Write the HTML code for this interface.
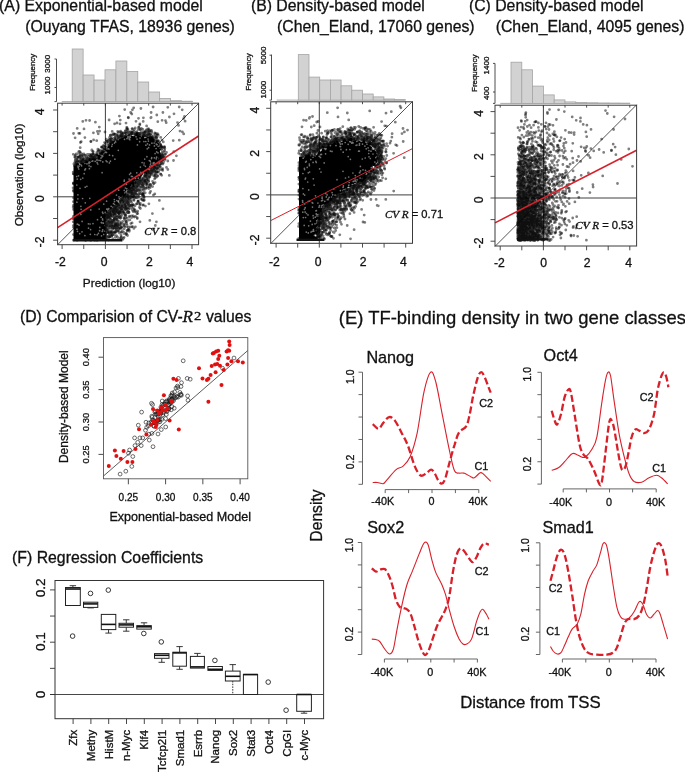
<!DOCTYPE html>
<html><head><meta charset="utf-8"><title>Figure</title>
<style>html,body{margin:0;padding:0;background:#fff;overflow:hidden}svg{display:block;will-change:transform}text{stroke:#111;stroke-width:0.3px}</style>
</head><body><svg width="685" height="774" viewBox="0 0 685 774"><defs><clipPath id="ca"><rect x="57.6" y="103.2" width="141.0" height="141.5"/></clipPath><clipPath id="cb"><rect x="270.7" y="101.8" width="141.8" height="141.5"/></clipPath><clipPath id="cc"><rect x="495.0" y="105.2" width="141.60000000000002" height="140.8"/></clipPath><filter id="bl" x="-5%" y="-5%" width="110%" height="110%"><feGaussianBlur stdDeviation="0.5"/></filter></defs><rect width="685" height="774" fill="#fff"/><text x="-0.90" y="11.20" font-size="15.8" text-anchor="start" font-family='"Liberation Sans", sans-serif' fill="#111">(A) Exponential-based model</text><text x="25.30" y="31.90" font-size="15.8" text-anchor="start" font-family='"Liberation Sans", sans-serif' fill="#111">(Ouyang TFAS, 18936 genes)</text><line x1="61.80" y1="101.60" x2="192.43" y2="101.60" stroke="#a8a8a8" stroke-width="1"/><rect x="72.20" y="49.00" width="10.93" height="52.60" fill="#d2d2d2" stroke="#a4a4a4" stroke-width="0.8"/><rect x="83.13" y="75.00" width="10.93" height="26.60" fill="#d2d2d2" stroke="#a4a4a4" stroke-width="0.8"/><rect x="94.06" y="80.00" width="10.93" height="21.60" fill="#d2d2d2" stroke="#a4a4a4" stroke-width="0.8"/><rect x="104.99" y="69.80" width="10.93" height="31.80" fill="#d2d2d2" stroke="#a4a4a4" stroke-width="0.8"/><rect x="115.92" y="61.00" width="10.93" height="40.60" fill="#d2d2d2" stroke="#a4a4a4" stroke-width="0.8"/><rect x="126.85" y="71.50" width="10.93" height="30.10" fill="#d2d2d2" stroke="#a4a4a4" stroke-width="0.8"/><rect x="137.78" y="82.00" width="10.93" height="19.60" fill="#d2d2d2" stroke="#a4a4a4" stroke-width="0.8"/><rect x="148.71" y="92.00" width="10.93" height="9.60" fill="#d2d2d2" stroke="#a4a4a4" stroke-width="0.8"/><rect x="159.64" y="98.40" width="10.93" height="3.20" fill="#d2d2d2" stroke="#a4a4a4" stroke-width="0.8"/><rect x="170.57" y="100.70" width="10.93" height="0.90" fill="#d2d2d2" stroke="#a4a4a4" stroke-width="0.8"/><rect x="181.50" y="101.20" width="10.93" height="0.40" fill="#d2d2d2" stroke="#a4a4a4" stroke-width="0.8"/><line x1="56.50" y1="59.00" x2="56.50" y2="101.60" stroke="#3a3a3a" stroke-width="0.9"/><line x1="54.50" y1="59.00" x2="56.50" y2="59.00" stroke="#3a3a3a" stroke-width="0.9"/><line x1="54.50" y1="87.50" x2="56.50" y2="87.50" stroke="#3a3a3a" stroke-width="0.9"/><line x1="54.50" y1="101.60" x2="56.50" y2="101.60" stroke="#3a3a3a" stroke-width="0.9"/><text x="50.30" y="63.80" font-size="8" text-anchor="middle" font-family='"Liberation Sans", sans-serif' fill="#111" transform="rotate(-90 50.30 63.80)">3000</text><text x="50.30" y="85.50" font-size="8" text-anchor="middle" font-family='"Liberation Sans", sans-serif' fill="#111" transform="rotate(-90 50.30 85.50)">1000</text><text x="35.50" y="72.40" font-size="7.9" text-anchor="middle" font-family='"Liberation Sans", sans-serif' fill="#111" transform="rotate(-90 35.50 72.40)">Frequency</text><text x="250.90" y="11.20" font-size="15.8" text-anchor="start" font-family='"Liberation Sans", sans-serif' fill="#111">(B) Density-based model</text><text x="277.00" y="31.90" font-size="15.8" text-anchor="start" font-family='"Liberation Sans", sans-serif' fill="#111">(Chen_Eland, 17060 genes)</text><line x1="276.70" y1="100.10" x2="405.30" y2="100.10" stroke="#a8a8a8" stroke-width="1"/><rect x="298.30" y="54.60" width="10.70" height="45.50" fill="#d2d2d2" stroke="#a4a4a4" stroke-width="0.8"/><rect x="309.00" y="77.10" width="10.70" height="23.00" fill="#d2d2d2" stroke="#a4a4a4" stroke-width="0.8"/><rect x="319.70" y="80.00" width="10.70" height="20.10" fill="#d2d2d2" stroke="#a4a4a4" stroke-width="0.8"/><rect x="330.40" y="80.00" width="10.70" height="20.10" fill="#d2d2d2" stroke="#a4a4a4" stroke-width="0.8"/><rect x="341.10" y="85.80" width="10.70" height="14.30" fill="#d2d2d2" stroke="#a4a4a4" stroke-width="0.8"/><rect x="351.80" y="90.20" width="10.70" height="9.90" fill="#d2d2d2" stroke="#a4a4a4" stroke-width="0.8"/><rect x="362.50" y="94.00" width="10.70" height="6.10" fill="#d2d2d2" stroke="#a4a4a4" stroke-width="0.8"/><rect x="373.20" y="96.90" width="10.70" height="3.20" fill="#d2d2d2" stroke="#a4a4a4" stroke-width="0.8"/><rect x="383.90" y="99.00" width="10.70" height="1.10" fill="#d2d2d2" stroke="#a4a4a4" stroke-width="0.8"/><rect x="394.60" y="99.60" width="10.70" height="0.50" fill="#d2d2d2" stroke="#a4a4a4" stroke-width="0.8"/><line x1="271.50" y1="54.60" x2="271.50" y2="100.10" stroke="#3a3a3a" stroke-width="0.9"/><line x1="269.50" y1="55.20" x2="271.50" y2="55.20" stroke="#3a3a3a" stroke-width="0.9"/><line x1="269.50" y1="90.20" x2="271.50" y2="90.20" stroke="#3a3a3a" stroke-width="0.9"/><line x1="269.50" y1="100.10" x2="271.50" y2="100.10" stroke="#3a3a3a" stroke-width="0.9"/><text x="266.30" y="55.40" font-size="8" text-anchor="middle" font-family='"Liberation Sans", sans-serif' fill="#111" transform="rotate(-90 266.30 55.40)">5000</text><text x="266.30" y="89.60" font-size="8" text-anchor="middle" font-family='"Liberation Sans", sans-serif' fill="#111" transform="rotate(-90 266.30 89.60)">1000</text><text x="251.20" y="72.00" font-size="7.9" text-anchor="middle" font-family='"Liberation Sans", sans-serif' fill="#111" transform="rotate(-90 251.20 72.00)">Frequency</text><text x="468.90" y="11.20" font-size="15.8" text-anchor="start" font-family='"Liberation Sans", sans-serif' fill="#111">(C) Density-based model</text><text x="495.70" y="31.90" font-size="15.8" text-anchor="start" font-family='"Liberation Sans", sans-serif' fill="#111">(Chen_Eland, 4095 genes)</text><line x1="500.30" y1="103.40" x2="629.80" y2="103.40" stroke="#a8a8a8" stroke-width="1"/><rect x="511.00" y="62.20" width="10.80" height="41.20" fill="#d2d2d2" stroke="#a4a4a4" stroke-width="0.8"/><rect x="521.80" y="69.80" width="10.80" height="33.60" fill="#d2d2d2" stroke="#a4a4a4" stroke-width="0.8"/><rect x="532.60" y="86.10" width="10.80" height="17.30" fill="#d2d2d2" stroke="#a4a4a4" stroke-width="0.8"/><rect x="543.40" y="94.90" width="10.80" height="8.50" fill="#d2d2d2" stroke="#a4a4a4" stroke-width="0.8"/><rect x="554.20" y="99.90" width="10.80" height="3.50" fill="#d2d2d2" stroke="#a4a4a4" stroke-width="0.8"/><rect x="565.00" y="101.90" width="10.80" height="1.50" fill="#d2d2d2" stroke="#a4a4a4" stroke-width="0.8"/><rect x="575.80" y="102.50" width="10.80" height="0.90" fill="#d2d2d2" stroke="#a4a4a4" stroke-width="0.8"/><rect x="586.60" y="102.80" width="10.80" height="0.60" fill="#d2d2d2" stroke="#a4a4a4" stroke-width="0.8"/><rect x="597.40" y="103.00" width="10.80" height="0.40" fill="#d2d2d2" stroke="#a4a4a4" stroke-width="0.8"/><rect x="608.20" y="103.10" width="10.80" height="0.30" fill="#d2d2d2" stroke="#a4a4a4" stroke-width="0.8"/><rect x="619.00" y="103.20" width="10.80" height="0.20" fill="#d2d2d2" stroke="#a4a4a4" stroke-width="0.8"/><line x1="495.00" y1="63.40" x2="495.00" y2="103.40" stroke="#3a3a3a" stroke-width="0.9"/><line x1="493.00" y1="63.40" x2="495.00" y2="63.40" stroke="#3a3a3a" stroke-width="0.9"/><line x1="493.00" y1="92.00" x2="495.00" y2="92.00" stroke="#3a3a3a" stroke-width="0.9"/><line x1="493.00" y1="103.40" x2="495.00" y2="103.40" stroke="#3a3a3a" stroke-width="0.9"/><text x="489.40" y="65.50" font-size="8" text-anchor="middle" font-family='"Liberation Sans", sans-serif' fill="#111" transform="rotate(-90 489.40 65.50)">1400</text><text x="489.40" y="93.30" font-size="8" text-anchor="middle" font-family='"Liberation Sans", sans-serif' fill="#111" transform="rotate(-90 489.40 93.30)">400</text><text x="477.30" y="73.30" font-size="7.9" text-anchor="middle" font-family='"Liberation Sans", sans-serif' fill="#111" transform="rotate(-90 477.30 73.30)">Frequency</text><line x1="105.40" y1="103.20" x2="105.40" y2="244.70" stroke="#2a2a2a" stroke-width="0.9"/><line x1="57.60" y1="196.80" x2="198.60" y2="196.80" stroke="#2a2a2a" stroke-width="0.9"/><line x1="57.60" y1="244.71" x2="198.60" y2="103.38" stroke="#2a2a2a" stroke-width="0.8"/><g clip-path="url(#ca)"><path d="M73.5 240.3 L73.5 238.7 L73.5 237.1 L73.5 235.5 L73.5 233.8 L73.5 232.2 L73.5 230.6 L73.5 229.0 L73.5 227.4 L73.5 225.8 L73.5 224.1 L73.5 222.5 L73.5 220.9 L73.5 219.3 L73.5 217.7 L73.5 216.1 L73.5 214.5 L73.5 212.8 L73.5 211.2 L73.5 209.6 L73.5 208.0 L73.5 206.4 L73.5 204.8 L73.5 203.2 L73.5 201.5 L73.5 199.9 L73.5 198.3 L73.5 196.7 L73.5 195.1 L73.5 193.5 L73.5 191.8 L73.5 190.2 L73.5 188.6 L73.5 187.0 L73.5 185.4 L73.5 183.8 L73.5 182.2 L73.5 180.5 L73.5 178.9 L73.5 177.3 L73.5 175.7 L73.5 174.1 L73.5 172.5 L73.5 170.8 L73.5 169.2 L73.5 167.6 L73.5 166.0 L75.1 165.8 L76.5 163.8 L77.9 163.1 L80.1 165.3 L81.1 162.4 L83.9 163.0 L85.0 162.0 L86.8 160.3 L88.2 161.6 L88.3 159.6 L89.2 158.0 L90.9 158.6 L93.2 158.6 L96.6 157.4 L98.0 157.0 L96.4 155.2 L100.8 154.7 L100.5 152.8 L102.6 151.2 L105.2 151.0 L107.4 148.6 L107.1 149.3 L107.4 146.7 L109.2 145.5 L110.0 144.0 L109.9 143.2 L114.3 140.3 L115.0 141.4 L114.6 142.7 L117.6 138.0 L118.0 138.5 L119.7 138.7 L121.0 138.3 L122.7 137.8 L126.1 135.7 L126.0 136.0 L127.8 135.1 L129.4 134.0 L130.1 134.9 L133.5 136.2 L134.0 134.5 L134.0 133.8 L138.0 132.7 L138.2 135.3 L141.9 136.5 L142.0 136.0 L143.2 135.9 L144.9 138.4 L146.3 136.5 L148.8 137.1 L150.0 137.5 L151.4 136.8 L153.3 138.3 L155.0 139.5 L157.7 141.6 L157.6 143.0 L159.0 143.5 L159.4 146.6 L160.7 147.9 L161.5 149.0 L159.8 151.2 L159.2 150.1 L160.8 153.2 L161.0 156.0 L160.2 160.5 L158.0 158.9 L158.0 161.5 L157.0 163.6 L155.3 164.3 L155.1 166.6 L153.0 167.5 L150.3 168.7 L150.0 168.7 L148.8 170.2 L147.0 172.5 L147.0 173.9 L144.7 174.2 L143.3 173.7 L140.8 177.7 L141.0 178.5 L136.9 180.5 L135.9 181.4 L135.5 182.4 L135.0 182.5 L134.0 182.0 L134.2 187.0 L131.5 186.3 L130.3 186.8 L130.7 188.7 L128.2 189.8 L126.4 190.6 L126.0 193.5 L126.4 194.7 L124.9 196.2 L121.7 197.2 L120.8 198.9 L119.8 199.9 L117.5 200.7 L118.0 203.0 L118.7 203.5 L114.1 206.0 L115.8 205.2 L112.5 207.4 L111.5 209.5 L107.8 211.5 L108.4 211.8 L105.9 213.4 L105.3 214.0 L105.3 215.6 L105.3 217.3 L105.3 218.9 L105.3 220.6 L105.3 222.2 L105.3 223.9 L105.3 225.5 L105.3 227.2 L105.3 228.8 L105.3 230.4 L105.3 232.1 L105.3 233.7 L105.3 235.4 L105.3 237.0 L105.3 238.7 L105.3 240.3 L103.6 240.3 L102.0 240.3 L100.3 240.3 L98.6 240.3 L96.9 240.3 L95.3 240.3 L93.6 240.3 L91.9 240.3 L90.2 240.3 L88.6 240.3 L86.9 240.3 L85.2 240.3 L83.5 240.3 L81.9 240.3 L80.2 240.3 L78.5 240.3 L76.8 240.3 L75.2 240.3Z" fill="#000" filter="url(#bl)"/></g><g clip-path="url(#ca)"><path d="M154.1 165.9h0M90.3 234.3h0M77.0 229.2h0M144.0 165.0h0M101.5 154.6h0M143.7 175.0h0M101.1 154.8h0M84.9 170.1h0M129.7 137.0h0M156.6 144.6h0M102.5 212.2h0M80.7 179.3h0M124.5 139.3h0M85.2 187.2h0M85.0 169.3h0M90.0 162.3h0M111.8 142.8h0M106.5 152.5h0M136.1 136.7h0M82.0 231.8h0M143.9 141.5h0M130.2 135.9h0M137.0 139.1h0M110.4 161.2h0M107.1 161.8h0M81.6 165.8h0M160.4 148.3h0M89.1 165.8h0M113.5 203.7h0M78.5 175.8h0M154.1 164.0h0M143.1 175.9h0M150.4 164.8h0M154.0 162.7h0M102.5 218.9h0M103.0 213.3h0M155.5 141.3h0M114.5 201.6h0M107.8 210.1h0M104.5 231.1h0M106.7 209.1h0M97.0 160.3h0M101.0 155.2h0M112.7 155.7h0M106.6 201.2h0M103.8 204.1h0M112.3 144.4h0M129.8 139.7h0M85.6 168.8h0M98.4 233.4h0M97.2 234.8h0M126.3 183.9h0M101.2 217.2h0M137.2 181.0h0M134.6 181.8h0M140.0 138.0h0M148.6 169.2h0M97.1 162.7h0M107.6 209.1h0M158.2 146.3h0M114.8 204.6h0M80.3 212.9h0M88.7 162.0h0M154.7 163.4h0M97.5 219.7h0M119.4 198.6h0M145.0 173.9h0M101.7 222.8h0M77.2 179.1h0M87.0 163.8h0M90.9 166.6h0M128.0 136.4h0M79.7 233.7h0M139.6 141.7h0M84.9 235.6h0M114.4 143.1h0M159.1 158.3h0M152.0 165.6h0M156.2 158.8h0M144.1 163.0h0M140.4 167.1h0M125.4 188.0h0M157.1 144.6h0M102.8 156.0h0M129.2 138.9h0M77.5 231.3h0M111.8 146.3h0M86.9 186.3h0M124.2 181.2h0M90.6 229.6h0M111.2 206.3h0M121.0 197.6h0M158.0 152.8h0M126.5 184.3h0M132.4 176.5h0M84.8 163.3h0M124.8 193.0h0M108.6 149.0h0M95.2 161.3h0M152.2 167.8h0M149.5 144.9h0M142.1 162.6h0M89.0 163.6h0M136.8 172.8h0M80.0 188.3h0M77.9 194.8h0M89.8 198.3h0M99.0 160.3h0M139.5 175.3h0M99.6 230.7h0M82.1 221.4h0M151.7 157.5h0M155.5 140.4h0M109.4 162.9h0M151.5 158.6h0M148.1 139.0h0M155.1 153.6h0M80.9 214.4h0M78.8 169.0h0M105.0 225.5h0M138.3 175.5h0M77.6 165.8h0M77.9 198.8h0M156.1 148.5h0M108.0 211.6h0M105.7 152.1h0M147.2 148.8h0M103.8 234.5h0M143.5 173.1h0M102.2 231.4h0M144.7 159.1h0M80.9 206.3h0M112.8 207.4h0M137.4 144.9h0M105.5 213.5h0M78.5 224.5h0M141.4 173.6h0M101.8 222.7h0M129.6 174.4h0M127.0 138.6h0M101.5 235.8h0M145.8 141.5h0M85.3 202.8h0M106.1 160.8h0M131.5 176.4h0M90.1 224.0h0M109.0 210.5h0M92.7 160.9h0M108.1 149.0h0M149.7 166.5h0M118.3 150.3h0M156.2 144.1h0M90.9 159.8h0M82.8 178.1h0M156.6 157.2h0M148.6 147.7h0M97.8 164.0h0M89.4 168.7h0M104.8 152.4h0M108.8 208.7h0M145.4 166.3h0M82.6 198.5h0M93.0 223.6h0M101.8 155.3h0M149.0 169.1h0M101.3 222.5h0M102.7 229.8h0M128.0 137.5h0M118.7 190.2h0M108.4 209.6h0M76.7 176.5h0M124.3 180.2h0M119.0 196.8h0M76.9 202.2h0M78.2 167.6h0M135.3 178.1h0M147.5 143.8h0M130.7 173.2h0M90.8 209.9h0M135.5 178.5h0M114.3 199.5h0M111.3 209.6h0M109.5 155.2h0M151.9 143.2h0M102.1 172.7h0M132.0 185.4h0M100.6 160.6h0M154.4 157.8h0M77.3 224.2h0M146.9 156.7h0M125.6 192.1h0M103.5 153.7h0M156.7 151.9h0M99.2 209.0h0M102.8 161.9h0M102.7 220.0h0M126.8 188.8h0M76.8 185.0h0M146.3 137.0h0M150.3 161.2h0M140.9 172.3h0M97.0 159.3h0M81.1 209.3h0M154.2 143.0h0M153.1 163.1h0M116.5 195.1h0M145.9 145.2h0M150.1 169.6h0M79.1 225.2h0M114.9 159.2h0M119.8 199.1h0M99.8 227.4h0M135.4 181.4h0M116.8 200.5h0M134.5 134.8h0M152.8 165.3h0M101.0 158.1h0M108.9 149.0h0M122.7 196.5h0M105.2 212.3h0M149.3 160.6h0M92.0 161.2h0M130.3 137.5h0M150.7 163.0h0M115.7 142.0h0M84.2 173.7h0M148.4 141.1h0M89.3 161.9h0M118.3 139.4h0M129.1 179.1h0M124.2 190.3h0M138.3 178.2h0M103.4 223.2h0M94.9 158.2h0M103.9 234.5h0M81.2 164.8h0M154.4 145.9h0M118.1 139.4h0M94.8 234.5h0M102.1 156.8h0M88.4 223.8h0M88.5 228.2h0M154.7 163.7h0M79.1 166.1h0" fill="none" stroke="#fff" stroke-opacity="0.45" stroke-width="1.7" stroke-linecap="round" filter="url(#bl)"/></g><g clip-path="url(#ca)"><g fill="none" stroke="#000" stroke-opacity="0.5" stroke-width="2.84" stroke-linecap="round" filter="url(#bl)"><path d="M156.9 168.4h0M126.6 129.1h0M114.2 213.9h0M150.9 134.9h0M120.7 239.3h0M159.7 159.3h0M119.4 203.0h0M146.7 180.6h0M109.7 232.3h0M143.3 194.5h0M128.7 209.2h0M165.3 154.1h0M113.7 208.0h0M136.2 132.9h0M139.3 134.9h0M149.4 176.8h0M125.9 222.0h0M107.4 229.2h0M139.4 133.5h0M130.9 189.5h0M143.6 134.1h0M165.1 159.6h0M154.5 167.4h0M127.0 195.3h0M143.6 135.3h0M134.2 133.6h0M139.1 184.7h0M139.4 207.4h0M124.3 228.8h0M128.7 190.3h0M118.1 226.8h0M132.3 193.7h0M161.2 158.1h0M80.3 155.0h0M140.7 180.8h0M121.1 137.4h0M143.0 135.1h0M125.0 136.3h0M73.4 201.7h0M124.7 224.1h0M109.8 212.2h0M111.6 231.9h0M112.5 231.9h0M138.6 127.3h0M111.4 222.8h0M131.8 189.0h0M125.8 202.4h0M157.8 176.0h0M133.1 211.5h0M157.4 164.1h0M88.3 156.7h0M109.6 218.7h0M145.0 174.9h0M148.5 172.3h0M123.8 232.3h0M113.8 138.3h0M114.8 213.3h0M93.5 157.9h0M149.7 175.9h0M137.6 181.1h0M114.7 207.0h0M117.9 206.5h0M149.4 137.0h0M141.1 192.1h0M73.5 197.8h0M120.5 218.2h0M110.9 231.5h0M115.3 140.0h0M152.7 169.8h0M129.7 199.0h0M119.3 217.1h0M90.7 240.4h0M81.7 158.9h0M81.0 152.8h0M90.9 156.3h0M110.5 228.4h0M109.5 228.4h0M121.6 136.8h0M113.0 213.7h0M103.2 149.8h0M105.8 227.2h0M158.8 160.2h0M85.7 161.5h0M149.8 131.6h0M158.7 160.5h0M163.9 151.7h0M117.2 225.1h0M106.1 236.6h0M121.2 237.4h0M125.7 194.0h0M142.9 200.1h0M113.6 223.5h0M110.1 232.8h0M143.2 135.4h0M117.0 227.2h0M110.0 223.6h0M110.4 236.8h0M162.1 157.8h0M134.5 132.4h0M124.6 204.6h0M109.2 230.6h0M75.6 156.3h0M128.5 201.6h0M85.2 161.1h0M76.9 159.2h0M117.9 137.3h0M120.3 137.3h0M112.1 209.7h0M138.4 184.0h0M124.5 208.3h0M123.5 201.8h0M91.2 155.2h0M109.2 144.8h0M121.9 199.3h0M147.6 135.1h0M130.9 192.7h0M136.5 190.6h0M106.0 214.5h0M126.7 233.6h0M103.9 149.2h0M144.2 197.7h0M132.9 196.8h0M136.6 212.5h0M135.3 210.5h0M107.0 212.8h0M156.3 136.9h0M114.6 224.2h0M106.4 216.7h0M117.6 203.7h0M146.2 183.7h0M149.8 131.4h0M130.5 205.2h0M125.8 217.7h0M110.8 214.8h0M131.4 132.5h0M105.3 236.1h0M138.8 197.1h0M148.6 179.3h0M145.2 192.8h0M158.4 166.0h0M156.8 177.1h0M146.0 187.9h0M116.4 235.7h0M81.8 163.1h0M137.1 217.6h0M143.7 187.2h0M108.1 237.8h0M110.3 221.5h0M147.5 131.9h0M117.1 135.4h0M161.1 156.3h0M107.0 221.9h0M142.2 134.0h0M116.3 225.2h0M112.2 210.5h0M109.1 230.3h0M157.9 165.6h0M121.1 199.9h0M160.1 169.8h0M110.6 135.2h0M76.9 163.9h0M129.1 212.5h0M112.6 225.0h0M100.4 152.5h0M109.8 223.1h0M110.7 227.8h0M100.4 151.7h0M147.5 136.6h0M106.2 226.2h0M107.6 232.2h0M134.7 190.2h0M113.4 209.3h0M118.3 204.8h0M123.5 204.8h0M122.4 205.4h0M123.0 197.6h0M124.4 213.4h0M122.1 207.7h0M143.4 189.7h0M135.0 205.8h0M107.4 215.2h0M125.9 215.5h0M121.6 132.5h0M142.3 198.7h0M151.7 170.2h0M161.7 153.9h0M140.6 134.9h0M158.2 172.2h0M87.3 158.8h0M128.2 210.7h0M114.5 231.8h0M162.8 154.1h0M114.8 214.3h0M150.0 172.9h0M154.8 132.9h0M140.3 182.0h0M108.9 226.8h0M149.4 134.4h0M131.0 134.2h0M112.4 141.6h0M141.1 193.6h0M109.4 139.5h0M151.6 169.7h0M131.3 134.3h0M126.0 198.4h0M126.3 208.7h0M122.0 213.5h0M145.0 180.4h0M108.5 238.2h0M128.6 229.4h0M75.0 157.6h0M162.6 168.6h0M73.4 225.6h0M115.8 231.3h0M152.4 173.1h0M152.3 137.5h0M114.0 228.0h0M117.5 210.1h0M144.8 135.8h0M105.7 237.5h0M122.4 134.2h0M131.8 190.1h0M108.5 216.5h0M96.8 152.7h0M73.9 163.9h0M119.8 135.9h0M135.4 183.0h0M111.6 221.7h0M105.4 239.3h0M81.4 161.2h0M134.0 200.4h0M143.2 135.5h0M112.3 215.9h0M145.8 182.4h0M138.9 203.1h0M140.1 187.1h0M154.8 171.5h0M82.5 160.5h0M120.4 207.7h0M116.1 207.0h0M113.8 133.7h0M108.2 220.8h0M163.7 153.2h0M137.0 134.4h0M135.5 182.6h0M73.4 182.9h0M142.7 205.2h0M134.1 196.0h0M126.8 201.7h0M119.6 203.3h0M133.4 184.8h0M140.2 180.7h0M107.2 230.2h0M88.3 157.2h0M151.6 135.4h0M107.5 217.9h0M152.6 186.6h0M123.7 200.9h0M109.6 215.8h0M147.2 173.4h0M161.2 163.9h0M115.6 209.7h0M85.6 240.5h0M111.1 134.8h0M108.5 240.0h0M160.0 161.9h0M112.7 214.3h0M164.8 148.7h0M124.5 200.0h0M97.1 240.4h0M73.1 187.8h0M149.2 135.4h0M125.5 202.6h0M87.3 161.0h0M144.3 132.7h0M102.1 153.4h0M121.2 199.3h0M115.3 237.4h0M115.4 209.2h0M144.1 177.4h0M142.9 184.9h0M149.0 130.2h0M111.9 234.5h0M125.0 217.4h0M96.1 157.0h0M134.4 186.1h0M120.0 201.7h0M160.7 174.2h0M115.3 207.8h0M146.6 130.9h0M146.2 174.8h0M101.2 150.4h0M140.0 129.6h0M116.6 223.9h0M134.5 192.8h0M118.7 205.0h0M128.2 191.6h0M146.2 173.6h0M106.5 226.9h0M109.7 213.3h0M132.9 189.7h0M140.1 190.6h0M83.8 161.3h0M118.2 207.4h0M141.4 128.5h0M95.4 157.3h0M84.0 161.5h0M160.4 161.8h0M116.1 212.1h0M162.5 146.9h0M119.6 224.6h0M101.7 147.4h0M115.7 206.6h0M122.8 211.9h0M136.5 133.4h0M126.9 198.3h0M148.2 136.2h0M121.6 227.7h0M107.8 213.5h0M118.4 213.5h0M163.5 162.6h0M91.5 156.6h0M113.9 220.0h0M117.2 208.0h0M163.1 147.2h0M111.5 141.5h0M123.1 200.2h0M139.0 185.1h0M109.1 230.7h0M114.9 207.7h0M150.7 184.7h0M137.0 185.8h0M127.6 195.3h0M78.2 156.8h0M161.5 159.5h0M115.2 209.9h0M143.0 179.5h0M82.7 161.1h0M121.1 232.1h0M80.3 154.0h0M74.3 164.8h0M117.1 219.9h0M120.0 212.1h0M114.7 208.0h0M115.7 228.4h0M154.3 170.5h0M146.2 184.4h0M73.2 221.8h0M119.0 231.0h0M160.7 157.2h0M136.5 203.9h0M110.5 142.9h0M124.9 227.0h0M130.8 205.9h0M144.0 196.4h0M118.8 228.8h0M131.0 187.9h0M121.6 208.9h0M162.3 160.6h0M163.9 161.4h0M154.6 178.9h0M124.4 207.8h0M164.5 146.6h0M138.1 181.2h0M125.3 133.6h0M114.5 227.7h0M118.2 212.9h0M166.5 152.4h0M122.3 199.2h0M112.7 216.1h0M125.6 206.1h0M145.5 174.2h0M125.4 207.8h0M124.0 233.5h0M157.7 141.6h0M137.0 213.7h0M124.9 195.2h0M132.4 205.6h0M160.1 161.7h0M126.4 197.9h0M144.2 190.7h0M113.5 212.0h0M73.4 227.2h0M96.8 155.2h0M77.4 162.0h0M133.7 131.3h0M132.3 187.7h0M160.8 146.0h0M116.8 211.1h0M119.7 204.3h0M154.7 175.7h0M131.6 192.9h0M135.7 182.2h0M132.5 128.7h0M158.5 162.1h0M97.0 152.0h0M83.2 158.7h0M91.3 155.2h0M111.6 236.2h0M113.3 224.0h0M130.4 189.3h0M127.9 204.7h0M147.5 134.1h0M114.2 225.7h0M111.7 214.1h0M128.4 196.4h0M180.0 131.1h0M183.7 133.9h0M90.8 141.3h0M159.4 200.4h0M98.2 133.8h0M146.6 125.9h0M138.5 118.3h0M139.8 124.9h0M143.4 117.8h0M156.8 115.0h0M153.1 107.0h0M84.9 137.6h0M97.4 131.4h0M99.6 131.2h0M161.7 175.3h0M173.2 140.6h0M81.2 141.7h0M176.4 155.8h0M136.0 121.3h0M162.9 112.5h0M184.5 116.5h0M145.4 206.1h0M166.2 122.7h0M131.8 114.0h0"/><path d="M149.9 171.2h0M134.1 195.6h0M126.1 196.3h0M122.2 205.4h0M121.7 215.6h0M137.1 186.8h0M111.1 232.9h0M122.4 203.6h0M122.9 197.3h0M115.1 213.0h0M106.0 218.7h0M107.7 217.9h0M145.4 131.3h0M90.8 156.5h0M128.8 206.5h0M159.3 160.7h0M135.6 191.4h0M123.3 199.2h0M136.0 195.8h0M159.7 160.4h0M143.2 135.9h0M143.3 185.2h0M136.9 135.0h0M117.4 221.2h0M135.6 185.0h0M153.5 137.8h0M122.9 198.9h0M124.3 204.4h0M129.0 133.5h0M131.8 187.5h0M85.8 161.7h0M106.6 225.1h0M117.6 223.4h0M84.4 157.6h0M138.5 184.5h0M121.4 200.7h0M119.4 207.9h0M112.3 226.2h0M130.1 131.6h0M146.3 129.8h0M110.2 143.6h0M134.7 186.7h0M120.8 135.9h0M81.3 162.9h0M146.7 184.1h0M105.3 148.6h0M114.2 234.9h0M110.1 226.5h0M103.7 147.6h0M111.0 215.1h0M137.4 197.8h0M128.3 227.5h0M133.1 215.9h0M160.4 158.2h0M149.1 186.8h0M156.8 139.5h0M117.9 225.6h0M143.7 195.9h0M123.5 207.1h0M124.1 237.3h0M122.4 198.4h0M126.4 210.5h0M151.5 172.6h0M129.3 231.3h0M90.5 157.2h0M160.4 144.3h0M128.1 198.1h0M135.2 197.2h0M140.3 182.8h0M127.8 208.2h0M108.0 140.5h0M111.7 210.7h0M98.3 151.0h0M156.4 172.2h0M133.9 192.7h0M148.1 131.3h0M93.5 157.4h0M116.9 210.4h0M83.4 161.2h0M91.4 155.0h0M123.2 132.9h0M121.2 202.9h0M127.1 195.4h0M136.2 195.7h0M105.7 239.8h0M109.7 234.8h0M109.4 236.7h0M112.7 216.7h0M122.2 137.0h0M85.4 157.4h0M140.2 181.5h0M128.4 134.2h0M139.0 127.4h0M113.5 134.5h0M88.3 159.2h0M130.8 196.6h0M164.8 158.7h0M102.9 151.6h0M118.4 218.2h0M111.2 212.2h0M145.2 180.2h0M128.1 212.9h0M110.5 141.0h0M113.4 228.1h0M140.9 133.3h0M106.1 219.9h0M141.8 185.5h0M148.4 172.0h0M105.4 215.4h0M121.3 135.7h0M146.1 135.4h0M95.5 156.4h0M146.4 183.2h0M130.4 194.6h0M136.6 194.1h0M152.8 138.5h0M135.8 185.1h0M114.4 218.3h0M129.0 216.9h0M155.5 169.9h0M107.1 223.5h0M145.1 175.9h0M150.3 184.5h0M94.6 157.1h0M93.2 158.7h0M164.0 158.2h0M88.7 160.4h0M147.5 172.4h0M119.2 212.0h0M117.0 225.2h0M112.9 216.5h0M142.0 194.5h0M119.5 228.4h0M128.5 200.3h0M157.0 137.4h0M118.7 212.8h0M101.8 153.7h0M116.6 216.1h0M107.0 216.1h0M138.3 189.6h0M107.8 213.5h0M76.9 164.1h0M122.6 201.9h0M142.8 178.7h0M135.7 187.4h0M162.1 169.6h0M139.7 183.5h0M91.9 150.0h0M156.3 140.8h0M96.7 155.2h0M162.7 155.9h0M126.1 135.2h0M115.5 206.3h0M128.3 191.3h0M84.1 162.1h0M150.8 174.1h0M130.3 189.1h0M139.9 133.8h0M160.8 158.3h0M137.9 201.3h0M123.6 196.7h0M131.5 133.6h0M143.7 197.1h0M115.6 218.4h0M120.6 210.4h0M116.1 228.5h0M132.0 128.8h0M107.3 216.4h0M110.9 234.9h0M155.7 137.5h0M128.2 193.2h0M125.8 132.1h0M156.1 169.5h0M131.0 134.1h0M123.0 203.3h0M119.4 215.6h0M95.6 156.2h0M156.6 165.5h0M123.3 211.6h0M131.8 186.9h0M112.1 211.6h0M114.5 232.8h0M116.1 213.0h0M157.7 140.4h0M130.9 192.7h0M114.6 208.3h0M150.3 137.2h0M163.6 156.5h0M134.4 186.5h0M156.3 139.1h0M135.7 197.3h0M143.6 184.5h0M144.5 178.9h0M158.3 135.3h0M115.6 217.3h0M128.1 204.0h0M133.6 189.7h0M118.4 228.4h0M132.6 226.7h0M73.4 216.5h0M106.2 139.8h0M143.5 204.9h0M81.7 162.5h0M134.0 210.2h0M150.5 130.6h0M78.5 161.6h0M153.6 183.8h0M135.5 216.4h0M156.5 134.8h0M154.9 165.8h0M128.7 203.4h0M162.9 164.0h0M143.3 179.0h0M128.0 203.9h0M82.1 161.4h0M103.5 145.5h0M76.3 162.4h0M121.6 204.6h0M162.2 152.0h0M111.9 233.0h0M99.2 152.7h0M148.9 133.4h0M116.9 204.1h0M91.8 150.2h0M128.1 229.6h0M140.8 199.1h0M107.7 213.9h0M131.2 190.9h0M137.7 211.2h0M111.5 223.0h0M142.9 133.2h0M131.3 200.6h0M141.7 186.6h0M73.2 172.2h0M80.8 162.4h0M104.9 147.6h0M122.5 210.2h0M121.0 234.9h0M104.2 148.5h0M137.3 190.7h0M127.0 211.7h0M146.8 176.7h0M117.8 209.5h0M147.3 133.4h0M160.8 147.2h0M122.3 137.0h0M152.2 171.8h0M128.4 191.6h0M106.9 225.0h0M121.0 223.2h0M93.5 158.1h0M113.9 212.2h0M109.4 227.5h0M108.4 232.8h0M82.8 159.8h0M124.9 206.0h0M128.5 211.8h0M107.0 229.1h0M143.1 193.0h0M155.0 169.3h0M130.9 133.1h0M146.1 188.4h0M143.4 135.3h0M143.8 200.5h0M117.7 224.4h0M86.6 160.4h0M111.3 138.3h0M164.7 157.4h0M123.6 201.1h0M110.6 227.4h0M117.8 230.8h0M95.2 157.7h0M108.0 221.2h0M157.5 163.1h0M163.3 141.9h0M109.0 217.0h0M161.5 146.8h0M133.3 208.2h0M137.6 184.9h0M115.0 137.1h0M142.4 186.3h0M135.0 183.7h0M125.0 208.6h0M112.2 209.7h0M131.7 205.1h0M114.0 212.0h0M119.7 131.8h0M131.3 194.4h0M109.3 223.2h0M125.4 130.7h0M150.4 136.7h0M113.3 210.4h0M133.9 199.5h0M110.4 141.7h0M132.4 210.0h0M111.3 143.0h0M112.3 220.2h0M86.6 161.4h0M73.4 173.8h0M160.1 165.9h0M120.6 216.5h0M163.6 158.9h0M113.8 212.1h0M160.7 137.4h0M104.9 148.7h0M135.2 191.1h0M138.1 129.5h0M145.6 176.0h0M82.6 156.7h0M159.1 160.2h0M160.1 166.4h0M106.3 139.2h0M122.7 221.3h0M114.3 226.7h0M143.2 182.2h0M105.9 233.4h0M136.9 187.0h0M105.4 229.7h0M104.5 142.6h0M131.8 132.9h0M155.8 167.9h0M146.1 130.9h0M129.7 134.5h0M156.5 172.0h0M110.2 213.7h0M135.2 182.7h0M142.0 186.6h0M145.4 133.1h0M131.1 189.0h0M112.9 215.3h0M132.5 131.3h0M77.1 240.3h0M73.2 207.2h0M116.4 206.5h0M130.6 193.1h0M106.7 214.9h0M117.2 223.9h0M107.9 228.6h0M135.2 128.0h0M126.1 234.7h0M93.1 154.4h0M122.3 240.1h0M160.8 174.2h0M79.6 157.0h0M118.8 204.2h0M155.7 165.2h0M102.4 146.8h0M108.4 236.6h0M107.4 215.1h0M137.3 133.2h0M147.4 179.6h0M145.3 180.1h0M123.3 199.4h0M119.0 205.4h0M113.2 220.4h0M107.6 141.5h0M149.6 171.2h0M147.0 134.8h0M143.8 182.6h0M105.6 217.5h0M146.3 135.8h0M145.5 188.5h0M115.7 224.9h0M146.0 182.3h0M132.4 192.0h0M154.8 134.0h0M146.1 135.9h0M150.6 191.3h0M82.7 162.0h0M112.5 229.6h0M160.2 144.2h0M116.3 209.4h0M127.7 132.3h0M154.8 173.0h0M138.5 183.1h0M120.1 212.6h0M162.6 159.9h0M125.5 220.5h0M116.6 204.6h0M154.5 168.9h0M140.3 182.1h0M150.5 186.0h0M156.9 137.3h0M161.1 156.0h0M127.2 128.0h0M83.4 161.4h0M105.7 228.4h0M151.2 173.6h0M133.7 197.3h0M153.3 183.2h0M164.7 150.6h0M90.4 159.5h0M82.9 161.6h0M107.5 220.2h0M86.7 160.8h0M115.7 214.5h0M94.3 154.8h0M157.8 168.1h0M131.6 202.4h0M99.8 152.9h0M87.8 158.4h0M102.2 153.5h0M85.3 155.6h0M115.5 139.6h0M114.2 233.1h0M160.4 157.6h0M151.1 112.5h0M149.8 220.4h0M167.8 107.3h0M152.6 229.6h0M139.9 123.8h0M174.0 113.8h0M114.6 123.8h0M153.4 195.1h0M133.9 228.4h0M167.8 161.0h0M73.5 133.5h0M133.7 107.8h0M120.0 123.8h0M157.8 121.7h0M185.1 121.2h0M179.3 140.2h0M165.5 120.6h0M183.6 118.6h0M169.4 117.0h0M173.5 160.5h0M140.0 221.8h0M89.6 120.5h0M80.2 147.7h0"/><path d="M131.0 195.6h0M111.5 224.3h0M136.5 183.1h0M148.0 181.4h0M100.3 153.7h0M158.8 164.7h0M111.2 212.9h0M113.5 212.9h0M127.7 194.8h0M164.1 157.5h0M102.1 151.6h0M122.2 135.9h0M139.5 193.9h0M155.8 174.1h0M132.1 188.1h0M117.8 215.7h0M126.6 201.3h0M134.6 183.4h0M137.9 180.7h0M145.8 176.0h0M116.5 205.7h0M118.1 135.7h0M149.0 131.5h0M115.7 231.5h0M148.1 181.7h0M147.8 174.4h0M112.6 222.4h0M127.5 129.9h0M75.9 162.9h0M128.9 190.9h0M134.0 190.8h0M148.2 172.2h0M109.1 215.2h0M82.7 155.0h0M116.1 223.1h0M129.8 192.4h0M125.5 204.9h0M128.5 193.2h0M106.3 235.6h0M86.9 160.7h0M151.9 137.4h0M136.0 188.4h0M126.3 205.0h0M74.4 165.6h0M115.4 232.0h0M146.8 135.4h0M156.9 164.5h0M93.1 153.5h0M92.2 156.5h0M119.3 238.1h0M117.4 236.9h0M84.2 162.1h0M105.5 149.9h0M116.4 225.9h0M148.5 181.8h0M106.3 238.8h0M133.1 194.1h0M154.2 168.0h0M122.4 230.7h0M120.0 211.4h0M162.7 170.4h0M126.5 222.1h0M121.8 200.5h0M123.8 217.9h0M134.2 188.8h0M133.3 184.9h0M148.8 128.8h0M129.6 205.3h0M148.8 176.8h0M98.5 150.3h0M116.6 205.6h0M148.3 136.7h0M109.0 144.7h0M132.0 133.9h0M112.3 235.1h0M143.9 176.2h0M105.6 223.8h0M125.8 206.5h0M159.0 159.9h0M118.7 224.3h0M126.4 133.4h0M134.6 183.6h0M114.7 212.2h0M125.4 135.8h0M153.3 167.6h0M106.8 217.6h0M143.0 193.6h0M126.1 207.8h0M131.8 132.2h0M89.0 158.7h0M114.5 217.9h0M106.7 231.2h0M156.3 164.0h0M155.3 177.7h0M119.2 216.6h0M142.2 181.2h0M147.3 173.6h0M160.9 158.0h0M115.0 206.5h0M155.1 182.6h0M106.9 223.1h0M127.8 192.2h0M142.1 178.4h0M160.8 160.7h0M109.8 221.9h0M131.9 226.9h0M129.9 219.9h0M137.0 203.7h0M125.9 195.4h0M73.3 154.3h0M85.0 155.2h0M151.5 174.3h0M97.0 154.7h0M127.7 194.9h0M112.3 222.4h0M125.9 233.4h0M110.4 141.1h0M159.0 143.3h0M110.2 216.9h0M83.4 159.5h0M119.1 213.9h0M123.9 135.9h0M128.4 196.4h0M91.0 159.0h0M85.8 161.0h0M97.1 154.0h0M133.7 190.9h0M80.1 161.0h0M139.9 205.0h0M114.0 208.0h0M130.8 191.2h0M84.1 159.8h0M113.8 214.5h0M87.2 159.5h0M120.5 218.0h0M105.5 143.5h0M122.0 202.9h0M107.8 213.6h0M79.7 152.4h0M153.3 175.3h0M160.3 167.3h0M114.6 207.7h0M87.4 154.4h0M108.7 223.3h0M114.0 221.2h0M107.4 225.3h0M123.5 211.0h0M120.5 216.5h0M142.0 183.5h0M77.7 161.0h0M149.7 134.7h0M146.5 182.4h0M116.9 218.8h0M133.2 191.1h0M114.8 215.0h0M126.8 218.2h0M76.4 164.8h0M154.9 167.8h0M160.5 157.1h0M156.6 172.6h0M121.0 207.3h0M115.2 219.6h0M76.3 153.8h0M106.3 216.1h0M127.5 235.5h0M112.5 228.1h0M117.8 224.1h0M123.6 224.6h0M86.1 158.6h0M107.0 142.5h0M152.0 169.0h0M93.4 155.4h0M121.0 135.6h0M144.5 134.0h0M121.7 205.7h0M143.3 132.4h0M133.1 204.6h0M161.6 147.3h0M150.4 173.0h0M105.5 226.6h0M109.6 225.8h0M112.7 134.8h0M165.3 154.4h0M142.4 195.0h0M105.6 220.1h0M86.9 160.9h0M128.8 195.8h0M153.8 175.8h0M84.9 161.1h0M110.5 218.7h0M115.6 231.8h0M116.2 215.6h0M137.6 185.8h0M129.2 198.7h0M132.0 192.8h0M129.8 216.1h0M154.0 166.8h0M144.2 181.1h0M160.9 163.6h0M111.8 213.3h0M162.6 155.0h0M137.5 132.9h0M132.6 191.7h0M97.9 149.2h0M124.9 215.1h0M126.7 127.5h0M123.6 212.0h0M98.5 156.0h0M154.7 170.7h0M103.6 152.2h0M117.6 237.5h0M151.4 174.9h0M149.1 184.8h0M107.5 214.3h0M120.7 131.2h0M105.5 233.2h0M132.8 196.8h0M143.8 135.9h0M120.5 228.5h0M120.0 200.8h0M138.4 190.6h0M118.2 132.6h0M141.7 180.1h0M122.8 202.3h0M118.6 204.8h0M158.5 171.6h0M75.2 160.6h0M150.8 172.2h0M127.8 195.2h0M86.6 156.9h0M77.8 153.6h0M122.0 232.0h0M148.6 135.7h0M80.9 158.7h0M90.1 159.3h0M126.5 200.4h0M75.3 165.2h0M82.4 161.1h0M122.3 226.8h0M162.9 155.5h0M106.0 214.4h0M105.7 239.5h0M138.9 185.8h0M86.1 160.2h0M96.3 154.3h0M122.5 223.7h0M126.7 202.3h0M137.9 195.4h0M130.8 223.6h0M114.7 224.6h0M140.2 135.3h0M119.7 216.6h0M73.2 218.9h0M148.6 171.4h0M157.0 134.6h0M127.2 202.7h0M153.8 183.3h0M105.7 227.9h0M137.1 133.2h0M121.1 202.6h0M80.4 155.4h0M164.3 147.1h0M138.0 135.2h0M136.2 191.1h0M121.4 212.4h0M115.0 210.2h0M145.1 175.4h0M121.3 226.6h0M123.8 207.0h0M134.8 184.7h0M140.3 129.4h0M109.8 236.9h0M80.6 161.4h0M126.9 226.6h0M127.2 225.5h0M160.5 144.7h0M93.4 158.3h0M110.8 224.7h0M78.7 151.7h0M135.1 191.8h0M144.7 175.0h0M160.6 157.2h0M129.6 189.8h0M91.0 159.2h0M150.5 137.0h0M80.8 161.3h0M116.4 207.1h0M162.1 157.0h0M77.7 164.1h0M128.5 220.0h0M117.7 204.8h0M161.5 149.6h0M106.3 232.9h0M136.1 197.9h0M114.9 134.4h0M123.4 238.5h0M146.8 135.8h0M126.7 221.4h0M115.9 208.0h0M114.8 219.3h0M98.3 155.9h0M92.0 157.5h0M115.0 211.3h0M151.8 131.1h0M111.4 135.9h0M139.9 179.4h0M88.8 154.5h0M83.4 161.5h0M144.3 132.0h0M115.0 214.1h0M136.2 182.6h0M138.3 200.9h0M111.1 231.6h0M121.6 133.7h0M142.9 129.4h0M150.1 187.7h0M119.5 136.0h0M93.7 156.2h0M112.9 234.6h0M78.3 156.9h0M153.0 170.3h0M97.8 149.3h0M136.0 184.3h0M110.3 135.5h0M111.4 225.8h0M144.6 180.7h0M89.9 154.5h0M135.3 193.4h0M113.7 208.7h0M108.4 211.9h0M110.9 216.2h0M129.2 198.6h0M159.6 142.9h0M132.6 186.1h0M92.8 151.7h0M108.6 216.6h0M152.1 168.2h0M114.6 208.0h0M127.5 195.8h0M109.7 210.9h0M91.3 157.8h0M157.4 141.4h0M77.6 157.2h0M108.3 232.3h0M148.8 188.5h0M124.7 197.9h0M113.8 225.8h0M105.9 233.1h0M107.0 141.2h0M107.1 143.4h0M113.0 211.2h0M124.1 197.4h0M147.0 178.2h0M133.4 186.9h0M141.4 179.2h0M117.7 211.7h0M160.8 147.1h0M73.4 205.3h0M111.4 138.6h0M118.9 137.3h0M141.3 131.4h0M119.9 215.9h0M73.4 173.8h0M114.4 209.9h0M121.0 133.0h0M107.2 223.2h0M109.0 215.6h0M105.3 145.9h0M74.8 156.8h0M110.9 224.8h0M112.5 142.2h0M119.4 232.9h0M121.2 224.2h0M126.9 192.8h0M114.0 140.2h0M151.3 171.4h0M109.3 214.7h0M131.1 198.2h0M111.2 135.6h0M161.7 147.2h0M113.8 232.5h0M124.9 197.9h0M121.6 209.1h0M80.1 163.0h0M108.6 222.1h0M73.4 234.6h0M149.8 193.0h0M129.4 192.5h0M116.9 209.3h0M117.4 231.3h0M115.1 138.9h0M112.7 212.2h0M73.4 190.3h0M148.7 172.5h0M120.7 135.5h0M151.4 130.3h0M150.7 169.5h0M134.3 209.1h0M157.4 169.4h0M158.3 168.7h0M127.3 230.4h0M73.5 184.0h0M136.1 192.2h0M91.2 159.6h0M110.1 139.3h0M108.2 216.9h0M163.0 208.8h0M132.4 109.8h0M86.0 120.3h0M179.2 107.0h0M162.1 120.3h0M93.4 132.8h0M143.2 121.4h0M128.2 117.4h0M75.1 137.8h0M177.5 122.6h0M150.8 117.8h0M156.4 221.8h0M167.8 169.5h0M78.7 133.3h0M93.6 139.9h0M124.7 109.6h0M135.4 226.8h0M155.3 225.5h0M80.4 142.5h0M166.5 167.4h0M84.0 128.9h0M130.7 112.5h0M151.1 117.5h0"/><path d="M130.1 190.9h0M125.1 213.8h0M115.7 136.1h0M122.3 136.4h0M140.2 189.9h0M77.6 164.1h0M136.9 188.7h0M120.1 222.0h0M114.1 210.8h0M134.3 129.6h0M121.0 133.9h0M121.4 135.7h0M157.1 175.7h0M131.9 206.5h0M104.0 148.5h0M146.8 185.7h0M154.1 136.0h0M142.3 189.6h0M115.9 218.0h0M93.2 151.6h0M129.0 207.1h0M115.2 226.0h0M128.7 203.4h0M137.4 187.5h0M105.5 235.4h0M101.5 147.0h0M121.8 199.7h0M162.0 140.1h0M139.3 181.0h0M138.9 180.8h0M132.9 188.1h0M127.7 198.0h0M117.6 204.5h0M73.5 191.3h0M149.4 173.9h0M130.5 201.3h0M112.3 141.8h0M137.8 182.4h0M131.6 215.9h0M133.1 188.9h0M131.7 195.0h0M135.1 187.5h0M108.1 224.9h0M138.7 182.8h0M132.2 197.2h0M110.7 220.0h0M147.3 184.0h0M75.2 155.1h0M101.3 153.8h0M156.7 172.0h0M109.4 235.0h0M125.5 214.4h0M155.8 164.2h0M95.1 155.7h0M118.8 137.9h0M162.3 148.6h0M133.0 188.7h0M110.7 143.3h0M107.4 141.2h0M138.4 183.4h0M122.5 135.0h0M103.6 146.1h0M156.2 138.4h0M101.7 151.4h0M94.7 157.4h0M92.6 157.3h0M126.2 206.9h0M147.7 174.7h0M162.2 158.0h0M105.8 237.5h0M109.6 213.2h0M93.0 153.8h0M111.4 209.8h0M117.7 131.5h0M117.9 138.4h0M142.2 200.0h0M148.5 171.5h0M154.5 138.0h0M107.8 141.9h0M121.5 208.7h0M116.7 229.5h0M157.9 133.9h0M159.9 158.7h0M123.9 196.7h0M161.1 158.3h0M156.4 133.3h0M138.5 188.4h0M128.0 195.8h0M124.9 203.9h0M76.6 160.7h0M80.7 160.8h0M100.4 154.1h0M90.4 159.9h0M133.9 197.2h0M152.6 181.3h0M89.8 155.6h0M143.5 188.0h0M161.7 147.7h0M150.6 137.5h0M106.5 230.1h0M73.4 240.2h0M134.4 197.3h0M134.2 217.1h0M110.2 217.1h0M114.1 209.8h0M122.5 135.0h0M157.2 141.1h0M106.9 229.9h0M149.1 175.5h0M158.2 166.5h0M159.5 160.4h0M90.8 156.1h0M130.8 207.0h0M126.2 202.3h0M125.6 209.6h0M161.6 162.2h0M117.4 212.6h0M152.1 137.8h0M124.2 213.5h0M148.8 134.3h0M134.8 211.8h0M93.1 157.5h0M76.8 158.9h0M143.1 194.5h0M149.5 177.3h0M85.3 160.3h0M113.5 208.6h0M143.4 188.9h0M144.3 200.2h0M82.8 159.6h0M159.7 164.8h0M125.4 215.4h0M133.7 195.1h0M110.5 225.6h0M105.6 225.1h0M129.8 197.0h0M132.1 192.3h0M78.3 157.5h0M111.1 232.5h0M137.1 133.2h0M111.8 235.8h0M126.7 223.6h0M128.0 206.9h0M125.6 202.1h0M120.5 210.6h0M140.4 208.5h0M147.8 128.9h0M111.8 141.3h0M112.4 210.1h0M121.0 227.4h0M115.2 217.3h0M146.4 176.9h0M100.8 154.3h0M144.6 136.2h0M105.7 220.6h0M132.5 196.9h0M107.6 141.6h0M81.3 156.6h0M111.1 142.8h0M106.4 224.2h0M121.9 199.3h0M120.5 206.4h0M120.4 227.7h0M143.2 182.9h0M143.9 183.4h0M110.5 219.4h0M135.5 182.7h0M126.1 199.3h0M115.6 232.4h0M129.1 133.8h0M123.2 135.9h0M122.4 198.3h0M159.0 166.0h0M127.0 230.8h0M147.7 187.0h0M143.3 186.4h0M136.2 194.0h0M132.1 222.9h0M147.9 187.0h0M109.9 211.5h0M131.3 205.3h0M108.5 231.4h0M111.4 209.8h0M123.6 136.7h0M121.4 206.8h0M113.7 228.3h0M139.1 182.0h0M115.3 209.3h0M109.5 137.4h0M132.2 133.5h0M137.7 213.6h0M119.1 213.5h0M153.7 167.4h0M142.3 187.3h0M94.0 158.0h0M130.4 189.0h0M137.6 134.6h0M108.1 216.1h0M156.4 167.9h0M109.2 211.7h0M130.1 189.3h0M134.9 187.6h0M81.5 163.0h0M144.8 180.9h0M113.1 209.2h0M162.4 159.2h0M110.5 214.7h0M125.4 200.0h0M99.1 150.0h0M145.5 176.4h0M116.5 207.1h0M139.5 182.3h0M145.1 132.0h0M139.1 135.4h0M151.7 132.7h0M73.5 209.5h0M125.4 131.3h0M82.1 155.9h0M118.7 222.1h0M79.2 161.0h0M75.4 165.3h0M75.9 164.6h0M94.2 158.3h0M82.9 154.2h0M113.1 211.0h0M130.7 197.7h0M161.9 154.6h0M105.7 231.1h0M114.1 213.9h0M156.5 166.6h0M110.1 218.4h0M162.7 159.5h0M123.3 200.3h0M92.6 154.1h0M120.0 207.3h0M153.5 136.2h0M119.2 212.9h0M152.3 168.2h0M140.2 180.7h0M79.8 157.0h0M133.4 195.8h0M75.5 159.7h0M109.5 221.3h0M115.6 210.6h0M118.8 210.1h0M156.4 137.7h0M133.3 204.9h0M117.9 227.0h0M114.8 218.0h0M105.8 148.5h0M79.7 158.3h0M120.2 201.3h0M122.9 133.3h0M79.5 158.4h0M101.0 154.1h0M128.6 212.2h0M150.9 133.8h0M139.3 192.6h0M107.3 218.1h0M106.0 147.3h0M108.9 232.6h0M128.0 129.3h0M115.4 224.1h0M109.8 215.0h0M73.5 183.3h0M124.9 203.8h0M109.9 221.3h0M128.2 202.1h0M158.8 140.9h0M117.2 217.2h0M140.4 203.5h0M112.0 139.5h0M130.6 188.2h0M127.7 199.7h0M118.5 138.1h0M105.6 219.7h0M133.6 187.2h0M115.3 217.8h0M111.0 139.8h0M125.2 209.4h0M124.3 219.0h0M125.8 202.5h0M121.3 236.8h0M79.6 151.5h0M99.0 155.5h0M127.2 212.6h0M93.0 157.3h0M139.5 133.2h0M151.6 169.6h0M121.5 238.4h0M160.9 156.9h0M146.7 179.1h0M116.5 134.5h0M139.0 189.3h0M144.3 135.3h0M112.2 220.4h0M114.0 219.2h0M163.4 157.5h0M106.1 223.8h0M119.1 206.2h0M113.4 209.0h0M138.9 194.6h0M126.5 131.6h0M106.3 219.5h0M151.4 170.3h0M126.2 202.3h0M155.5 167.0h0M120.6 137.5h0M154.6 136.1h0M127.8 201.8h0M120.0 201.5h0M94.4 157.6h0M138.1 201.3h0M131.1 208.1h0M128.6 132.5h0M104.0 149.8h0M141.4 180.3h0M112.3 221.3h0M115.2 134.2h0M132.0 189.9h0M83.9 153.9h0M80.9 161.8h0M161.0 145.7h0M115.2 228.3h0M93.2 157.7h0M148.8 181.1h0M105.6 220.5h0M111.4 140.2h0M134.5 133.2h0M112.0 140.7h0M153.7 168.5h0M136.3 132.2h0M157.4 167.5h0M136.6 131.7h0M124.7 132.7h0M116.2 138.2h0M164.3 147.6h0M158.3 161.6h0M119.1 210.0h0M114.9 222.2h0M105.8 234.1h0M134.0 133.9h0M94.8 240.3h0M126.6 202.3h0M153.1 171.2h0M115.7 211.0h0M140.9 183.7h0M115.1 207.7h0M106.8 226.1h0M124.4 201.9h0M110.9 220.2h0M162.8 156.3h0M110.9 220.3h0M116.1 225.3h0M108.3 236.4h0M147.0 174.5h0M112.8 238.7h0M141.2 188.3h0M136.2 182.7h0M141.7 185.9h0M128.8 132.1h0M155.3 175.4h0M129.5 191.7h0M124.3 226.0h0M74.8 162.4h0M130.4 133.6h0M113.2 211.6h0M131.2 190.6h0M108.8 214.9h0M131.6 217.6h0M126.4 201.7h0M137.3 218.6h0M97.2 155.2h0M118.4 206.5h0M110.7 142.5h0M126.3 197.6h0M141.6 187.1h0M114.0 214.0h0M117.2 136.3h0M140.1 204.1h0M107.9 146.0h0M127.7 208.0h0M131.1 190.4h0M92.6 157.6h0M107.2 215.4h0M149.8 177.0h0M109.0 217.2h0M106.3 229.6h0M119.7 208.3h0M129.8 208.4h0M143.0 135.9h0M111.8 226.0h0M119.9 226.1h0M112.5 210.1h0M118.9 227.0h0M107.2 226.1h0M146.7 179.0h0M109.3 211.5h0M130.1 227.0h0M118.7 221.4h0M103.9 147.1h0M131.8 195.7h0M129.3 229.9h0M115.5 219.4h0M91.6 159.3h0M173.8 151.6h0M112.2 131.4h0M82.8 121.4h0M128.4 117.8h0M109.1 120.0h0M117.0 123.0h0M95.4 122.2h0M154.8 193.9h0M99.3 127.1h0M152.4 213.6h0M105.0 132.0h0M96.7 140.7h0M148.9 203.8h0M140.9 108.5h0M178.5 125.4h0M182.4 131.9h0M120.3 120.1h0M79.9 133.4h0M126.0 123.1h0M91.0 141.7h0M119.4 116.1h0M169.3 175.4h0M182.2 109.8h0M77.2 128.4h0"/></g></g><line x1="73.20" y1="240.30" x2="122.00" y2="240.30" stroke="#111" stroke-width="2.4"/><line x1="57.60" y1="227.70" x2="198.60" y2="136.00" stroke="#d8202a" stroke-width="1.6"/><rect x="57.60" y="103.20" width="141.00" height="141.50" fill="none" stroke="#3a3a3a" stroke-width="1"/><line x1="53.10" y1="240.20" x2="57.60" y2="240.20" stroke="#3a3a3a" stroke-width="0.9"/><line x1="62.10" y1="244.70" x2="62.10" y2="249.00" stroke="#3a3a3a" stroke-width="0.9"/><line x1="62.10" y1="103.20" x2="62.10" y2="105.60" stroke="#3a3a3a" stroke-width="0.9"/><line x1="53.10" y1="218.50" x2="57.60" y2="218.50" stroke="#3a3a3a" stroke-width="0.9"/><line x1="83.75" y1="244.70" x2="83.75" y2="249.00" stroke="#3a3a3a" stroke-width="0.9"/><line x1="83.75" y1="103.20" x2="83.75" y2="105.60" stroke="#3a3a3a" stroke-width="0.9"/><line x1="53.10" y1="196.80" x2="57.60" y2="196.80" stroke="#3a3a3a" stroke-width="0.9"/><line x1="105.40" y1="244.70" x2="105.40" y2="249.00" stroke="#3a3a3a" stroke-width="0.9"/><line x1="105.40" y1="103.20" x2="105.40" y2="105.60" stroke="#3a3a3a" stroke-width="0.9"/><line x1="53.10" y1="175.10" x2="57.60" y2="175.10" stroke="#3a3a3a" stroke-width="0.9"/><line x1="127.05" y1="244.70" x2="127.05" y2="249.00" stroke="#3a3a3a" stroke-width="0.9"/><line x1="127.05" y1="103.20" x2="127.05" y2="105.60" stroke="#3a3a3a" stroke-width="0.9"/><line x1="53.10" y1="153.40" x2="57.60" y2="153.40" stroke="#3a3a3a" stroke-width="0.9"/><line x1="148.70" y1="244.70" x2="148.70" y2="249.00" stroke="#3a3a3a" stroke-width="0.9"/><line x1="148.70" y1="103.20" x2="148.70" y2="105.60" stroke="#3a3a3a" stroke-width="0.9"/><line x1="53.10" y1="131.70" x2="57.60" y2="131.70" stroke="#3a3a3a" stroke-width="0.9"/><line x1="170.35" y1="244.70" x2="170.35" y2="249.00" stroke="#3a3a3a" stroke-width="0.9"/><line x1="170.35" y1="103.20" x2="170.35" y2="105.60" stroke="#3a3a3a" stroke-width="0.9"/><line x1="53.10" y1="110.00" x2="57.60" y2="110.00" stroke="#3a3a3a" stroke-width="0.9"/><line x1="192.00" y1="244.70" x2="192.00" y2="249.00" stroke="#3a3a3a" stroke-width="0.9"/><line x1="192.00" y1="103.20" x2="192.00" y2="105.60" stroke="#3a3a3a" stroke-width="0.9"/><text x="44.00" y="242.00" font-size="12.2" text-anchor="middle" font-family='"Liberation Sans", sans-serif' fill="#111" transform="rotate(-90 44.00 242.00)">-2</text><text x="60.30" y="265.90" font-size="12.2" text-anchor="middle" font-family='"Liberation Sans", sans-serif' fill="#111">-2</text><text x="44.00" y="198.60" font-size="12.2" text-anchor="middle" font-family='"Liberation Sans", sans-serif' fill="#111" transform="rotate(-90 44.00 198.60)">0</text><text x="104.20" y="265.90" font-size="12.2" text-anchor="middle" font-family='"Liberation Sans", sans-serif' fill="#111">0</text><text x="44.00" y="155.20" font-size="12.2" text-anchor="middle" font-family='"Liberation Sans", sans-serif' fill="#111" transform="rotate(-90 44.00 155.20)">2</text><text x="149.30" y="265.90" font-size="12.2" text-anchor="middle" font-family='"Liberation Sans", sans-serif' fill="#111">2</text><text x="44.00" y="111.80" font-size="12.2" text-anchor="middle" font-family='"Liberation Sans", sans-serif' fill="#111" transform="rotate(-90 44.00 111.80)">4</text><text x="189.80" y="265.90" font-size="12.2" text-anchor="middle" font-family='"Liberation Sans", sans-serif' fill="#111">4</text><text x="144.20" y="234.90" font-size="11.2" fill="#111"><tspan font-family='"Liberation Serif", serif' font-style="italic">CV R</tspan><tspan font-family='"Liberation Sans", sans-serif'> = 0.8</tspan></text><text x="129.10" y="286.50" font-size="11.8" text-anchor="middle" font-family='"Liberation Sans", sans-serif' fill="#111">Prediction (log10)</text><text x="23.30" y="175.00" font-size="11.7" text-anchor="middle" font-family='"Liberation Sans", sans-serif' fill="#111" transform="rotate(-90 23.30 175.00)">Observation (log10)</text><line x1="319.30" y1="101.80" x2="319.30" y2="243.30" stroke="#2a2a2a" stroke-width="0.9"/><line x1="270.70" y1="194.90" x2="412.50" y2="194.90" stroke="#2a2a2a" stroke-width="0.9"/><line x1="270.70" y1="243.61" x2="412.50" y2="101.48" stroke="#2a2a2a" stroke-width="0.8"/><g clip-path="url(#cb)"><path d="M299.0 239.5 L299.0 237.9 L299.0 236.3 L299.0 234.7 L299.0 233.0 L299.0 231.4 L299.0 229.8 L299.0 228.2 L299.0 226.6 L299.0 225.0 L299.0 223.3 L299.0 221.7 L299.0 220.1 L299.0 218.5 L299.0 216.9 L299.0 215.3 L299.0 213.6 L299.0 212.0 L299.0 210.4 L299.0 208.8 L299.0 207.2 L299.0 205.6 L299.0 204.0 L299.0 202.3 L299.0 200.7 L299.0 199.1 L299.0 197.5 L299.0 195.9 L299.0 194.3 L299.0 192.6 L299.0 191.0 L299.0 189.4 L299.0 187.8 L299.0 186.2 L299.0 184.6 L299.0 183.0 L299.0 181.3 L299.0 179.7 L299.0 178.1 L299.0 176.5 L299.0 174.9 L299.0 173.3 L299.0 171.6 L299.0 170.0 L299.0 168.4 L299.0 166.8 L299.0 165.2 L299.0 163.6 L299.0 161.9 L299.0 160.3 L299.0 158.7 L299.0 157.1 L299.8 156.6 L304.3 156.2 L303.8 158.0 L306.1 155.5 L307.2 155.2 L309.3 154.1 L310.4 156.4 L312.3 156.1 L314.4 156.2 L314.8 155.6 L316.9 155.0 L318.7 151.3 L319.3 150.1 L320.8 151.7 L322.6 148.0 L321.5 145.4 L324.9 146.6 L327.9 145.9 L326.7 145.0 L329.1 143.4 L330.0 144.8 L333.6 143.1 L334.5 140.7 L336.4 143.4 L335.9 140.6 L342.4 142.1 L342.3 140.5 L344.9 138.4 L345.7 139.4 L346.9 140.6 L347.2 140.0 L351.6 137.6 L352.8 139.7 L352.5 140.5 L356.3 140.0 L357.0 140.5 L358.3 140.3 L361.8 142.0 L363.3 140.5 L364.1 138.8 L365.5 142.4 L366.9 142.9 L370.0 142.6 L371.2 144.1 L372.0 144.9 L371.0 146.0 L373.6 149.6 L375.6 149.5 L374.7 150.5 L377.2 151.9 L378.2 151.2 L377.0 153.7 L377.7 156.9 L378.7 160.6 L378.1 160.6 L377.3 161.7 L377.4 162.0 L375.6 163.7 L375.7 166.6 L372.4 165.7 L373.7 169.3 L373.8 170.8 L371.4 172.4 L369.7 172.6 L369.7 174.9 L369.7 174.1 L366.7 176.3 L365.3 176.5 L367.1 177.1 L362.4 181.9 L360.5 181.8 L359.8 181.5 L358.8 182.4 L358.3 182.7 L354.5 183.6 L354.3 185.7 L352.1 185.5 L351.0 186.7 L347.4 187.5 L346.7 188.8 L349.0 191.3 L346.4 190.4 L344.1 191.1 L342.3 192.0 L341.7 192.8 L337.3 193.9 L339.8 193.8 L334.5 195.5 L335.7 197.0 L333.6 197.2 L333.4 197.1 L332.0 200.1 L328.7 202.2 L329.4 202.5 L325.7 204.0 L324.9 204.2 L323.0 207.2 L322.6 207.1 L321.2 212.5 L318.7 209.9 L319.7 211.2 L319.7 212.7 L320.4 212.0 L318.1 216.6 L321.6 220.0 L319.0 219.7 L318.5 223.9 L317.9 223.4 L318.4 224.5 L315.8 228.4 L317.1 228.3 L318.5 230.9 L316.7 232.1 L318.2 231.1 L316.6 234.8 L314.7 235.6 L318.0 238.3 L316.2 239.5 L314.5 239.5 L312.8 239.5 L311.0 239.5 L309.3 239.5 L307.6 239.5 L305.9 239.5 L304.2 239.5 L302.4 239.5 L300.7 239.5Z" fill="#000" filter="url(#bl)"/></g><g clip-path="url(#cb)"><path d="M303.2 158.2h0M304.4 209.3h0M343.2 152.2h0M316.3 162.5h0M363.0 169.8h0M304.4 168.4h0M303.4 193.9h0M322.1 197.0h0M348.7 177.0h0M308.7 189.9h0M356.6 182.1h0M312.2 202.7h0M346.8 140.2h0M305.2 207.6h0M340.5 144.1h0M362.5 144.1h0M372.2 167.8h0M305.6 162.1h0M348.7 185.6h0M304.2 225.4h0M319.2 156.3h0M313.4 229.7h0M354.1 184.7h0M360.5 170.9h0M302.6 200.8h0M309.6 201.2h0M345.2 142.5h0M319.5 205.7h0M315.3 155.8h0M316.4 210.7h0M377.2 152.9h0M313.1 162.4h0M373.6 147.4h0M343.0 190.3h0M308.0 214.9h0M302.8 212.2h0M328.4 199.2h0M356.8 141.3h0M322.6 200.3h0M330.4 145.6h0M357.1 179.8h0M355.1 183.7h0M348.2 144.3h0M312.8 203.1h0M325.5 149.4h0M316.7 220.8h0M305.2 212.1h0M325.6 153.8h0M336.0 145.6h0M365.2 158.0h0M324.8 201.3h0M310.8 159.6h0M350.6 141.9h0M318.6 215.0h0M369.0 156.8h0M313.7 231.2h0M332.0 151.4h0M327.4 199.7h0M348.9 185.0h0M320.9 150.0h0M366.2 148.8h0M375.4 165.9h0M354.2 181.0h0M362.3 178.7h0M332.9 197.5h0M359.5 143.7h0M311.0 232.1h0M346.4 149.7h0M369.2 172.7h0M340.6 146.6h0M316.6 230.4h0M316.8 223.0h0M317.0 214.5h0M357.0 145.0h0M304.7 203.9h0M309.6 172.0h0M312.2 224.4h0M360.1 178.0h0M325.7 193.5h0M339.0 141.7h0M349.8 141.6h0M329.4 144.9h0M321.9 205.7h0M305.2 179.1h0M315.0 223.8h0M376.8 156.6h0M313.1 215.7h0M373.7 149.2h0M345.5 178.0h0M353.1 142.8h0M328.8 200.3h0M331.6 197.0h0M305.2 207.8h0M355.4 180.9h0M347.9 140.3h0M337.0 179.7h0M310.4 221.1h0M350.4 159.3h0M349.2 182.5h0M312.9 157.2h0M372.4 148.8h0M345.3 189.6h0M327.1 194.9h0M377.6 160.0h0M335.1 195.1h0M315.3 217.2h0M377.1 153.5h0M375.8 157.6h0M302.9 173.5h0M343.0 171.3h0M351.8 143.2h0M344.1 189.6h0M318.3 214.6h0M320.6 154.6h0M309.4 165.7h0M302.9 188.6h0M322.1 198.4h0M364.9 146.1h0M348.0 187.5h0M317.5 223.4h0M306.3 161.4h0M366.3 174.4h0M306.5 213.5h0M371.4 167.7h0M346.1 189.2h0M305.6 217.5h0M324.5 148.3h0M340.4 190.6h0M358.6 151.2h0M313.4 218.1h0M342.2 143.9h0M359.5 172.7h0M317.9 203.0h0M356.1 145.3h0M353.2 181.4h0M369.3 172.2h0M312.2 231.3h0M308.3 201.4h0M321.0 172.1h0M321.5 154.4h0M304.6 169.6h0M352.3 184.7h0M319.6 168.8h0M366.7 173.7h0M332.1 192.7h0M370.5 145.5h0M306.3 232.1h0M329.1 197.4h0M316.2 213.9h0M307.7 182.0h0M357.6 141.0h0M368.7 153.5h0M307.2 167.4h0M302.7 202.2h0M308.3 172.8h0M349.9 149.5h0M302.5 200.7h0M313.3 178.8h0M324.2 162.9h0M355.1 179.0h0M319.0 207.2h0M360.4 166.4h0M315.5 195.8h0M316.3 234.5h0M365.5 170.4h0M308.7 225.8h0M374.9 162.1h0M343.4 185.9h0M368.9 150.6h0M314.5 235.3h0M304.7 195.1h0M330.4 151.1h0M353.5 185.1h0M308.3 232.9h0M303.3 217.6h0M362.3 159.0h0M309.3 164.1h0M317.0 216.0h0M339.8 142.7h0M317.2 223.3h0M340.9 149.4h0M326.0 148.7h0M367.0 144.1h0M373.0 154.0h0M333.8 189.0h0M321.5 207.4h0M372.5 170.5h0M368.1 147.8h0M315.7 235.8h0M343.1 187.3h0M320.9 150.2h0M359.4 145.2h0M314.1 185.1h0M371.0 151.2h0M355.3 175.6h0M342.8 191.1h0M359.4 151.1h0M318.1 219.6h0M318.2 221.2h0M305.6 178.0h0M340.1 146.4h0M352.4 142.3h0M359.8 172.7h0M352.9 173.0h0M321.5 200.8h0M326.3 196.9h0M305.1 212.1h0M370.3 158.5h0M315.6 234.7h0M323.2 204.9h0M348.2 156.6h0M312.5 207.1h0M315.9 161.4h0M332.7 194.8h0M320.5 157.4h0M315.9 210.8h0" fill="none" stroke="#fff" stroke-opacity="0.45" stroke-width="1.7" stroke-linecap="round" filter="url(#bl)"/></g><g clip-path="url(#cb)"><g fill="none" stroke="#000" stroke-opacity="0.5" stroke-width="2.84" stroke-linecap="round" filter="url(#bl)"><path d="M362.1 179.9h0M344.3 194.6h0M316.2 150.3h0M344.8 139.4h0M327.9 204.2h0M334.0 214.6h0M363.3 184.5h0M368.1 142.1h0M349.4 135.7h0M298.9 223.7h0M318.6 232.7h0M320.2 211.0h0M326.9 142.5h0M374.0 179.3h0M299.0 199.1h0M370.1 129.7h0M375.2 177.9h0M325.9 211.4h0M365.9 180.2h0M339.0 196.0h0M313.6 150.9h0M307.4 146.9h0M322.9 220.1h0M333.0 223.1h0M381.9 156.1h0M306.2 153.9h0M324.8 219.9h0M363.4 139.9h0M320.7 223.6h0M331.8 224.1h0M346.6 208.8h0M375.7 165.8h0M337.6 202.9h0M327.0 227.9h0M333.1 203.3h0M337.8 202.2h0M333.1 141.4h0M315.8 150.1h0M379.7 156.2h0M318.0 229.9h0M377.8 157.2h0M331.7 202.1h0M342.8 212.7h0M348.2 138.0h0M332.0 209.6h0M320.2 217.3h0M340.1 140.6h0M331.0 207.1h0M318.0 224.2h0M343.0 140.4h0M354.0 185.9h0M344.8 209.4h0M364.8 180.8h0M373.5 181.8h0M353.9 186.4h0M373.7 146.1h0M358.6 186.3h0M321.8 214.5h0M299.0 190.5h0M356.8 188.6h0M352.0 133.2h0M344.2 209.5h0M365.8 127.8h0M322.2 214.1h0M336.5 197.2h0M327.9 207.0h0M347.1 140.0h0M334.3 207.0h0M356.7 136.6h0M378.8 153.0h0M327.5 133.4h0M308.4 154.5h0M326.2 226.6h0M327.3 203.4h0M316.6 137.5h0M335.6 214.5h0M368.6 141.4h0M344.0 133.2h0M331.2 210.0h0M365.5 182.5h0M366.3 177.1h0M323.6 218.0h0M313.9 143.8h0M376.3 176.2h0M364.6 139.0h0M337.5 202.4h0M337.9 133.5h0M321.7 220.2h0M334.0 220.4h0M333.1 221.5h0M309.6 150.2h0M366.3 130.9h0M332.8 224.9h0M317.2 236.5h0M339.3 140.1h0M366.3 140.8h0M340.6 212.6h0M348.5 139.6h0M314.9 149.7h0M329.5 216.9h0M323.8 210.4h0M326.8 218.2h0M329.9 130.8h0M317.3 237.3h0M349.2 193.6h0M341.8 196.9h0M328.5 207.0h0M318.6 224.4h0M382.3 156.7h0M333.7 209.6h0M338.5 206.8h0M315.0 152.9h0M310.6 145.2h0M345.7 205.8h0M373.8 177.3h0M298.9 212.9h0M335.1 222.1h0M320.7 213.3h0M317.3 150.9h0M365.9 186.4h0M318.7 148.1h0M331.3 199.1h0M361.1 181.7h0M320.1 144.3h0M319.1 215.6h0M328.2 202.7h0M349.9 138.8h0M314.7 151.6h0M379.3 147.1h0M334.2 227.9h0M317.5 231.7h0M347.3 200.3h0M371.4 139.6h0M378.4 164.2h0M341.1 138.6h0M337.4 133.9h0M329.3 210.7h0M322.2 232.2h0M312.5 151.7h0M367.6 180.7h0M354.2 139.7h0M369.2 178.2h0M326.0 226.0h0M380.2 162.4h0M378.7 176.9h0M316.0 145.2h0M360.4 133.3h0M357.9 140.0h0M323.3 226.9h0M320.6 147.2h0M329.6 232.8h0M348.6 203.6h0M332.6 199.2h0M360.6 127.5h0M309.6 156.4h0M321.7 145.8h0M349.8 188.7h0M334.6 199.5h0M381.9 152.5h0M339.1 194.2h0M365.9 180.7h0M323.8 225.7h0M364.5 183.5h0M318.7 145.5h0M335.3 139.0h0M351.8 193.4h0M384.8 160.7h0M319.8 211.3h0M336.5 138.4h0M344.2 192.5h0M346.0 191.5h0M379.2 151.3h0M318.1 234.4h0M310.4 139.7h0M371.3 134.8h0M367.6 136.8h0M340.3 140.3h0M335.2 200.1h0M337.8 201.2h0M300.5 154.5h0M311.4 148.3h0M338.5 206.8h0M377.5 179.2h0M322.6 210.6h0M313.0 147.9h0M357.3 140.0h0M356.7 187.6h0M310.2 152.0h0M378.7 143.2h0M334.2 221.8h0M383.3 163.6h0M364.4 179.4h0M356.8 191.6h0M365.6 136.3h0M319.0 218.1h0M371.4 136.3h0M349.0 130.5h0M319.4 146.7h0M317.6 230.1h0M353.7 193.9h0M342.5 194.4h0M347.2 193.0h0M375.9 144.6h0M344.7 203.0h0M311.3 155.4h0M378.8 157.7h0M334.5 140.1h0M306.0 155.1h0M319.7 216.9h0M350.9 134.3h0M317.4 228.9h0M322.7 209.2h0M344.0 217.1h0M380.2 159.9h0M363.1 137.2h0M345.0 195.2h0M369.1 178.1h0M340.5 222.2h0M314.1 145.1h0M343.9 200.1h0M364.3 179.5h0M331.1 143.4h0M325.8 214.8h0M325.8 204.7h0M319.0 219.2h0M346.3 134.4h0M360.6 198.8h0M341.3 217.6h0M318.5 230.5h0M316.0 140.7h0M318.2 223.9h0M354.7 208.1h0M329.9 214.1h0M343.2 194.9h0M379.5 161.3h0M379.4 164.9h0M321.8 217.0h0M371.9 137.9h0M340.2 128.6h0M372.3 144.7h0M351.1 133.3h0M328.7 222.9h0M334.9 228.0h0M349.2 194.6h0M366.5 186.9h0M344.0 202.4h0M344.8 194.1h0M375.2 144.2h0M372.9 145.3h0M312.9 152.0h0M328.7 210.3h0M379.7 173.3h0M310.9 150.7h0M368.6 140.9h0M354.1 127.4h0M328.3 203.2h0M342.3 209.8h0M318.2 226.0h0M369.9 142.2h0M364.0 140.1h0M331.3 133.1h0M363.5 139.2h0M323.4 145.4h0M315.0 153.9h0M327.3 209.7h0M353.2 186.2h0M331.8 209.7h0M370.8 174.2h0M367.3 187.7h0M377.9 155.2h0M361.7 188.3h0M348.5 194.0h0M304.1 154.5h0M320.1 213.4h0M312.3 146.3h0M324.4 239.0h0M344.4 197.3h0M345.4 205.8h0M382.4 156.9h0M350.8 136.0h0M356.2 137.2h0M348.8 196.9h0M351.0 133.9h0M325.3 144.4h0M379.5 148.8h0M368.8 179.7h0M349.6 191.7h0M324.2 144.6h0M339.0 138.1h0M350.8 187.0h0M328.5 227.1h0M325.9 213.3h0M309.1 153.5h0M355.6 206.5h0M352.0 130.7h0M327.5 227.5h0M348.6 202.7h0M326.6 226.9h0M337.1 204.2h0M320.2 145.9h0M343.3 192.2h0M369.2 137.8h0M324.2 218.8h0M338.5 196.4h0M383.7 141.1h0M308.7 139.0h0M381.5 150.7h0M354.2 134.9h0M363.7 181.5h0M338.6 196.6h0M350.4 205.6h0M337.2 138.5h0M344.9 139.5h0M304.5 154.1h0M340.2 131.9h0M377.9 151.7h0M334.2 207.1h0M324.1 213.0h0M321.6 221.1h0M377.6 145.6h0M376.6 173.1h0M361.2 137.2h0M343.7 193.5h0M320.8 222.0h0M366.1 140.7h0M318.9 224.6h0M311.6 145.5h0M345.9 196.9h0M336.9 135.0h0M326.5 137.5h0M356.4 188.8h0M370.7 186.8h0M343.1 201.1h0M347.6 189.1h0M349.0 131.9h0M317.3 149.0h0M304.8 155.2h0M344.1 202.3h0M348.9 193.2h0M355.9 186.5h0M342.5 198.9h0M350.3 190.7h0M304.5 137.2h0M361.9 140.3h0M345.3 140.0h0M320.1 211.6h0M337.8 133.6h0M336.3 140.9h0M327.1 211.1h0M347.4 131.4h0M379.9 154.0h0M328.9 144.9h0M379.7 150.1h0M379.9 166.2h0M378.7 155.0h0M357.2 188.6h0M343.4 193.7h0M356.0 203.2h0M317.9 231.0h0M338.0 217.1h0M345.2 194.2h0M338.7 196.7h0M356.4 199.2h0M349.8 138.4h0M353.7 202.3h0M383.1 145.6h0M325.4 223.9h0M377.7 150.0h0M308.5 153.8h0M344.1 202.1h0M323.5 219.5h0M358.2 185.6h0M321.6 211.4h0M344.9 138.8h0M340.1 198.9h0M315.7 141.9h0M320.7 223.5h0M381.2 147.3h0M362.7 191.7h0M313.1 150.9h0M375.1 146.6h0M379.7 160.2h0M298.9 184.1h0M311.4 141.0h0M357.2 187.0h0M379.7 167.2h0M359.9 186.6h0M358.8 140.0h0M335.5 140.6h0M321.6 210.4h0M367.0 138.6h0M359.4 182.0h0M355.4 188.8h0M313.6 138.2h0M325.8 216.4h0M364.8 137.4h0M379.2 161.3h0M333.8 201.9h0M364.8 137.8h0M364.4 182.6h0M318.9 237.1h0M328.8 139.8h0M319.7 137.0h0M374.0 140.5h0M340.2 204.4h0M384.7 169.2h0M362.6 182.0h0M335.7 197.3h0M383.8 156.5h0M341.8 138.6h0M370.5 176.8h0M331.5 200.7h0M301.2 150.6h0M336.2 214.1h0M371.0 180.2h0M356.7 137.8h0M357.3 132.1h0M325.5 145.4h0M344.8 131.7h0M364.1 139.8h0M308.6 155.0h0M366.2 188.4h0M329.2 132.2h0M324.2 208.7h0M353.8 193.0h0M316.6 144.2h0M375.2 146.0h0M345.7 192.3h0M365.1 193.6h0M362.1 140.0h0M341.8 137.6h0M365.0 178.7h0M332.9 199.3h0M349.9 189.5h0M370.5 138.9h0M327.5 205.0h0M356.4 201.6h0M355.6 136.9h0M353.6 188.6h0M378.6 154.6h0M381.2 162.1h0M341.0 209.4h0M324.3 231.5h0M349.4 130.3h0M320.1 216.4h0M360.0 196.9h0M374.8 172.9h0M298.9 177.5h0M305.1 142.5h0M353.0 128.7h0M373.9 174.8h0M360.1 192.5h0M353.2 210.1h0M382.0 146.2h0M352.3 187.4h0M371.6 177.1h0M335.0 198.7h0M298.9 162.7h0M347.3 136.2h0M318.4 135.6h0M324.1 239.5h0M356.3 189.1h0M372.2 189.6h0M382.4 156.3h0M331.7 201.6h0M350.0 191.5h0M326.4 229.8h0M315.6 139.1h0M360.1 182.9h0M329.9 235.4h0M317.4 145.8h0M325.1 207.0h0M323.5 208.5h0M316.1 145.8h0M309.7 155.5h0M378.4 148.4h0M330.3 205.3h0M364.1 195.0h0M343.1 201.1h0M342.4 140.2h0M321.6 147.0h0M361.1 186.2h0M318.0 233.6h0M361.4 132.7h0M319.6 229.4h0M378.3 205.8h0M393.6 153.3h0M318.0 130.5h0M347.2 225.5h0M303.6 120.2h0M311.3 127.0h0M354.1 212.4h0M364.8 222.4h0M390.0 143.2h0M381.6 121.6h0M377.2 205.4h0M393.7 191.1h0M350.5 238.8h0M403.2 141.5h0M337.6 107.8h0"/><path d="M319.0 227.6h0M380.0 157.0h0M377.7 161.6h0M346.5 193.3h0M344.9 211.2h0M352.8 136.9h0M346.0 191.4h0M322.4 139.5h0M383.5 145.0h0M367.5 178.4h0M376.8 172.8h0M303.7 155.3h0M311.3 153.9h0M329.7 217.1h0M319.7 215.2h0M348.9 138.8h0M301.1 141.0h0M330.3 213.0h0M374.2 188.2h0M309.4 152.5h0M302.0 154.3h0M351.9 210.5h0M376.4 150.0h0M380.3 152.3h0M322.0 223.1h0M357.1 193.7h0M328.5 215.8h0M345.6 137.5h0M331.5 141.9h0M347.8 189.9h0M322.1 219.1h0M327.6 216.2h0M327.9 206.6h0M360.8 189.7h0M298.9 191.0h0M339.9 206.0h0M317.2 148.4h0M349.1 191.0h0M336.0 137.6h0M325.1 206.4h0M333.8 213.4h0M310.6 151.4h0M362.3 186.6h0M381.3 145.5h0M365.0 187.8h0M379.1 149.2h0M329.9 205.6h0M330.3 207.1h0M318.0 230.8h0M315.9 140.6h0M336.0 139.9h0M371.3 178.9h0M325.3 131.2h0M373.7 141.3h0M372.0 182.5h0M373.0 179.5h0M364.4 192.0h0M299.8 139.9h0M322.9 140.4h0M367.3 178.4h0M331.6 140.2h0M323.4 141.4h0M332.1 236.5h0M340.7 209.7h0M380.3 150.0h0M308.1 154.5h0M322.7 147.0h0M364.3 179.7h0M326.0 138.3h0M381.7 156.8h0M316.2 137.4h0M361.8 135.8h0M369.9 132.4h0M362.3 183.0h0M338.8 200.7h0M361.2 140.0h0M376.9 167.2h0M323.7 228.2h0M321.4 237.7h0M360.1 185.2h0M320.0 219.5h0M378.9 162.6h0M320.5 223.6h0M322.7 139.7h0M327.3 206.2h0M332.1 201.4h0M345.0 207.9h0M376.2 180.8h0M325.2 214.4h0M324.1 145.1h0M320.2 234.2h0M323.9 144.3h0M361.5 139.6h0M317.9 228.2h0M367.2 137.8h0M315.2 155.0h0M353.2 138.5h0M327.8 205.8h0M328.1 201.8h0M348.9 189.7h0M334.4 139.4h0M302.4 140.2h0M377.5 165.7h0M357.6 131.8h0M345.8 193.5h0M364.2 181.9h0M329.6 232.5h0M328.0 144.2h0M321.3 210.4h0M370.5 176.9h0M332.3 210.6h0M378.1 159.1h0M369.5 174.7h0M339.6 196.1h0M341.4 132.3h0M368.6 137.4h0M381.2 152.4h0M379.7 139.5h0M371.0 139.4h0M304.4 151.8h0M340.0 135.8h0M379.9 180.4h0M343.4 194.1h0M356.6 191.3h0M337.5 202.8h0M299.0 179.6h0M328.9 225.4h0M344.7 197.9h0M319.2 232.9h0M330.3 208.8h0M317.9 148.7h0M378.7 152.9h0M320.6 235.8h0M323.6 223.4h0M324.6 217.8h0M310.7 150.1h0M304.5 147.8h0M347.6 204.1h0M319.3 235.1h0M381.0 153.5h0M327.5 203.9h0M312.8 139.6h0M307.2 151.3h0M316.7 152.9h0M337.7 207.5h0M363.7 178.9h0M315.3 147.6h0M361.1 182.0h0M326.2 223.9h0M345.2 133.2h0M334.2 197.0h0M318.3 149.8h0M373.4 140.6h0M373.9 173.9h0M299.0 167.4h0M330.6 230.5h0M369.0 178.4h0M305.2 147.2h0M344.4 191.0h0M327.2 143.8h0M364.0 182.8h0M376.7 144.1h0M376.2 149.3h0M350.2 137.4h0M344.4 194.0h0M371.0 183.5h0M369.0 177.3h0M317.6 150.8h0M347.7 129.0h0M361.1 139.7h0M324.0 238.4h0M378.7 163.2h0M322.8 219.7h0M343.9 208.6h0M369.6 141.3h0M376.7 167.0h0M302.2 143.2h0M370.1 173.8h0M363.5 139.7h0M371.5 183.2h0M381.6 141.2h0M374.8 146.8h0M323.3 225.4h0M317.5 233.3h0M365.0 188.3h0M320.2 215.4h0M372.9 171.4h0M338.5 195.2h0M319.3 219.2h0M368.3 187.6h0M326.3 208.9h0M312.3 150.8h0M319.5 225.9h0M316.5 140.5h0M308.5 156.4h0M320.1 215.6h0M353.2 193.9h0M364.7 180.7h0M355.2 196.8h0M326.4 209.8h0M329.3 200.9h0M382.4 164.4h0M378.4 164.1h0M330.0 143.0h0M326.2 220.4h0M353.1 196.7h0M305.8 150.9h0M325.9 138.4h0M310.5 155.9h0M314.2 143.4h0M320.1 147.8h0M332.0 137.4h0M365.6 139.7h0M314.3 145.3h0M328.5 144.6h0M376.4 137.5h0M343.5 201.1h0M358.5 187.0h0M353.5 189.0h0M378.0 139.1h0M377.8 172.6h0M336.3 140.2h0M373.6 182.6h0M376.2 149.7h0M367.5 133.4h0M314.9 153.3h0M303.3 140.7h0M345.1 207.1h0M341.8 196.7h0M360.8 183.9h0M352.6 137.5h0M312.8 151.4h0M373.8 177.0h0M298.7 153.3h0M386.6 143.7h0M337.9 215.7h0M336.4 141.3h0M321.0 213.2h0M376.6 180.7h0M334.8 200.9h0M321.6 144.7h0M342.1 195.4h0M299.0 189.8h0M362.7 200.3h0M321.6 213.4h0M379.5 150.8h0M331.3 137.0h0M316.1 151.3h0M306.7 142.0h0M375.9 183.3h0M320.9 217.0h0M370.7 143.5h0M332.1 215.3h0M319.8 219.2h0M299.0 177.5h0M376.8 179.9h0M312.6 146.0h0M339.7 206.3h0M361.5 140.1h0M377.6 172.3h0M375.4 146.6h0M374.9 137.1h0M365.7 183.1h0M353.4 193.1h0M336.6 201.1h0M337.0 141.5h0M380.3 146.8h0M355.1 187.5h0M364.1 184.3h0M323.4 137.0h0M319.9 224.8h0M350.3 192.1h0M374.7 145.8h0M319.6 232.0h0M385.6 151.6h0M331.9 214.0h0M354.4 134.4h0M335.5 210.1h0M329.5 203.7h0M338.3 134.7h0M353.8 138.9h0M373.0 176.0h0M340.8 201.3h0M367.4 131.6h0M310.6 155.3h0M350.1 138.0h0M368.2 138.4h0M326.9 210.4h0M344.8 195.3h0M358.1 137.3h0M320.4 139.4h0M332.8 141.7h0M362.1 182.0h0M328.3 219.5h0M332.1 130.3h0M334.0 139.1h0M379.6 166.8h0M342.1 209.1h0M378.1 158.4h0M382.9 173.1h0M379.5 168.3h0M340.2 195.6h0M326.0 141.0h0M379.3 147.2h0M331.2 214.5h0M298.9 210.1h0M369.6 133.4h0M317.9 236.6h0M350.3 195.2h0M379.3 133.4h0M333.7 198.2h0M355.7 185.2h0M344.4 205.7h0M380.3 156.0h0M299.5 137.7h0M323.8 145.9h0M372.7 171.7h0M322.0 228.7h0M298.9 169.2h0M311.4 155.5h0M376.7 150.6h0M375.1 146.9h0M354.7 185.2h0M315.6 153.5h0M354.2 186.4h0M317.3 150.9h0M334.8 224.0h0M345.6 191.4h0M338.3 199.2h0M318.2 224.8h0M350.6 188.3h0M357.3 183.9h0M359.1 196.9h0M332.4 216.9h0M349.8 197.1h0M365.4 186.6h0M378.1 163.0h0M333.8 212.7h0M311.4 139.5h0M371.2 182.6h0M375.6 147.7h0M381.0 170.7h0M346.0 199.4h0M316.7 150.5h0M328.7 204.4h0M379.0 138.6h0M375.6 165.8h0M362.2 185.5h0M337.4 200.7h0M319.4 222.6h0M375.7 167.2h0M361.7 132.0h0M356.7 189.8h0M340.7 203.3h0M339.5 198.9h0M366.7 193.4h0M349.9 130.5h0M330.8 227.4h0M375.5 177.5h0M380.9 159.3h0M335.0 140.1h0M322.6 215.4h0M377.7 162.1h0M364.9 139.5h0M317.1 233.7h0M337.3 136.5h0M350.1 203.3h0M310.6 146.9h0M356.5 203.3h0M373.1 144.8h0M374.6 173.5h0M344.9 193.8h0M344.6 139.8h0M318.5 147.2h0M322.7 220.9h0M323.9 144.1h0M334.4 200.6h0M343.4 136.9h0M308.6 141.5h0M323.2 232.3h0M340.8 201.9h0M349.7 137.8h0M386.6 163.1h0M373.2 170.3h0M318.0 151.6h0M320.1 218.0h0M303.3 153.0h0M341.6 137.9h0M313.9 136.9h0M381.0 135.1h0M364.8 189.6h0M345.2 191.8h0M347.0 196.3h0M318.2 149.6h0M332.1 200.9h0M314.6 142.4h0M321.6 133.2h0M348.0 190.8h0M320.8 214.1h0M339.3 197.2h0M331.1 199.5h0M341.2 201.4h0M370.1 183.1h0M352.1 197.0h0M317.7 225.3h0M364.0 183.3h0M355.9 188.2h0M350.8 208.7h0M326.1 208.8h0M301.4 150.8h0M332.7 202.2h0M318.4 146.6h0M376.6 170.4h0M370.4 137.2h0M373.4 142.8h0M381.6 171.0h0M327.4 205.2h0M331.7 227.0h0M299.0 165.4h0M367.8 196.0h0M343.1 195.0h0M371.8 136.6h0M314.2 143.6h0M337.6 217.1h0M314.2 151.5h0M373.7 187.2h0M364.7 127.9h0M337.9 203.1h0M335.7 200.2h0M317.1 233.9h0M321.0 212.4h0M364.5 178.7h0M352.7 191.7h0M377.5 152.2h0M336.7 138.1h0M305.9 155.8h0M340.3 196.6h0M349.8 132.9h0M359.3 131.5h0M374.8 146.6h0M323.2 235.8h0M332.0 202.7h0M377.6 150.2h0M318.4 230.2h0M324.3 230.3h0M335.3 197.0h0M330.3 201.6h0M298.8 238.5h0M336.6 141.7h0M343.5 139.0h0M351.3 200.5h0M378.2 144.3h0M337.8 196.7h0M343.8 215.2h0M350.5 134.7h0M313.8 145.5h0M369.8 186.6h0M314.6 239.6h0M373.9 179.3h0M341.3 131.4h0M363.8 181.8h0M330.7 141.5h0M311.9 156.2h0M319.7 143.6h0M353.2 188.5h0M363.3 184.1h0M368.7 141.6h0M329.4 222.3h0M334.4 203.9h0M317.8 228.7h0M299.4 145.3h0M345.0 131.7h0M326.4 218.4h0M347.3 196.2h0M350.3 193.5h0M325.7 205.5h0M331.7 140.2h0M324.0 217.7h0M367.9 176.6h0M330.4 203.3h0M321.5 226.3h0M332.1 217.3h0M352.2 137.6h0M378.1 147.1h0M354.1 185.6h0M302.0 126.8h0M400.1 106.2h0M402.0 133.6h0M306.2 120.4h0M327.3 112.7h0M370.7 194.2h0M376.1 199.4h0M312.5 116.5h0M318.2 121.5h0M404.4 131.9h0M364.2 215.1h0M369.7 110.9h0M338.0 116.9h0M320.0 126.9h0"/><path d="M342.2 192.2h0M375.6 145.5h0M302.3 147.0h0M363.6 184.8h0M367.3 134.2h0M381.6 158.8h0M375.6 170.6h0M323.6 224.2h0M340.5 194.2h0M347.4 193.0h0M373.3 145.7h0M339.2 199.4h0M331.8 134.9h0M373.0 146.0h0M326.0 218.2h0M372.1 173.6h0M304.5 144.1h0M340.2 201.5h0M335.5 203.6h0M383.1 159.1h0M371.3 176.6h0M320.4 216.7h0M336.8 199.9h0M351.8 138.3h0M385.1 146.1h0M304.9 156.6h0M302.7 142.2h0M362.7 179.7h0M304.7 149.8h0M377.0 150.1h0M369.0 177.0h0M347.6 135.6h0M337.4 200.7h0M327.6 132.6h0M325.9 233.2h0M319.7 212.3h0M382.1 150.6h0M335.7 204.0h0M381.4 166.0h0M318.2 223.9h0M365.5 179.4h0M368.4 177.6h0M310.0 135.4h0M347.2 192.9h0M344.4 208.7h0M364.7 133.5h0M357.1 194.3h0M321.5 147.7h0M315.2 138.1h0M381.1 144.9h0M371.2 143.4h0M335.3 141.6h0M354.1 187.6h0M320.5 224.6h0M335.1 206.8h0M337.0 205.8h0M319.4 149.2h0M367.1 179.2h0M358.7 126.5h0M329.6 202.7h0M363.8 190.7h0M372.3 178.3h0M377.3 167.7h0M309.3 154.4h0M316.9 150.6h0M373.2 142.9h0M350.7 133.5h0M323.6 222.7h0M364.9 129.5h0M375.1 132.5h0M322.3 216.0h0M353.9 198.6h0M301.9 156.1h0M352.6 188.6h0M304.4 152.0h0M319.3 223.3h0M332.5 214.1h0M379.2 158.3h0M319.2 219.1h0M360.0 182.8h0M384.2 165.7h0M357.8 183.0h0M344.1 192.2h0M308.5 150.5h0M357.2 191.3h0M368.5 129.1h0M374.2 169.9h0M378.6 152.0h0M328.3 234.1h0M345.0 194.7h0M334.2 136.2h0M346.5 189.6h0M362.8 187.0h0M313.7 145.9h0M321.2 213.4h0M355.5 185.2h0M332.9 142.5h0M328.5 228.2h0M335.4 200.1h0M324.5 210.3h0M334.8 198.2h0M321.8 234.2h0M326.1 205.9h0M312.7 138.6h0M332.5 221.2h0M386.8 155.5h0M317.2 146.5h0M320.0 237.6h0M361.9 180.0h0M370.0 142.5h0M314.4 150.6h0M312.2 156.0h0M315.1 143.8h0M329.7 204.1h0M335.0 209.3h0M358.3 186.8h0M326.9 145.3h0M325.4 209.8h0M357.8 187.6h0M320.1 225.9h0M352.0 199.6h0M331.3 199.8h0M317.8 236.9h0M313.1 137.9h0M316.8 238.2h0M362.6 138.6h0M380.0 155.4h0M310.7 144.0h0M315.6 148.9h0M369.5 178.3h0M319.2 145.6h0M364.6 135.7h0M319.9 217.7h0M369.4 174.2h0M378.8 153.1h0M373.6 139.9h0M375.0 143.5h0M361.1 139.0h0M364.2 192.2h0M349.2 192.2h0M363.9 182.1h0M298.9 195.2h0M379.4 170.8h0M321.8 225.7h0M366.7 139.9h0M299.7 144.1h0M382.1 163.2h0M325.8 144.4h0M332.3 209.7h0M315.5 147.7h0M336.8 142.1h0M341.1 206.4h0M326.9 205.4h0M371.8 187.2h0M316.7 151.7h0M319.8 143.4h0M322.2 141.0h0M380.8 157.5h0M382.0 149.5h0M359.7 130.6h0M353.4 191.0h0M366.4 137.0h0M336.9 221.8h0M307.2 136.9h0M352.5 191.1h0M313.4 150.1h0M358.9 136.3h0M318.5 230.6h0M343.9 197.0h0M342.3 209.7h0M332.9 130.4h0M337.2 200.5h0M365.6 188.1h0M366.6 196.3h0M336.7 207.8h0M339.4 201.6h0M329.0 204.0h0M352.6 191.1h0M329.4 214.3h0M319.2 225.8h0M301.2 149.0h0M370.1 178.2h0M360.5 134.8h0M344.7 194.2h0M330.1 228.5h0M355.0 197.5h0M321.2 215.8h0M346.0 136.4h0M333.6 198.6h0M383.8 143.7h0M377.7 141.5h0M343.6 209.3h0M352.7 186.4h0M330.0 200.5h0M380.8 140.9h0M328.6 212.3h0M307.3 138.4h0M353.2 191.6h0M312.9 149.4h0M333.2 201.1h0M339.0 202.6h0M345.8 135.3h0M333.3 197.5h0M336.6 139.3h0M328.0 143.8h0M305.9 155.6h0M355.9 190.5h0M334.2 232.5h0M357.1 192.3h0M376.5 170.3h0M377.7 165.1h0M360.2 194.7h0M333.2 232.0h0M329.1 202.8h0M379.7 161.1h0M364.9 137.4h0M354.0 193.5h0M320.5 230.3h0M334.8 216.6h0M356.4 195.6h0M337.1 202.1h0M298.9 213.4h0M336.9 227.7h0M379.2 150.6h0M339.8 193.5h0M360.1 189.2h0M367.0 176.2h0M372.9 132.9h0M335.5 218.4h0M359.7 186.8h0M330.7 141.8h0M356.2 191.2h0M324.3 209.1h0M360.8 191.9h0M364.2 184.9h0M363.0 179.1h0M329.3 203.3h0M361.3 186.6h0M374.3 172.3h0M353.8 186.3h0M337.1 141.9h0M381.4 152.4h0M380.0 157.9h0M324.2 227.3h0M371.0 131.2h0M363.1 140.4h0M313.9 147.6h0M310.2 149.6h0M328.0 202.2h0M348.9 139.7h0M326.1 230.5h0M321.0 143.1h0M355.1 194.2h0M346.7 209.5h0M343.6 194.1h0M323.4 144.0h0M363.5 133.8h0M378.3 143.6h0M365.6 134.8h0M343.1 209.2h0M318.3 221.8h0M351.6 136.8h0M334.7 215.0h0M381.6 170.4h0M346.4 132.6h0M379.7 148.7h0M319.5 218.6h0M326.2 226.1h0M352.8 187.3h0M317.5 233.8h0M350.2 191.1h0M357.4 139.0h0M375.7 146.3h0M385.8 158.6h0M374.8 148.5h0M325.7 145.2h0M352.4 208.2h0M358.6 138.5h0M363.3 183.5h0M345.0 219.1h0M354.1 134.8h0M326.6 203.7h0M330.1 143.6h0M329.6 209.0h0M351.0 190.4h0M317.7 236.5h0M345.1 196.6h0M320.3 149.2h0M322.1 212.3h0M331.5 208.9h0M376.9 148.6h0M364.6 179.1h0M372.4 176.5h0M318.7 142.1h0M329.1 207.6h0M324.5 145.0h0M379.1 140.4h0M323.9 146.3h0M352.1 138.7h0M335.3 141.6h0M380.8 156.1h0M382.2 151.2h0M322.1 232.5h0M348.9 202.6h0M319.1 139.8h0M320.6 222.3h0M379.0 152.3h0M373.3 144.0h0M319.9 211.0h0M328.5 142.6h0M298.9 208.4h0M299.0 168.4h0M320.3 147.3h0M336.5 196.5h0M320.2 223.1h0M366.4 181.0h0M372.9 140.4h0M367.0 138.3h0M375.2 141.9h0M335.5 209.6h0M337.1 219.1h0M375.4 139.7h0M386.1 149.3h0M346.8 138.7h0M361.5 137.1h0M345.9 132.6h0M370.7 144.0h0M349.8 139.1h0M354.7 129.3h0M334.5 207.9h0M326.7 145.5h0M326.1 214.7h0M352.5 190.2h0M349.3 205.5h0M334.4 201.6h0M354.9 139.7h0M350.2 206.2h0M359.0 195.3h0M327.1 145.6h0M351.1 130.4h0M333.5 142.0h0M365.0 178.1h0M369.9 173.8h0M316.6 148.1h0M339.2 139.8h0M337.5 129.7h0M331.4 236.6h0M322.3 208.9h0M369.4 174.5h0M355.6 139.5h0M329.1 206.3h0M313.7 147.5h0M330.8 142.8h0M364.0 179.8h0M342.9 199.7h0M349.4 139.4h0M354.9 202.3h0M357.3 188.0h0M365.7 134.7h0M378.6 149.0h0M333.4 197.9h0M321.0 216.4h0M374.6 142.1h0M348.6 134.2h0M298.8 144.9h0M335.5 139.6h0M382.6 177.8h0M366.0 140.9h0M306.6 140.9h0M318.9 230.0h0M349.0 137.9h0M324.0 146.7h0M358.6 194.3h0M363.8 180.8h0M351.5 201.3h0M301.1 134.8h0M326.9 143.6h0M357.6 183.5h0M316.9 133.2h0M358.8 187.6h0M377.8 155.3h0M329.3 208.4h0M332.0 142.5h0M322.1 228.1h0M309.8 153.4h0M339.5 219.8h0M308.4 141.9h0M366.9 185.7h0M370.9 180.7h0M364.6 178.3h0M361.8 181.6h0M329.3 142.3h0M371.5 192.4h0M373.3 178.0h0M337.0 195.6h0M327.8 206.3h0M381.9 135.4h0M348.0 132.7h0M328.3 139.1h0M338.9 129.9h0M344.1 203.4h0M317.2 137.2h0M360.6 181.4h0M328.7 142.7h0M345.3 201.3h0M315.7 142.6h0M358.4 136.4h0M334.4 129.5h0M381.4 180.7h0M378.3 135.9h0M377.1 164.8h0M342.8 193.9h0M320.3 138.3h0M352.4 190.4h0M381.7 164.3h0M322.9 215.6h0M319.6 216.2h0M382.5 141.3h0M377.8 134.9h0M350.6 128.1h0M382.1 148.1h0M333.0 142.6h0M364.6 137.7h0M345.0 202.2h0M343.6 191.6h0M319.6 219.0h0M348.5 139.3h0M369.3 174.8h0M347.0 134.8h0M354.1 194.4h0M354.7 138.7h0M380.9 154.9h0M320.5 216.6h0M327.8 220.8h0M340.2 132.0h0M339.7 197.0h0M324.0 221.8h0M344.5 194.2h0M363.7 192.6h0M320.5 236.2h0M360.3 182.8h0M348.1 137.6h0M369.6 193.1h0M379.7 161.7h0M378.6 159.5h0M352.1 194.2h0M321.5 218.4h0M362.4 195.5h0M322.9 146.4h0M321.9 225.6h0M379.6 142.9h0M324.3 141.7h0M341.7 193.0h0M319.9 222.7h0M339.4 130.8h0M323.6 212.0h0M319.2 232.0h0M366.7 187.5h0M352.0 191.1h0M325.5 225.6h0M374.6 141.8h0M342.0 133.9h0M321.9 139.7h0M334.2 142.7h0M342.8 138.8h0M325.6 221.8h0M337.8 214.0h0M314.3 145.0h0M328.2 203.4h0M318.2 149.5h0M352.7 200.3h0M341.0 138.1h0M354.2 200.5h0M338.5 138.2h0M324.2 146.8h0M359.2 182.3h0M333.5 238.3h0M337.3 139.3h0M319.0 232.3h0M342.8 192.0h0M358.6 185.4h0M309.1 145.9h0M358.5 190.6h0M375.5 137.6h0M364.2 178.6h0M392.1 133.7h0M386.0 113.2h0M391.9 137.2h0M309.3 118.3h0M309.7 117.5h0M339.8 234.8h0M314.2 125.7h0M395.7 144.8h0M385.8 199.4h0M386.5 126.1h0M363.0 222.0h0M370.9 199.5h0M404.2 157.7h0M395.3 122.2h0"/><path d="M376.6 138.9h0M369.7 176.8h0M323.2 137.1h0M324.1 221.7h0M355.8 184.7h0M350.1 139.3h0M321.8 218.4h0M353.6 186.6h0M373.9 141.1h0M306.3 156.6h0M327.5 130.7h0M367.1 135.7h0M379.4 150.9h0M347.4 189.1h0M378.5 144.4h0M334.6 214.1h0M336.8 141.9h0M319.3 231.6h0M342.0 135.6h0M382.8 141.0h0M357.6 138.4h0M370.3 186.9h0M349.6 133.8h0M330.1 143.5h0M377.6 154.9h0M370.8 172.4h0M370.3 137.7h0M386.4 162.7h0M337.1 206.8h0M324.9 205.0h0M349.9 213.7h0M369.3 136.0h0M379.1 163.2h0M357.5 183.6h0M336.5 225.1h0M365.1 181.9h0M327.0 206.5h0M375.9 166.6h0M339.7 209.9h0M326.5 234.4h0M334.0 198.5h0M318.0 150.2h0M335.8 204.2h0M359.0 133.5h0M319.9 145.1h0M304.7 154.2h0M323.1 211.4h0M354.3 195.5h0M377.1 164.6h0M345.7 198.5h0M324.3 206.1h0M367.5 186.7h0M331.1 203.9h0M368.4 186.3h0M367.7 136.8h0M323.1 216.9h0M329.1 233.8h0M380.9 161.2h0M373.0 139.1h0M336.2 197.2h0M344.8 193.9h0M342.9 137.2h0M355.1 202.3h0M330.9 137.1h0M371.4 189.2h0M364.1 140.4h0M369.6 175.5h0M353.1 192.1h0M364.7 183.9h0M342.8 211.6h0M357.0 187.7h0M328.2 208.9h0M342.8 126.7h0M347.1 137.1h0M306.7 146.9h0M367.6 138.9h0M304.8 136.2h0M329.5 212.6h0M360.7 185.9h0M354.8 193.3h0M349.1 206.2h0M343.5 191.9h0M340.1 140.4h0M331.0 236.4h0M321.5 140.7h0M320.5 221.1h0M356.5 138.9h0M313.0 154.6h0M326.3 204.2h0M330.2 227.6h0M319.9 143.2h0M334.8 205.4h0M381.9 160.0h0M314.9 151.9h0M353.2 193.8h0M348.8 129.8h0M370.7 139.2h0M381.5 155.2h0M379.9 161.5h0M317.3 144.5h0M349.3 195.1h0M338.1 129.5h0M322.2 140.0h0M314.0 239.6h0M332.6 201.3h0M358.4 194.7h0M317.5 234.4h0M325.8 143.9h0M375.0 139.3h0M335.9 198.3h0M322.1 147.2h0M352.5 186.3h0M330.4 201.4h0M351.8 191.6h0M356.5 136.3h0M365.9 177.2h0M344.5 194.9h0M363.9 138.0h0M303.5 136.8h0M338.7 140.7h0M332.8 139.3h0M365.9 134.2h0M325.3 140.2h0M352.4 194.9h0M358.8 183.3h0M378.3 181.3h0M327.0 216.9h0M350.7 195.2h0M321.6 146.8h0M332.5 201.3h0M357.8 137.5h0M333.5 142.8h0M352.5 190.8h0M332.8 207.9h0M331.3 215.5h0M317.7 237.2h0M360.0 199.9h0M375.0 146.9h0M318.8 222.1h0M370.0 140.9h0M355.1 185.1h0M333.7 201.9h0M329.3 204.5h0M340.4 200.7h0M376.8 167.0h0M340.7 193.3h0M298.6 226.4h0M349.6 195.9h0M345.9 133.0h0M339.4 202.3h0M310.4 134.6h0M303.5 152.6h0M327.0 207.7h0M321.3 222.9h0M339.4 140.8h0M318.0 224.1h0M378.6 146.0h0M361.5 134.9h0M379.9 143.7h0M314.3 151.4h0M301.9 134.6h0M376.2 165.6h0M364.6 178.6h0M341.7 139.5h0M347.7 139.0h0M357.0 199.5h0M350.9 205.0h0M374.5 134.6h0M303.6 152.8h0M325.3 140.8h0M363.9 139.3h0M318.5 224.1h0M350.9 136.2h0M334.2 142.1h0M378.1 153.5h0M366.8 185.8h0M336.8 204.2h0M361.6 193.2h0M343.9 139.1h0M335.7 230.5h0M353.0 139.3h0M339.7 202.9h0M375.0 176.3h0M375.8 143.9h0M337.1 195.8h0M314.3 155.7h0M345.3 196.1h0M318.7 220.1h0M371.9 135.1h0M299.2 151.0h0M337.4 202.3h0M382.9 159.1h0M379.2 164.5h0M347.2 189.0h0M330.3 224.3h0M323.4 221.6h0M326.5 137.8h0M336.2 205.1h0M319.3 229.9h0M370.8 139.5h0M310.5 142.8h0M324.3 207.3h0M324.1 208.0h0M356.7 190.1h0M332.0 222.4h0M352.6 129.7h0M374.5 168.9h0M323.3 207.3h0M342.8 193.2h0M318.8 224.3h0M381.5 173.2h0M318.3 232.3h0M366.3 178.1h0M321.2 214.8h0M358.5 185.9h0M342.1 213.3h0M377.7 174.2h0M369.8 139.4h0M345.9 198.4h0M325.4 217.5h0M343.6 213.5h0M327.2 219.6h0M376.5 166.0h0M333.6 197.4h0M322.0 212.9h0M367.4 139.5h0M354.6 138.9h0M377.5 150.8h0M331.2 236.4h0M353.3 138.0h0M347.5 189.3h0M377.6 171.7h0M305.7 147.3h0M332.4 130.1h0M325.7 144.9h0M311.2 138.2h0M323.2 219.6h0M342.6 201.0h0M365.9 176.9h0M322.3 219.0h0M365.0 178.2h0M337.1 139.7h0M325.4 212.4h0M347.3 189.3h0M329.7 142.9h0M326.9 134.7h0M356.7 197.6h0M336.2 133.6h0M305.1 147.2h0M338.3 217.6h0M375.2 184.7h0M355.5 201.9h0M338.9 216.5h0M355.5 127.5h0M322.2 221.2h0M370.0 143.6h0M380.9 137.9h0M321.1 140.0h0M306.6 151.8h0M367.3 129.2h0M373.1 144.7h0M339.0 201.8h0M314.9 239.5h0M363.5 181.7h0M362.3 183.6h0M341.3 196.1h0M343.6 192.5h0M380.6 169.4h0M328.9 202.2h0M357.5 132.1h0M300.8 141.8h0M381.9 174.9h0M374.7 188.6h0M325.5 206.1h0M379.3 165.2h0M383.2 147.8h0M337.4 203.6h0M370.4 180.6h0M359.1 135.1h0M369.0 177.3h0M358.8 188.1h0M353.8 207.1h0M360.9 193.6h0M350.4 190.6h0M315.2 142.6h0M333.8 197.4h0M372.3 177.8h0M314.2 154.6h0M335.8 138.6h0M369.0 186.7h0M369.2 140.6h0M336.2 221.6h0M337.2 208.3h0M322.5 218.6h0M379.0 156.4h0M377.1 139.4h0M353.6 187.2h0M341.5 224.3h0M376.0 167.1h0M338.4 131.2h0M327.5 226.3h0M376.4 141.1h0M310.3 145.5h0M306.5 143.2h0M298.8 170.8h0M310.1 147.8h0M375.8 177.6h0M329.5 218.2h0M317.9 150.2h0M374.9 142.1h0M323.4 141.2h0M321.7 140.6h0M358.1 195.2h0M367.6 142.4h0M354.1 198.3h0M365.6 180.6h0M357.8 201.6h0M366.1 127.6h0M372.1 143.1h0M377.1 138.8h0M347.3 139.8h0M340.7 197.5h0M356.6 187.7h0M350.9 192.1h0M307.7 138.1h0M387.6 146.1h0M346.6 206.0h0M376.2 143.0h0M349.3 134.7h0M363.6 180.7h0M302.5 154.2h0M323.1 223.4h0M340.2 208.0h0M327.4 234.9h0M334.1 213.0h0M363.2 134.1h0M335.8 140.7h0M382.7 147.7h0M306.4 147.7h0M331.2 140.7h0M377.9 157.1h0M318.8 224.8h0M330.5 201.6h0M368.3 191.8h0M358.8 138.2h0M321.2 223.1h0M373.7 178.3h0M334.1 137.8h0M320.2 222.3h0M326.5 204.0h0M320.3 139.6h0M333.2 198.4h0M335.2 201.5h0M340.4 219.1h0M377.0 135.3h0M364.6 128.5h0M312.4 143.7h0M346.4 207.0h0M340.3 197.2h0M371.8 179.4h0M369.2 184.8h0M375.3 171.4h0M303.9 140.5h0M331.7 205.1h0M328.6 144.2h0M362.8 128.3h0M373.1 146.1h0M334.7 213.8h0M349.7 189.1h0M364.1 183.3h0M368.1 182.2h0M319.9 236.0h0M367.4 178.2h0M379.9 134.9h0M311.8 140.1h0M335.0 132.7h0M298.9 192.1h0M325.3 228.8h0M347.6 195.3h0M327.7 133.6h0M334.5 136.6h0M355.3 185.2h0M322.2 211.6h0M298.8 210.4h0M312.8 134.6h0M372.9 171.5h0M341.6 194.6h0M318.8 225.7h0M331.7 143.3h0M306.5 155.0h0M327.4 144.2h0M347.2 196.1h0M368.5 143.0h0M377.9 145.0h0M324.3 143.9h0M306.1 145.7h0M333.3 141.5h0M352.2 198.3h0M334.4 214.8h0M308.1 154.6h0M317.5 230.1h0M352.9 188.4h0M381.9 158.2h0M384.4 168.2h0M376.5 144.5h0M359.9 134.1h0M355.0 202.3h0M338.1 202.4h0M363.4 181.0h0M327.2 234.1h0M317.8 231.2h0M320.9 217.8h0M344.0 193.8h0M322.5 139.5h0M311.7 143.9h0M379.1 158.8h0M324.8 211.2h0M326.3 204.7h0M353.5 133.4h0M340.4 194.8h0M355.5 133.7h0M347.8 200.0h0M322.6 211.7h0M321.6 211.4h0M327.2 141.0h0M331.3 131.0h0M364.0 190.9h0M322.4 141.6h0M319.7 217.2h0M386.1 152.0h0M330.4 216.4h0M359.5 133.3h0M335.6 131.9h0M368.6 175.0h0M358.6 183.7h0M324.3 207.5h0M356.5 186.2h0M330.7 203.9h0M335.5 197.2h0M309.8 152.6h0M351.2 209.8h0M320.5 147.9h0M323.6 229.1h0M371.5 178.7h0M318.0 144.0h0M374.0 190.5h0M321.0 221.1h0M374.6 138.5h0M371.8 141.6h0M321.6 144.5h0M319.9 211.3h0M343.4 196.3h0M373.6 140.4h0M336.9 201.4h0M374.8 142.5h0M325.6 144.6h0M368.4 176.4h0M351.5 186.7h0M333.0 221.2h0M375.8 167.4h0M332.2 200.1h0M374.7 172.4h0M355.2 186.1h0M334.9 205.3h0M313.2 153.2h0M373.0 185.4h0M312.9 151.3h0M349.0 193.1h0M317.4 228.1h0M321.5 234.6h0M380.6 169.4h0M378.3 151.2h0M327.0 204.1h0M320.9 146.4h0M351.0 127.6h0M338.3 141.0h0M378.8 147.6h0M326.1 203.4h0M362.7 183.6h0M324.0 140.1h0M356.7 184.7h0M379.6 159.8h0M341.8 138.5h0M323.4 208.5h0M321.0 219.7h0M354.1 229.7h0M361.6 209.4h0M348.7 119.9h0M400.9 107.8h0M390.8 141.1h0M373.6 127.3h0M316.7 122.0h0M347.3 113.0h0M407.5 130.1h0M385.8 178.8h0M403.0 128.5h0M391.3 111.7h0M384.8 125.8h0M397.0 145.6h0"/></g></g><line x1="296.50" y1="239.80" x2="324.00" y2="239.80" stroke="#111" stroke-width="2.4"/><line x1="270.70" y1="220.60" x2="412.50" y2="148.60" stroke="#d8202a" stroke-width="1.0"/><rect x="270.70" y="101.80" width="141.80" height="141.50" fill="none" stroke="#3a3a3a" stroke-width="1"/><line x1="266.20" y1="238.20" x2="270.70" y2="238.20" stroke="#3a3a3a" stroke-width="0.9"/><line x1="276.10" y1="243.30" x2="276.10" y2="247.60" stroke="#3a3a3a" stroke-width="0.9"/><line x1="276.10" y1="101.80" x2="276.10" y2="104.20" stroke="#3a3a3a" stroke-width="0.9"/><line x1="266.20" y1="216.55" x2="270.70" y2="216.55" stroke="#3a3a3a" stroke-width="0.9"/><line x1="297.70" y1="243.30" x2="297.70" y2="247.60" stroke="#3a3a3a" stroke-width="0.9"/><line x1="297.70" y1="101.80" x2="297.70" y2="104.20" stroke="#3a3a3a" stroke-width="0.9"/><line x1="266.20" y1="194.90" x2="270.70" y2="194.90" stroke="#3a3a3a" stroke-width="0.9"/><line x1="319.30" y1="243.30" x2="319.30" y2="247.60" stroke="#3a3a3a" stroke-width="0.9"/><line x1="319.30" y1="101.80" x2="319.30" y2="104.20" stroke="#3a3a3a" stroke-width="0.9"/><line x1="266.20" y1="173.25" x2="270.70" y2="173.25" stroke="#3a3a3a" stroke-width="0.9"/><line x1="340.90" y1="243.30" x2="340.90" y2="247.60" stroke="#3a3a3a" stroke-width="0.9"/><line x1="340.90" y1="101.80" x2="340.90" y2="104.20" stroke="#3a3a3a" stroke-width="0.9"/><line x1="266.20" y1="151.60" x2="270.70" y2="151.60" stroke="#3a3a3a" stroke-width="0.9"/><line x1="362.50" y1="243.30" x2="362.50" y2="247.60" stroke="#3a3a3a" stroke-width="0.9"/><line x1="362.50" y1="101.80" x2="362.50" y2="104.20" stroke="#3a3a3a" stroke-width="0.9"/><line x1="266.20" y1="129.95" x2="270.70" y2="129.95" stroke="#3a3a3a" stroke-width="0.9"/><line x1="384.10" y1="243.30" x2="384.10" y2="247.60" stroke="#3a3a3a" stroke-width="0.9"/><line x1="384.10" y1="101.80" x2="384.10" y2="104.20" stroke="#3a3a3a" stroke-width="0.9"/><line x1="266.20" y1="108.30" x2="270.70" y2="108.30" stroke="#3a3a3a" stroke-width="0.9"/><line x1="405.70" y1="243.30" x2="405.70" y2="247.60" stroke="#3a3a3a" stroke-width="0.9"/><line x1="405.70" y1="101.80" x2="405.70" y2="104.20" stroke="#3a3a3a" stroke-width="0.9"/><text x="259.00" y="240.00" font-size="12.2" text-anchor="middle" font-family='"Liberation Sans", sans-serif' fill="#111" transform="rotate(-90 259.00 240.00)">-2</text><text x="274.30" y="266.30" font-size="12.2" text-anchor="middle" font-family='"Liberation Sans", sans-serif' fill="#111">-2</text><text x="259.00" y="196.70" font-size="12.2" text-anchor="middle" font-family='"Liberation Sans", sans-serif' fill="#111" transform="rotate(-90 259.00 196.70)">0</text><text x="318.10" y="266.30" font-size="12.2" text-anchor="middle" font-family='"Liberation Sans", sans-serif' fill="#111">0</text><text x="259.00" y="153.40" font-size="12.2" text-anchor="middle" font-family='"Liberation Sans", sans-serif' fill="#111" transform="rotate(-90 259.00 153.40)">2</text><text x="363.10" y="266.30" font-size="12.2" text-anchor="middle" font-family='"Liberation Sans", sans-serif' fill="#111">2</text><text x="259.00" y="110.10" font-size="12.2" text-anchor="middle" font-family='"Liberation Sans", sans-serif' fill="#111" transform="rotate(-90 259.00 110.10)">4</text><text x="403.50" y="266.30" font-size="12.2" text-anchor="middle" font-family='"Liberation Sans", sans-serif' fill="#111">4</text><text x="384.90" y="217.90" font-size="11.2" fill="#111"><tspan font-family='"Liberation Serif", serif' font-style="italic">CV R</tspan><tspan font-family='"Liberation Sans", sans-serif'> = 0.71</tspan></text><line x1="543.40" y1="105.20" x2="543.40" y2="246.00" stroke="#2a2a2a" stroke-width="0.9"/><line x1="495.00" y1="198.00" x2="636.60" y2="198.00" stroke="#2a2a2a" stroke-width="0.9"/><line x1="495.00" y1="246.40" x2="636.60" y2="104.80" stroke="#2a2a2a" stroke-width="0.8"/><g clip-path="url(#cc)"><g fill="none" stroke="#000" stroke-opacity="0.5" stroke-width="2.8" stroke-linecap="round" filter="url(#bl)"><path d="M549.0 187.9h0M542.3 166.9h0M542.9 196.2h0M529.7 187.4h0M520.8 197.4h0M520.2 218.2h0M530.4 167.3h0M525.4 236.7h0M518.8 234.2h0M521.8 214.2h0M538.4 122.9h0M531.9 196.4h0M543.5 195.3h0M526.2 158.8h0M538.3 162.6h0M532.2 236.6h0M530.0 195.3h0M536.4 225.1h0M521.3 229.9h0M523.3 175.0h0M533.6 238.9h0M524.9 162.5h0M537.9 145.1h0M523.0 235.1h0M527.4 218.5h0M534.4 228.8h0M523.6 168.2h0M532.6 202.4h0M529.0 189.0h0M524.7 201.5h0M520.8 182.1h0M569.2 203.7h0M522.4 152.2h0M528.7 234.0h0M519.9 142.2h0M546.8 179.1h0M539.8 185.6h0M547.6 183.2h0M531.1 223.2h0M524.4 222.3h0M518.3 207.9h0M529.7 191.6h0M557.6 150.7h0M526.0 236.5h0M523.3 181.9h0M539.0 168.1h0M534.2 219.2h0M523.0 154.8h0M529.5 125.2h0M543.7 238.4h0M541.5 188.7h0M533.8 196.5h0M537.0 238.0h0M519.2 204.3h0M550.0 166.7h0M520.1 216.2h0M522.1 209.1h0M533.7 213.0h0M527.2 219.3h0M563.5 146.1h0M539.0 230.3h0M536.9 226.2h0M526.9 183.3h0M540.1 223.5h0M580.5 118.0h0M520.6 196.9h0M540.3 164.8h0M526.7 221.6h0M521.6 237.6h0M528.3 202.1h0M546.7 169.7h0M541.8 225.0h0M525.1 201.9h0M535.2 199.0h0M526.8 132.5h0M541.8 235.6h0M522.6 228.0h0M542.1 224.3h0M521.4 221.9h0M523.7 205.6h0M530.6 186.8h0M537.0 236.5h0M546.8 205.9h0M523.1 233.2h0M519.3 234.9h0M530.1 173.0h0M519.5 192.7h0M571.1 236.0h0M530.2 231.6h0M522.2 214.5h0M544.3 223.0h0M531.7 189.6h0M524.2 230.1h0M543.8 203.1h0M581.2 175.3h0M523.3 207.4h0M517.9 175.4h0M532.4 222.7h0M521.0 217.9h0M525.0 172.0h0M528.9 176.6h0M518.1 230.5h0M525.9 234.6h0M528.4 222.7h0M540.9 176.6h0M540.0 225.2h0M546.7 169.8h0M523.1 190.3h0M537.4 166.6h0M527.8 239.9h0M518.3 208.6h0M520.5 170.9h0M527.6 160.2h0M519.1 215.7h0M518.4 233.6h0M529.2 167.1h0M519.6 215.3h0M520.1 214.5h0M519.5 196.2h0M542.1 180.6h0M531.3 157.4h0M520.0 240.2h0M524.9 234.5h0M538.7 175.7h0M525.4 151.5h0M556.5 176.6h0M521.6 179.9h0M518.1 167.2h0M534.8 213.5h0M547.1 149.7h0M538.8 163.8h0M536.5 232.4h0M527.0 212.4h0M526.3 209.9h0M522.5 224.7h0M529.9 215.2h0M544.2 182.7h0M535.9 179.8h0M537.3 210.1h0M552.9 168.6h0M532.2 173.6h0M530.6 190.9h0M526.8 207.2h0M525.5 195.0h0M536.8 219.8h0M538.7 203.3h0M527.6 156.7h0M521.8 177.7h0M520.2 162.7h0M528.3 185.5h0M545.4 162.5h0M523.8 218.5h0M520.3 214.7h0M541.3 195.9h0M524.7 228.4h0M537.9 219.2h0M521.1 216.8h0M517.7 213.5h0M532.4 203.3h0M540.6 218.7h0M520.5 173.7h0M565.4 206.3h0M518.9 205.6h0M530.7 232.2h0M547.2 214.9h0M529.3 226.6h0M529.3 209.1h0M525.5 226.7h0M547.2 210.9h0M569.0 184.1h0M530.6 221.7h0M526.3 204.6h0M524.5 227.5h0M549.6 164.6h0M528.8 215.3h0M526.4 201.9h0M518.3 148.0h0M525.4 239.2h0M522.0 166.1h0M542.0 199.0h0M541.8 180.8h0M533.1 212.4h0M522.0 202.1h0M528.0 222.7h0M523.4 227.6h0M537.1 239.4h0M523.9 213.5h0M520.3 220.9h0M529.6 177.9h0M533.0 174.4h0M537.5 231.8h0M521.0 146.6h0M528.0 131.3h0M522.2 228.7h0M522.7 205.9h0M541.9 185.4h0M548.3 216.3h0M538.9 181.4h0M555.9 218.1h0M523.5 193.1h0M530.1 203.8h0M522.5 159.9h0M522.2 235.2h0M527.6 176.7h0M535.6 182.6h0M524.9 214.6h0M522.1 213.8h0M544.9 233.7h0M537.0 155.4h0M540.9 159.7h0M522.8 232.3h0M574.9 177.3h0M531.2 172.1h0M552.8 204.5h0M520.8 235.5h0M539.9 203.9h0M531.9 193.8h0M522.1 155.9h0M523.5 180.6h0M522.2 235.4h0M545.6 179.0h0M538.2 164.2h0M521.1 225.5h0M524.7 206.1h0M531.9 207.0h0M536.7 200.2h0M524.2 238.9h0M564.7 139.1h0M524.2 226.5h0M522.0 224.3h0M520.5 239.9h0M528.8 139.1h0M525.0 207.2h0M548.7 223.4h0M519.3 222.6h0M525.4 226.0h0M521.9 177.1h0M535.5 219.2h0M521.9 234.3h0M518.8 164.1h0M538.3 172.4h0M532.1 225.2h0M538.1 223.4h0M533.4 233.3h0M535.0 191.6h0M553.0 125.3h0M529.1 235.1h0M528.6 233.1h0M531.9 220.5h0M547.2 194.8h0M536.4 225.0h0M534.7 171.1h0M529.8 221.1h0M562.4 177.4h0M538.8 222.8h0M526.3 223.8h0M533.1 194.5h0M527.5 199.0h0M555.4 189.6h0M535.2 224.1h0M520.5 197.4h0M521.3 191.1h0M534.7 220.4h0M581.1 146.8h0M528.0 200.3h0M518.5 213.6h0M548.9 216.8h0M525.1 166.7h0M520.3 216.4h0M540.2 158.4h0M529.8 210.2h0M518.8 146.9h0M519.1 232.5h0M523.2 185.5h0M528.7 235.2h0M550.4 194.4h0M523.9 151.0h0M525.4 190.3h0M544.6 181.7h0M545.5 189.8h0M520.4 233.0h0M540.5 220.2h0M554.2 222.7h0M522.4 228.8h0M536.4 159.1h0M518.4 181.5h0M544.7 194.5h0M536.0 206.5h0M532.7 170.6h0M534.4 163.2h0M531.1 217.8h0M524.1 179.4h0M518.6 167.1h0M566.4 188.4h0M546.0 167.4h0M519.4 173.8h0M528.8 177.1h0M538.5 175.9h0M564.3 148.1h0M548.9 205.3h0M520.3 172.5h0M539.9 236.3h0M529.2 197.3h0M521.1 227.6h0M524.3 186.6h0M521.3 216.8h0M520.2 231.4h0M520.9 232.4h0M537.6 219.3h0M529.1 178.4h0M531.9 178.8h0M528.6 192.2h0M523.8 158.5h0M519.8 228.8h0M518.1 211.1h0M529.3 209.2h0M540.5 193.5h0M544.3 222.8h0M523.2 217.7h0M535.2 225.3h0M530.1 208.9h0M531.2 149.3h0M527.0 198.1h0M541.0 156.1h0M525.6 200.3h0M524.6 235.3h0M544.7 176.7h0M572.7 158.2h0M538.6 182.6h0M538.1 185.4h0M584.2 147.8h0M534.9 183.0h0M526.9 198.2h0M528.4 236.7h0M533.1 180.3h0M523.9 224.2h0M519.6 212.6h0M525.2 206.0h0M520.0 240.2h0M558.3 146.7h0M522.8 204.2h0M518.2 225.6h0M520.7 146.1h0M524.7 237.2h0M521.4 234.3h0M544.8 145.4h0M524.7 168.9h0M527.7 229.2h0M533.3 147.0h0M529.1 239.9h0M528.9 182.2h0M528.6 224.4h0M543.7 154.9h0M522.3 209.5h0M534.5 227.8h0M521.2 235.1h0M530.1 232.5h0M539.4 157.4h0M534.1 235.5h0M559.6 174.2h0M518.5 179.7h0M519.5 162.8h0M531.7 211.8h0M523.9 179.8h0M551.5 233.7h0M529.8 220.2h0M519.1 239.4h0M526.4 215.2h0M519.7 220.2h0M542.5 170.1h0M530.2 240.5h0M543.9 218.0h0M521.1 233.4h0M544.4 215.9h0M517.7 222.8h0M520.4 216.6h0M522.9 228.2h0M519.7 199.8h0M518.6 211.2h0M548.2 219.2h0M519.8 179.4h0M547.4 112.3h0M524.7 216.9h0M521.5 170.9h0M522.4 231.4h0M532.8 233.9h0M525.4 230.2h0M538.6 157.2h0M518.8 219.2h0M518.7 224.9h0M525.2 238.7h0M546.0 144.8h0M523.5 184.7h0M527.7 199.0h0M533.0 202.8h0M541.1 196.9h0M525.9 222.4h0M521.3 165.2h0M534.5 220.9h0M532.7 226.7h0M520.4 231.8h0M526.3 205.1h0M533.5 190.9h0M550.9 221.0h0M518.6 197.9h0M538.0 236.8h0M526.1 156.1h0M518.5 208.7h0M530.1 176.7h0M522.6 226.4h0M564.3 111.6h0M518.2 239.5h0M531.0 168.1h0M544.5 221.8h0M547.7 193.3h0M532.0 217.9h0M533.5 221.8h0M522.0 218.5h0M523.5 225.2h0M521.5 198.8h0M540.7 158.4h0M535.3 209.4h0M533.4 183.4h0M518.2 183.4h0M536.0 164.0h0M526.5 232.3h0M525.4 189.1h0M523.7 148.3h0M532.3 237.8h0M546.9 154.7h0M559.2 227.6h0M537.2 221.1h0M534.9 207.4h0M532.1 206.5h0M544.6 215.0h0M524.7 217.2h0M518.0 203.6h0M543.6 240.0h0M535.0 233.7h0M518.3 217.8h0M605.5 110.6h0M546.4 188.6h0M531.2 163.3h0M541.4 197.6h0M565.3 150.9h0M534.8 188.3h0M557.6 146.8h0M533.2 217.9h0M534.7 233.5h0M520.2 191.0h0M536.6 205.5h0M535.9 174.8h0M548.6 196.3h0M541.5 131.8h0M558.0 212.9h0M533.9 173.7h0M523.9 208.6h0M538.3 221.9h0M539.2 180.4h0M518.8 191.5h0M525.8 173.7h0M529.1 187.6h0M525.9 223.1h0M519.0 155.3h0M539.3 174.9h0M553.2 192.5h0M517.7 206.6h0M530.8 195.3h0M519.7 167.4h0M525.1 239.0h0M518.4 183.3h0M525.8 236.7h0M532.0 139.1h0M531.4 195.5h0M529.4 220.6h0M518.2 197.8h0M520.8 185.2h0M523.3 235.4h0M524.8 183.1h0M536.9 203.6h0M558.3 207.6h0M550.8 169.7h0M554.5 156.2h0M526.4 201.9h0M521.8 203.5h0M536.3 188.7h0M532.6 233.9h0M527.3 165.2h0M538.8 198.8h0M520.6 213.5h0M538.9 205.9h0M538.5 214.8h0M520.0 210.3h0M543.3 232.2h0M517.7 216.3h0M557.0 182.7h0M548.9 196.4h0M544.4 236.0h0M526.1 183.1h0M526.1 229.6h0M523.9 201.9h0M545.6 158.3h0M524.1 240.1h0M523.6 173.0h0M528.6 236.9h0M517.7 233.9h0M580.4 121.4h0M518.4 238.4h0M543.4 194.3h0M519.8 225.6h0M522.5 176.5h0M548.5 236.5h0M529.1 214.9h0M532.9 232.0h0M545.9 238.6h0M524.6 209.2h0M535.3 237.3h0M535.1 136.9h0M521.5 218.2h0M520.8 182.9h0M521.6 158.4h0M529.4 222.2h0M525.7 225.5h0M529.0 178.4h0M531.0 170.8h0M531.3 147.1h0M535.3 228.5h0M522.3 219.6h0M563.2 181.8h0M538.5 190.1h0M526.5 213.7h0M520.6 240.4h0M530.2 237.4h0M523.7 239.6h0M533.1 229.5h0M520.9 178.6h0M537.3 170.8h0M525.5 214.6h0M533.1 218.0h0M532.8 138.5h0M546.7 211.7h0M547.2 235.4h0M539.9 177.0h0M518.6 235.0h0M534.4 178.1h0M531.2 194.4h0M536.2 153.8h0M522.2 223.2h0M518.1 167.3h0M517.7 169.5h0M520.8 216.3h0M519.3 205.1h0M541.0 207.4h0M521.5 200.8h0M525.6 219.2h0M531.8 215.3h0M518.6 195.8h0M532.0 217.0h0M528.9 133.0h0M522.6 195.3h0M544.5 211.0h0M536.8 221.2h0M589.9 192.6h0M541.7 195.3h0M527.5 193.3h0M523.3 218.2h0M524.1 185.7h0M519.6 231.0h0M553.7 183.9h0M540.4 188.2h0M528.5 210.6h0M528.7 211.3h0M526.4 210.4h0M544.5 195.4h0M523.8 211.7h0M518.6 171.4h0M552.1 215.7h0M551.3 143.4h0M523.0 196.3h0M524.8 231.5h0M518.7 222.2h0M528.7 215.8h0M538.4 127.4h0M529.6 149.5h0M525.6 213.6h0M523.8 240.3h0M522.8 223.8h0M522.2 199.5h0M529.0 195.8h0M529.1 228.1h0M524.7 214.7h0M521.0 177.8h0M543.0 199.5h0M529.3 151.8h0M531.1 239.6h0M536.8 201.1h0M555.3 134.7h0M533.6 239.2h0M540.7 220.9h0M527.4 200.8h0M535.9 235.6h0M525.4 227.3h0M527.4 188.1h0M541.8 181.9h0M543.4 203.3h0M567.1 201.4h0M525.9 202.9h0M524.9 217.7h0M537.0 223.1h0M521.8 156.8h0M520.6 236.1h0M537.1 142.4h0M538.7 217.4h0M538.3 188.7h0M534.8 220.2h0M522.5 211.0h0M565.6 190.9h0M536.3 233.0h0M525.3 229.3h0M572.7 218.0h0M529.2 221.4h0M519.9 175.9h0M554.0 134.8h0M522.5 237.9h0M525.0 236.6h0M552.4 217.4h0M535.0 161.0h0M534.9 221.1h0M518.2 209.0h0M533.7 172.7h0M530.1 215.9h0M528.5 191.9h0M532.0 237.5h0M521.1 217.7h0M527.7 229.2h0M539.2 189.1h0M529.5 223.5h0M522.3 213.5h0M528.0 217.2h0M520.3 212.3h0M528.3 207.7h0M518.2 194.2h0M531.5 203.2h0M524.8 199.5h0M534.5 216.3h0M529.1 216.4h0M532.8 238.6h0M519.0 200.4h0M549.6 215.3h0M533.3 221.4h0M535.4 195.3h0M585.5 148.2h0M528.7 225.1h0M541.5 209.0h0M534.8 214.6h0M530.3 219.8h0M517.9 239.0h0M524.5 216.8h0M524.0 146.9h0M521.8 152.6h0M525.5 217.3h0M534.4 175.0h0M544.7 151.8h0M522.2 145.5h0M536.2 201.4h0M536.4 184.7h0M518.0 235.4h0M525.9 197.4h0M528.8 154.5h0M523.8 212.2h0M523.3 211.9h0M533.6 149.4h0M537.7 214.1h0M524.5 238.2h0M547.4 208.6h0M541.4 225.8h0M552.6 185.9h0M536.1 228.4h0M566.2 193.5h0M522.1 231.0h0M523.7 222.3h0M532.1 205.1h0M529.1 217.4h0M529.3 238.9h0M520.0 189.4h0M542.1 177.3h0M521.4 208.3h0M525.7 235.6h0M532.8 236.0h0M535.4 193.9h0M534.1 236.5h0M526.2 216.9h0M530.1 227.6h0M527.2 177.5h0M534.3 234.4h0M522.6 217.9h0M526.0 227.8h0M554.6 205.8h0M583.2 124.4h0M519.1 221.4h0M534.3 188.9h0M525.0 195.9h0M530.1 210.3h0M526.5 206.2h0M545.4 173.1h0M536.9 186.1h0M527.0 199.4h0M522.9 151.1h0M525.5 238.9h0M520.6 239.8h0M522.3 210.3h0M524.3 210.9h0M538.8 130.6h0M530.5 239.7h0M523.8 183.4h0M561.7 212.0h0M582.2 188.7h0M530.4 158.1h0M517.9 209.6h0M526.7 237.1h0M519.2 235.2h0M536.2 223.6h0M518.5 217.9h0M529.0 191.5h0M519.8 232.1h0M542.9 229.8h0M552.3 202.9h0M520.4 228.2h0M542.7 202.0h0M532.2 198.4h0M526.2 182.9h0M536.9 161.5h0M532.8 231.2h0M548.7 227.7h0M534.5 205.4h0M545.2 215.3h0M526.5 155.7h0M528.6 217.0h0M564.3 178.2h0M534.7 122.1h0M538.3 137.7h0M527.6 219.9h0M527.2 141.8h0M566.0 142.5h0M518.5 235.0h0M518.5 215.5h0M534.3 193.1h0M535.7 214.6h0M536.3 220.0h0M539.0 194.6h0M539.2 180.6h0M521.1 156.0h0M536.2 203.8h0M525.3 183.6h0M532.1 187.2h0M539.5 215.8h0M544.3 191.1h0M524.0 232.7h0M554.0 213.1h0M523.0 211.9h0M517.9 230.9h0M533.7 161.1h0M527.1 188.1h0M533.8 228.4h0M527.4 201.4h0M532.9 237.7h0M532.8 229.4h0M519.3 210.4h0M527.2 202.6h0M523.5 218.1h0M520.1 230.1h0M528.4 221.7h0M522.8 233.9h0M525.3 205.0h0M524.9 179.4h0M565.2 218.5h0M518.1 169.5h0M518.4 224.7h0M529.5 238.6h0M525.9 204.5h0M529.8 165.3h0M522.7 190.1h0M560.1 232.2h0M523.7 187.0h0M537.9 234.6h0M547.9 229.5h0M541.6 204.2h0M544.4 204.4h0M533.1 221.6h0M570.1 164.2h0M525.3 196.0h0M526.3 212.7h0M525.4 223.9h0M518.1 187.8h0M521.9 175.8h0M539.2 235.8h0M613.2 144.2h0M588.4 173.0h0M561.2 233.5h0M522.8 235.8h0M556.4 193.0h0M523.6 239.9h0M518.4 205.7h0M519.9 201.1h0M538.9 217.6h0M531.2 182.0h0M522.6 223.4h0M518.5 221.6h0M526.4 233.8h0M542.9 228.0h0M542.9 225.8h0M541.0 181.0h0M524.7 206.2h0M532.5 234.5h0M522.0 198.8h0M573.0 162.7h0M518.1 186.5h0M521.9 232.7h0M520.8 213.9h0M518.8 234.2h0M529.2 196.4h0M526.6 226.6h0M532.4 173.9h0M521.2 120.6h0M524.1 190.6h0M529.7 170.7h0M521.3 216.1h0M539.1 188.4h0M529.1 164.5h0M552.3 214.5h0M520.4 234.8h0M559.4 217.3h0M531.3 164.7h0M530.6 157.1h0M536.5 195.1h0M526.5 220.9h0M590.1 157.7h0M535.2 172.2h0M537.0 220.5h0M549.0 230.0h0M545.9 166.1h0M534.0 233.7h0M520.9 237.5h0M536.0 192.5h0M529.2 165.3h0M542.7 177.7h0M521.8 235.3h0M553.6 219.0h0M521.8 234.0h0M572.7 180.1h0M540.0 202.3h0M535.5 203.9h0M519.3 226.7h0M536.5 171.2h0M523.2 212.2h0M530.6 172.8h0M537.7 240.3h0M535.7 229.6h0M522.8 184.3h0M527.2 179.5h0M540.4 231.0h0M520.7 214.1h0M530.7 159.7h0M533.4 231.3h0M528.8 221.2h0M533.4 164.4h0M525.2 208.3h0M529.0 220.8h0M551.1 229.9h0M528.6 228.1h0"/><path d="M524.1 169.1h0M527.7 177.5h0M539.9 183.3h0M535.7 214.5h0M519.8 220.6h0M522.3 222.6h0M529.4 193.3h0M540.5 145.5h0M534.3 236.7h0M536.0 188.1h0M535.7 195.8h0M542.5 188.6h0M543.0 192.8h0M523.7 186.0h0M554.2 219.3h0M536.6 223.8h0M542.4 233.6h0M532.9 203.2h0M523.4 224.2h0M524.3 212.1h0M526.2 209.2h0M536.9 224.6h0M539.3 227.6h0M549.5 109.6h0M534.6 133.4h0M518.0 162.5h0M555.0 171.3h0M525.8 220.9h0M537.0 156.1h0M564.1 221.8h0M557.6 169.9h0M525.5 227.8h0M531.8 174.3h0M549.0 210.0h0M522.0 165.0h0M539.8 168.8h0M526.9 188.6h0M534.1 198.9h0M532.6 153.6h0M537.8 206.0h0M558.0 145.2h0M527.7 135.5h0M520.9 211.6h0M523.0 195.3h0M545.1 218.5h0M533.4 219.5h0M518.2 172.8h0M526.1 135.7h0M524.0 205.8h0M539.8 182.3h0M530.9 231.0h0M522.3 180.4h0M541.9 225.1h0M564.6 177.6h0M533.9 212.4h0M525.3 159.1h0M547.5 142.1h0M541.6 222.0h0M525.7 239.4h0M556.8 219.6h0M519.2 219.7h0M536.1 174.4h0M540.5 228.1h0M586.8 146.5h0M545.1 228.4h0M536.3 239.0h0M527.5 191.4h0M551.0 210.2h0M519.7 217.9h0M527.0 223.5h0M593.7 150.9h0M537.6 239.7h0M525.8 240.1h0M544.4 195.6h0M533.9 191.8h0M531.1 184.3h0M518.1 239.8h0M520.1 183.1h0M528.9 239.6h0M531.0 171.4h0M530.8 209.3h0M521.7 192.6h0M524.4 228.0h0M536.1 206.9h0M520.2 239.2h0M528.6 206.9h0M549.8 220.6h0M542.8 174.7h0M544.3 201.1h0M586.7 136.7h0M523.9 128.8h0M546.8 221.6h0M520.5 214.0h0M544.1 203.1h0M533.3 146.6h0M528.8 208.6h0M531.9 186.1h0M521.1 164.3h0M523.8 165.2h0M523.6 219.8h0M540.8 178.1h0M565.6 212.1h0M543.4 233.9h0M518.4 194.9h0M541.0 196.9h0M528.0 215.0h0M545.7 169.6h0M529.3 190.9h0M551.1 168.3h0M541.1 185.6h0M518.2 201.4h0M529.1 209.7h0M549.1 227.9h0M526.1 230.6h0M519.2 204.0h0M543.9 185.7h0M529.6 191.1h0M541.3 174.0h0M549.7 179.6h0M519.5 231.3h0M580.7 161.4h0M526.4 223.2h0M553.4 138.9h0M534.7 201.1h0M525.6 211.1h0M527.7 160.1h0M544.5 215.6h0M536.5 192.9h0M533.7 188.2h0M523.0 151.0h0M523.0 194.3h0M527.8 166.8h0M531.2 176.0h0M524.1 164.6h0M519.4 212.7h0M524.6 152.5h0M520.8 185.2h0M560.0 234.8h0M536.4 225.4h0M538.5 145.5h0M534.1 194.4h0M533.7 222.6h0M524.0 222.9h0M534.1 185.2h0M518.7 234.6h0M546.6 233.3h0M528.6 222.1h0M525.8 191.6h0M615.9 154.7h0M523.0 173.1h0M521.4 190.5h0M530.2 177.8h0M532.1 199.1h0M532.7 219.3h0M520.7 232.8h0M531.4 208.1h0M536.9 161.7h0M522.3 239.8h0M536.3 221.9h0M566.5 171.9h0M520.3 194.5h0M519.3 219.3h0M526.8 196.1h0M542.0 141.1h0M552.8 133.8h0M538.6 194.8h0M527.0 231.2h0M603.7 152.4h0M536.8 196.2h0M519.8 229.7h0M529.3 212.0h0M550.8 151.9h0M529.3 224.2h0M560.0 182.6h0M531.5 193.5h0M537.8 166.8h0M518.6 224.9h0M524.7 228.6h0M535.5 236.0h0M540.3 233.5h0M535.2 179.9h0M543.5 211.6h0M525.9 236.7h0M518.2 164.3h0M530.6 183.4h0M540.7 218.6h0M525.4 193.3h0M532.6 175.4h0M542.0 211.5h0M534.1 190.0h0M521.1 222.1h0M529.5 163.4h0M530.2 225.5h0M520.9 148.2h0M526.1 238.7h0M523.8 222.4h0M537.2 166.4h0M525.8 231.1h0M546.1 201.5h0M551.5 155.5h0M518.1 169.7h0M524.2 205.7h0M522.3 166.1h0M519.7 183.0h0M524.0 150.1h0M531.3 194.5h0M539.1 173.8h0M523.5 234.6h0M562.3 192.8h0M525.4 230.9h0M524.5 188.5h0M540.6 237.4h0M519.8 214.2h0M523.2 221.7h0M520.6 226.7h0M543.7 224.4h0M522.7 225.1h0M573.8 235.5h0M526.0 211.6h0M518.7 229.6h0M524.2 202.7h0M526.5 236.5h0M549.2 223.1h0M542.0 217.0h0M521.9 171.6h0M526.1 163.0h0M553.7 218.1h0M529.7 160.0h0M543.3 208.5h0M553.1 145.6h0M552.4 163.0h0M522.0 231.9h0M519.9 180.2h0M544.4 223.0h0M526.0 210.3h0M542.4 240.0h0M548.6 195.8h0M541.2 148.4h0M527.7 175.7h0M521.9 210.0h0M520.4 215.8h0M524.8 169.8h0M521.7 226.6h0M521.5 218.4h0M524.9 201.6h0M569.2 188.3h0M527.5 211.8h0M526.3 213.8h0M521.9 231.0h0M519.0 194.2h0M520.5 139.2h0M541.8 182.2h0M632.5 166.3h0M537.2 222.1h0M537.7 212.5h0M527.6 215.4h0M520.6 209.9h0M533.2 237.9h0M524.7 198.2h0M538.3 235.8h0M520.4 211.3h0M537.9 237.5h0M519.4 213.2h0M531.8 192.5h0M524.2 164.9h0M519.0 219.9h0M529.2 166.7h0M539.7 194.1h0M529.0 196.1h0M526.0 200.1h0M519.5 169.4h0M531.9 224.0h0M523.0 173.6h0M534.7 209.1h0M532.5 216.1h0M535.4 176.8h0M522.9 233.4h0M526.6 208.8h0M536.5 160.3h0M526.0 216.2h0M521.3 143.5h0M525.8 188.3h0M538.3 186.6h0M556.9 136.8h0M526.4 156.2h0M533.0 219.9h0M537.4 196.7h0M529.9 173.0h0M530.2 182.1h0M521.1 235.0h0M532.2 194.2h0M538.8 192.8h0M544.5 148.1h0M524.6 239.7h0M540.5 198.6h0M535.3 238.9h0M530.1 169.1h0M535.0 239.2h0M539.1 230.2h0M533.4 235.0h0M531.6 178.5h0M522.8 169.7h0M519.9 224.7h0M541.1 216.4h0M542.3 206.3h0M527.3 169.8h0M517.9 182.0h0M521.0 199.6h0M518.9 205.8h0M521.7 227.5h0M521.2 203.3h0M532.5 205.7h0M543.2 240.0h0M599.1 149.5h0M517.6 223.9h0M521.0 216.7h0M527.9 141.5h0M525.7 198.9h0M526.1 226.4h0M517.7 236.4h0M541.9 197.5h0M524.9 187.6h0M523.4 224.1h0M526.3 236.2h0M554.6 190.1h0M557.6 191.3h0M519.4 233.9h0M532.7 167.3h0M520.7 182.4h0M611.5 150.2h0M527.1 238.2h0M524.4 212.2h0M518.1 212.2h0M532.0 208.5h0M519.6 215.3h0M519.5 240.5h0M542.3 227.4h0M549.9 143.9h0M525.4 225.8h0M534.7 166.9h0M523.3 161.2h0M520.0 148.6h0M523.4 178.1h0M534.1 182.7h0M543.5 158.1h0M527.5 190.8h0M528.3 186.8h0M528.5 164.0h0M531.8 220.5h0M522.1 238.1h0M544.9 144.1h0M538.3 231.4h0M532.5 141.3h0M527.4 186.3h0M529.7 219.0h0M528.8 229.4h0M524.6 160.3h0M564.6 219.2h0M584.8 224.6h0M529.5 204.9h0M525.0 202.2h0M517.8 225.3h0M524.7 198.4h0M548.4 231.1h0M525.1 236.8h0M528.8 229.1h0M529.3 215.8h0M521.3 206.2h0M519.8 193.2h0M536.9 222.3h0M529.9 154.7h0M525.0 162.9h0M532.3 214.6h0M536.8 236.2h0M532.2 239.7h0M543.8 158.8h0M531.5 177.8h0M531.3 210.7h0M526.1 215.5h0M521.6 204.0h0M519.5 156.2h0M561.3 213.3h0M533.8 226.0h0M532.5 198.9h0M551.5 171.7h0M523.0 210.6h0M528.3 179.8h0M530.9 153.3h0M528.3 192.5h0M525.7 150.1h0M548.1 239.8h0M521.3 168.7h0M554.4 131.7h0M524.9 217.2h0M538.2 231.4h0M539.7 176.1h0M536.5 221.7h0M540.7 209.4h0M540.3 230.3h0M519.7 172.6h0M529.9 221.9h0M524.9 199.1h0M539.1 181.4h0M562.9 156.1h0M539.5 201.2h0M518.6 209.6h0M533.3 212.9h0M522.9 201.6h0M538.8 214.0h0M519.2 167.7h0M521.2 222.6h0M542.2 147.2h0M524.2 216.8h0M530.0 162.9h0M533.7 233.2h0M532.4 185.3h0M531.0 203.5h0M540.0 209.3h0M527.1 171.4h0M528.0 177.2h0M536.6 217.2h0M523.4 227.7h0M518.0 218.6h0M534.7 228.6h0M520.2 196.4h0M522.9 215.9h0M518.3 211.4h0M525.0 198.4h0M524.0 194.4h0M540.9 187.1h0M529.1 161.1h0M527.7 199.1h0M546.2 196.6h0M520.0 177.8h0M517.7 232.5h0M520.9 210.6h0M522.4 222.3h0M520.5 216.6h0M531.2 217.4h0M533.6 207.0h0M521.0 229.5h0M530.4 221.9h0M521.3 187.1h0M530.4 238.8h0M523.7 191.4h0M524.6 158.6h0M541.3 170.4h0M519.4 223.9h0M533.1 231.0h0M533.4 193.4h0M548.0 126.7h0M529.1 212.4h0M531.0 236.7h0M527.3 219.2h0M526.6 228.0h0M537.6 187.2h0M525.7 195.2h0M534.0 236.5h0M530.8 169.7h0M548.8 198.6h0M530.8 216.8h0M526.6 206.1h0M522.3 214.6h0M522.0 211.6h0M531.8 160.9h0M532.6 173.7h0M518.4 188.5h0M520.4 229.3h0M529.7 188.7h0M521.1 148.8h0M523.2 205.3h0M532.5 193.2h0M525.3 217.0h0M534.0 216.1h0M542.9 152.0h0M524.9 203.4h0M531.4 228.4h0M625.0 119.0h0M519.9 222.8h0M526.5 195.6h0M553.7 149.8h0M528.3 213.5h0M537.8 174.1h0M529.5 192.9h0M521.4 207.3h0M531.0 221.3h0M523.2 205.1h0M531.2 202.7h0M535.0 219.5h0M541.2 219.4h0M535.6 221.8h0M520.0 240.1h0M521.1 210.5h0M558.6 109.8h0M525.3 223.1h0M532.7 147.0h0M539.3 221.4h0M546.2 223.5h0M524.0 226.7h0M602.7 175.9h0M523.3 206.5h0M547.1 210.5h0M524.9 204.3h0M534.8 192.7h0M532.6 235.5h0M533.5 208.2h0M525.4 239.1h0M539.4 155.7h0M520.2 191.4h0M524.0 202.9h0M532.5 212.4h0M524.7 221.1h0M526.6 159.5h0M526.6 189.7h0M538.8 206.2h0M531.6 218.5h0M526.6 199.5h0M522.2 220.9h0M519.2 223.2h0M526.8 144.0h0M520.5 161.3h0M543.2 164.4h0M525.1 216.9h0M525.5 149.2h0M529.5 236.1h0M544.8 180.0h0M519.5 186.2h0M558.9 191.8h0M535.1 189.4h0M538.2 199.1h0M528.6 224.3h0M538.8 215.1h0M525.8 222.2h0M539.3 207.0h0M522.4 230.7h0M517.7 212.3h0M518.5 190.3h0M531.0 236.3h0M591.0 129.4h0M553.1 178.4h0M532.1 233.8h0M521.4 185.1h0M534.7 183.5h0M537.5 194.6h0M539.4 233.4h0M528.6 239.4h0M521.8 236.4h0M551.2 239.4h0M537.6 231.5h0M520.7 224.7h0M517.6 200.8h0M543.6 211.5h0M525.3 210.3h0M529.4 222.3h0M523.7 170.8h0M525.5 205.5h0M534.2 198.6h0M521.3 207.9h0M533.1 235.4h0M529.5 213.6h0M563.0 196.2h0M522.3 172.0h0M529.4 237.7h0M531.9 181.1h0M555.2 168.3h0M537.1 238.7h0M521.5 223.9h0M519.8 236.5h0M523.2 229.7h0M530.0 224.6h0M520.6 216.1h0M573.1 170.9h0M532.2 183.0h0M520.2 175.8h0M521.7 189.0h0M530.3 228.2h0M527.9 170.4h0M559.5 223.8h0M524.6 228.9h0M559.3 226.9h0M524.0 208.5h0M517.8 183.3h0M518.6 214.4h0M526.1 228.1h0M524.5 236.8h0M527.3 233.1h0M533.2 200.5h0M553.6 218.6h0M526.4 206.9h0M532.5 216.7h0M524.1 227.2h0M523.7 233.2h0M563.8 143.5h0M518.2 234.7h0M525.1 224.0h0M534.3 228.1h0M534.1 214.6h0M538.2 171.3h0M520.6 165.1h0M546.2 199.9h0M525.8 187.7h0M576.0 228.1h0M532.9 229.3h0M534.4 205.6h0M526.8 203.7h0M527.2 222.6h0M523.6 234.1h0M523.8 155.7h0M537.2 230.5h0M521.8 195.0h0M565.4 130.3h0M526.2 212.4h0M528.8 135.0h0M527.5 212.6h0M523.6 213.6h0M521.7 199.0h0M524.7 214.3h0M525.4 192.2h0M527.9 212.6h0M534.2 192.9h0M545.5 189.7h0M540.3 226.0h0M529.8 171.9h0M528.3 195.9h0M537.6 197.0h0M518.2 222.6h0M527.8 201.0h0M541.4 223.6h0M533.6 192.7h0M531.7 164.8h0M560.1 140.6h0M555.4 220.2h0M531.6 183.4h0M524.9 209.2h0M525.7 197.5h0M533.0 223.1h0M539.1 226.0h0M540.7 226.1h0M555.5 232.7h0M553.8 134.5h0M538.3 207.0h0M545.0 194.5h0M560.7 199.6h0M539.2 231.6h0M530.5 207.4h0M525.1 214.7h0M534.2 171.2h0M523.5 142.6h0M536.5 216.3h0M545.3 211.7h0M527.0 239.4h0M539.4 195.5h0M521.2 224.7h0M519.6 213.0h0M534.7 202.7h0M525.2 221.0h0M517.6 186.1h0M525.5 224.9h0M532.9 159.7h0M545.6 178.5h0M527.1 187.0h0M546.4 222.6h0M519.7 202.5h0M543.8 153.6h0M547.7 216.6h0M524.2 165.7h0M540.2 169.9h0M533.2 173.8h0M518.5 188.8h0M518.8 238.1h0M521.9 200.1h0M528.0 196.4h0M533.9 195.3h0M535.6 226.0h0M562.1 150.5h0M526.6 175.4h0M520.2 233.8h0M525.2 216.0h0M525.2 216.1h0M517.8 216.0h0M532.5 207.3h0M540.5 138.1h0M539.4 172.8h0M565.8 170.7h0M534.7 219.0h0M552.3 180.7h0M543.8 178.7h0M522.0 211.7h0M524.7 186.5h0M523.1 178.6h0M530.0 232.0h0M532.8 178.1h0M524.1 216.7h0M519.5 190.9h0M524.0 173.0h0M530.6 228.2h0M527.3 198.7h0M533.5 214.9h0M531.9 232.7h0M534.7 207.9h0M531.7 233.4h0M523.4 208.0h0M538.9 174.2h0M556.3 229.5h0M528.5 192.0h0M532.4 228.7h0M527.3 195.0h0M521.6 205.2h0M536.6 156.6h0M528.8 232.5h0M531.8 235.8h0M519.4 222.3h0M520.2 213.8h0M517.8 171.7h0M518.5 182.4h0M534.6 234.9h0M535.6 161.2h0M541.8 171.9h0M529.2 223.7h0M522.3 227.5h0M525.8 205.5h0M525.0 199.1h0M539.3 159.1h0M554.3 165.4h0M542.7 207.9h0M534.5 180.7h0M526.0 207.8h0M552.3 196.7h0M539.6 228.7h0M538.4 200.2h0M518.0 238.5h0M520.8 221.4h0M521.9 239.5h0M519.0 177.3h0M525.8 209.0h0M538.3 154.0h0M518.8 236.9h0M528.9 169.1h0M528.2 195.6h0M528.8 186.6h0M530.1 193.7h0M522.7 226.4h0M519.7 219.4h0M518.0 228.4h0M517.7 195.8h0M518.8 168.2h0M531.3 179.7h0M529.2 150.3h0M523.1 206.0h0M525.6 182.0h0M550.0 233.1h0M530.7 148.8h0M547.6 170.2h0M521.1 220.7h0M538.2 219.0h0M546.6 179.4h0M525.9 237.2h0M517.7 232.8h0M547.6 208.1h0M530.5 201.7h0M518.8 221.4h0M520.6 240.2h0M521.0 175.7h0M518.7 172.2h0M527.5 166.7h0M523.4 229.1h0M534.7 181.7h0M519.5 216.0h0M519.1 196.7h0M536.7 235.2h0M520.5 217.3h0M541.9 184.3h0M531.0 237.5h0M535.7 216.5h0M573.4 226.4h0M535.1 186.2h0M533.5 223.6h0M534.7 187.0h0M534.7 237.6h0M547.2 177.5h0M519.7 225.3h0M545.1 204.1h0M517.6 204.7h0M533.0 234.3h0M541.3 232.0h0M527.9 155.4h0M534.1 210.4h0M535.0 193.1h0M524.0 225.9h0M548.5 172.3h0M545.3 187.1h0M524.0 234.8h0M540.0 214.9h0M545.0 208.4h0M534.7 217.9h0M532.1 224.1h0M523.4 195.9h0M554.2 217.0h0M557.1 201.3h0M523.0 238.0h0M520.9 235.3h0M544.7 227.8h0M535.4 190.3h0M518.4 210.3h0M536.8 220.5h0M538.4 176.6h0M531.8 222.3h0M535.7 234.5h0M543.9 209.4h0M546.7 187.0h0M521.0 234.8h0M548.7 240.4h0M540.9 139.7h0M521.1 211.9h0M531.7 230.2h0M536.7 171.8h0M523.8 200.9h0M532.4 194.6h0M523.5 195.0h0M518.6 150.0h0M522.2 207.2h0M538.1 224.1h0M539.0 194.8h0M535.8 178.7h0M541.5 228.2h0M563.8 152.7h0M533.1 197.6h0M529.5 232.4h0M545.8 214.0h0M546.0 194.6h0M529.6 188.3h0M536.7 207.3h0M527.9 240.0h0M533.7 212.3h0M535.4 210.8h0M531.3 225.3h0M523.8 236.0h0M568.6 166.9h0M517.8 172.4h0M613.6 129.5h0M526.0 238.8h0M519.8 236.6h0M520.3 191.4h0M519.1 158.4h0M523.3 198.9h0M523.8 196.2h0M525.9 208.2h0M525.9 112.6h0M539.6 187.7h0M521.8 224.7h0M539.7 208.9h0M518.2 230.1h0M525.6 208.9h0M546.0 232.3h0M569.0 132.5h0M525.8 221.1h0M523.8 228.8h0M541.6 147.5h0M531.0 191.9h0M524.8 193.7h0M539.2 224.9h0M532.8 177.2h0M534.5 157.2h0M537.6 202.6h0M523.6 199.0h0M557.1 179.3h0M530.3 134.6h0M558.7 181.5h0M521.0 203.6h0"/><path d="M519.5 211.8h0M546.9 176.2h0M535.1 212.7h0M521.7 212.4h0M520.9 212.3h0M526.6 202.3h0M520.0 236.3h0M518.0 127.7h0M534.7 192.0h0M531.3 240.1h0M520.7 161.7h0M538.2 227.6h0M541.9 175.9h0M520.0 196.5h0M523.3 227.2h0M527.2 147.1h0M545.0 227.4h0M517.8 169.7h0M522.4 239.9h0M539.4 235.2h0M545.1 182.8h0M528.8 221.7h0M529.7 228.1h0M529.4 211.2h0M517.8 221.4h0M521.9 199.0h0M521.7 188.5h0M527.1 238.5h0M548.6 231.5h0M536.5 173.0h0M527.0 235.4h0M540.5 206.7h0M546.9 201.0h0M535.1 159.1h0M544.8 206.6h0M525.4 194.9h0M532.1 200.9h0M533.8 237.1h0M521.0 154.1h0M528.1 192.4h0M529.2 183.2h0M542.0 221.9h0M527.9 181.5h0M535.1 206.3h0M521.3 240.4h0M521.3 151.7h0M528.4 187.0h0M525.1 208.8h0M528.5 237.8h0M544.7 203.7h0M543.8 220.1h0M537.3 225.6h0M521.2 176.7h0M520.0 233.5h0M526.6 219.0h0M563.6 203.9h0M617.5 183.5h0M521.1 226.9h0M539.0 208.9h0M521.9 204.2h0M524.9 205.8h0M554.5 179.4h0M522.2 236.4h0M522.8 205.1h0M544.9 126.3h0M541.4 239.4h0M542.6 208.7h0M518.1 213.9h0M517.7 176.3h0M530.7 199.3h0M528.1 215.1h0M538.1 198.4h0M521.9 229.2h0M550.7 191.8h0M518.7 198.8h0M531.0 206.9h0M532.8 234.1h0M524.9 215.3h0M528.1 147.6h0M521.4 217.8h0M528.0 201.6h0M553.9 147.5h0M526.9 181.6h0M537.6 219.3h0M569.5 190.5h0M544.8 169.9h0M552.6 211.9h0M529.6 224.8h0M552.4 231.7h0M528.8 174.3h0M521.2 163.1h0M556.2 227.7h0M546.8 226.5h0M555.1 158.3h0M520.0 226.9h0M519.4 184.2h0M527.8 210.0h0M519.4 170.7h0M526.0 206.7h0M527.3 188.5h0M536.5 235.9h0M530.6 205.9h0M559.6 156.0h0M526.3 207.2h0M534.6 178.9h0M530.3 220.2h0M533.3 227.5h0M545.3 229.4h0M521.1 127.1h0M532.5 219.8h0M533.8 172.9h0M522.6 183.4h0M523.2 183.2h0M517.9 208.6h0M566.8 159.4h0M533.2 212.7h0M530.3 236.4h0M517.8 182.8h0M520.0 207.9h0M520.9 223.5h0M534.1 218.3h0M518.4 223.2h0M535.4 216.3h0M529.9 231.6h0M525.8 212.0h0M541.5 190.5h0M553.6 210.8h0M524.9 226.9h0M535.7 192.7h0M523.4 156.7h0M533.3 203.2h0M544.1 213.2h0M520.3 235.4h0M553.5 207.5h0M528.4 201.2h0M542.0 130.7h0M525.1 224.2h0M524.5 222.7h0M524.9 212.4h0M529.8 201.0h0M540.4 135.7h0M526.4 232.5h0M541.4 188.4h0M525.2 239.8h0M540.1 218.3h0M518.6 182.0h0M544.4 227.8h0M526.3 226.2h0M520.3 188.3h0M549.6 188.9h0M520.6 233.6h0M538.9 216.3h0M549.0 188.2h0M518.6 232.8h0M529.3 225.3h0M525.6 220.0h0M522.3 211.3h0M529.1 159.4h0M536.4 148.6h0M526.8 207.0h0M518.3 227.9h0M526.1 234.9h0M522.8 238.5h0M536.5 215.4h0M524.0 191.9h0M519.7 155.2h0M539.3 144.8h0M532.6 224.2h0M520.5 202.7h0M532.7 221.6h0M525.1 210.8h0M536.8 209.7h0M526.8 189.8h0M535.7 210.4h0M531.2 174.4h0M543.8 189.6h0M558.0 152.4h0M572.2 116.9h0M537.7 230.6h0M530.8 190.6h0M527.5 239.7h0M527.1 177.5h0M539.3 189.2h0M520.8 226.9h0M518.9 212.3h0M524.8 216.1h0M527.0 221.9h0M523.9 160.9h0M531.4 219.4h0M528.1 213.5h0M521.2 224.6h0M549.0 210.3h0M521.8 239.3h0M536.0 220.3h0M525.2 219.9h0M530.3 197.8h0M538.3 238.3h0M533.6 225.9h0M557.8 176.8h0M547.7 140.6h0M527.9 210.0h0M549.9 206.4h0M525.1 205.7h0M518.3 217.2h0M543.2 232.6h0M520.9 227.3h0M536.2 172.5h0M517.6 191.9h0M577.2 192.5h0M522.7 188.5h0M519.9 150.4h0M549.2 140.0h0M564.5 193.4h0M518.0 229.2h0M518.3 204.9h0M527.2 120.1h0M585.3 150.7h0M543.0 201.8h0M538.3 160.6h0M528.5 227.1h0M534.9 176.1h0M527.2 211.8h0M539.3 238.4h0M518.6 236.8h0M525.8 177.5h0M527.5 212.9h0M523.7 206.8h0M522.6 232.3h0M517.8 199.6h0M518.4 221.8h0M523.9 180.3h0M524.5 201.8h0M538.6 156.0h0M538.7 171.5h0M531.0 231.8h0M525.5 229.9h0M529.2 224.4h0M535.5 195.5h0M562.0 181.9h0M524.2 166.6h0M527.1 168.2h0M532.4 233.7h0M537.4 231.9h0M520.7 225.0h0M544.0 176.9h0M542.6 155.8h0M520.6 205.2h0M553.6 160.4h0M537.5 236.6h0M525.7 200.5h0M519.8 162.0h0M531.6 225.6h0M522.5 221.6h0M535.3 218.3h0M545.5 217.6h0M544.2 226.4h0M527.1 224.5h0M529.7 219.6h0M538.8 220.4h0M555.4 222.2h0M530.4 194.7h0M533.1 233.8h0M549.7 214.9h0M560.9 238.0h0M541.0 191.2h0M519.8 200.3h0M539.9 231.5h0M628.8 149.0h0M530.7 231.8h0M521.5 182.9h0M574.1 134.6h0M526.9 168.4h0M538.5 179.9h0M531.0 235.0h0M530.8 212.5h0M538.7 231.5h0M576.7 216.7h0M530.3 173.9h0M521.5 175.3h0M527.2 193.2h0M544.1 204.5h0M547.9 229.6h0M537.3 171.8h0M541.5 206.5h0M533.1 240.5h0M526.5 233.0h0M537.6 236.8h0M551.7 179.1h0M553.5 210.5h0M520.6 146.0h0M547.2 140.5h0M535.4 216.1h0M541.7 239.0h0M529.5 184.2h0M521.4 167.2h0M532.4 160.6h0M537.0 224.4h0M531.8 197.2h0M525.6 227.6h0M537.7 162.1h0M530.6 195.9h0M525.2 220.4h0M539.0 196.2h0M525.9 206.9h0M529.6 225.5h0M519.0 179.0h0M527.2 196.0h0M523.9 181.6h0M542.1 159.1h0M546.9 168.3h0M559.5 140.8h0M544.1 161.0h0M524.3 206.1h0M518.7 231.5h0M519.5 200.0h0M552.2 172.2h0M532.9 173.5h0M546.0 122.8h0M538.0 174.8h0M531.6 165.9h0M527.7 212.0h0M522.4 211.4h0M538.0 210.2h0M549.2 155.7h0M526.8 229.7h0M555.4 201.3h0M527.8 200.8h0M520.6 186.9h0M524.9 159.0h0M526.8 220.7h0M530.5 235.9h0M534.0 209.0h0M533.7 234.1h0M525.2 197.4h0M536.5 233.0h0M527.5 217.6h0M533.2 207.0h0M520.3 223.1h0M528.7 195.3h0M537.0 188.1h0M519.9 197.1h0M531.5 181.1h0M529.0 234.1h0M529.8 182.8h0M532.4 212.9h0M527.8 224.1h0M523.5 207.4h0M528.0 207.5h0M519.7 232.0h0M528.9 238.7h0M523.1 234.8h0M523.2 236.3h0M533.6 125.2h0M546.7 238.7h0M519.4 224.9h0M517.8 194.3h0M524.5 212.4h0M518.9 214.3h0M529.4 184.1h0M532.6 201.2h0M524.6 233.4h0M525.3 218.0h0M532.1 217.2h0M554.4 194.9h0M525.5 208.3h0M525.2 222.2h0M530.6 234.5h0M537.2 238.7h0M530.6 211.9h0M524.4 195.7h0M523.1 226.1h0M539.2 227.4h0M536.6 229.8h0M536.6 172.3h0M558.2 178.4h0M526.5 201.2h0M546.7 237.9h0M530.9 236.5h0M542.0 147.9h0M531.2 195.9h0M519.6 130.3h0M557.3 145.4h0M527.9 211.7h0M523.5 143.1h0M538.1 154.3h0M529.0 147.1h0M522.2 224.5h0M531.4 225.0h0M520.1 202.0h0M521.9 135.1h0M530.5 198.3h0M518.1 227.4h0M522.9 213.6h0M521.6 235.4h0M520.1 186.4h0M520.4 215.0h0M525.3 148.8h0M540.3 163.2h0M520.6 226.8h0M521.2 213.2h0M529.3 139.4h0M542.2 209.6h0M523.8 218.0h0M567.5 175.6h0M522.2 192.6h0M526.8 230.6h0M521.9 227.6h0M536.0 132.0h0M549.3 231.5h0M521.3 214.5h0M524.2 208.7h0M559.5 186.0h0M526.1 219.4h0M544.2 185.7h0M551.4 160.9h0M528.7 199.5h0M541.6 228.2h0M535.2 189.3h0M523.2 172.0h0M524.4 173.1h0M540.6 226.0h0M522.2 149.2h0M535.9 206.4h0M538.0 210.5h0M547.6 233.6h0M521.0 228.3h0M519.0 194.9h0M522.8 211.0h0M520.2 238.2h0M534.6 155.9h0M526.9 230.5h0M536.2 121.7h0M541.9 216.3h0M534.3 184.0h0M531.0 221.8h0M520.8 156.5h0M536.0 204.5h0M542.3 212.1h0M519.6 207.0h0M543.1 188.1h0M530.9 232.2h0M519.9 163.5h0M523.9 224.9h0M531.8 239.3h0M528.5 196.5h0M522.1 230.1h0M527.3 143.7h0M558.6 184.8h0M563.7 158.2h0M543.3 198.8h0M592.9 184.6h0M519.4 191.7h0M542.0 172.4h0M532.0 204.1h0M533.2 207.5h0M527.0 210.1h0M541.6 218.2h0M527.3 126.5h0M522.7 229.5h0M523.0 186.0h0M534.6 240.4h0M527.0 219.2h0M562.9 164.5h0M550.4 196.2h0M585.9 131.9h0M521.5 121.4h0M524.6 211.0h0M531.3 197.5h0M531.1 206.0h0M537.6 204.4h0M531.6 138.0h0M529.9 215.6h0M561.8 218.1h0M543.1 220.8h0M565.3 173.1h0M528.8 189.9h0M519.3 223.9h0M523.4 127.4h0M536.2 165.2h0M529.9 222.3h0M526.8 223.5h0M533.0 209.8h0M531.6 157.7h0M523.9 226.4h0M525.7 164.5h0M518.3 207.5h0M523.1 146.5h0M529.1 214.4h0M518.2 212.7h0M524.0 204.9h0M559.1 148.5h0M532.9 198.3h0M531.3 214.7h0M531.3 196.0h0M531.5 212.6h0M563.3 204.7h0M544.6 227.0h0M534.7 175.8h0M533.2 232.5h0M547.3 236.0h0M519.4 216.5h0M539.4 211.8h0M532.5 203.0h0M526.6 234.7h0M522.3 208.7h0M521.5 227.7h0M537.3 227.9h0M522.3 188.5h0M520.7 176.7h0M522.6 236.8h0M538.1 186.4h0M525.0 233.2h0M525.4 201.5h0M551.7 196.1h0M523.9 198.9h0M530.3 177.8h0M524.6 181.8h0M524.3 197.1h0M538.2 217.3h0M532.8 216.6h0M519.7 215.0h0M572.8 143.3h0M528.2 208.2h0M521.6 216.7h0M558.5 150.1h0M542.3 221.7h0M601.6 139.1h0M528.1 202.8h0M555.3 185.0h0M522.8 212.8h0M546.7 222.8h0M528.2 215.2h0M523.7 231.3h0M517.8 203.5h0M539.7 180.7h0M520.4 236.2h0M551.5 167.2h0M527.4 237.8h0M523.9 185.4h0M522.2 218.1h0M571.7 151.2h0M523.5 175.1h0M530.2 224.1h0M534.4 167.9h0M524.5 230.5h0M531.1 189.7h0M558.5 185.8h0M527.0 236.9h0M545.5 193.2h0M519.5 176.1h0M519.4 184.6h0M519.9 202.5h0M564.9 223.9h0M532.4 217.5h0M546.3 194.1h0M562.3 174.3h0M520.6 214.7h0M530.3 178.4h0M521.3 217.8h0M527.5 227.5h0M521.8 226.9h0M528.2 200.8h0M543.4 185.7h0M529.0 212.6h0M519.9 225.0h0M529.5 207.4h0M578.8 197.4h0M534.6 151.7h0M536.6 229.2h0M522.5 209.2h0M533.4 240.3h0M527.8 205.8h0M532.5 153.1h0M535.1 233.4h0M532.5 202.4h0M529.0 191.6h0M543.6 191.3h0M519.4 202.9h0M524.5 181.8h0M527.2 237.1h0M523.3 197.6h0M532.4 170.8h0M529.7 220.4h0M540.9 219.0h0M524.1 238.4h0M526.8 197.6h0M520.6 185.5h0M577.6 236.3h0M518.1 214.2h0M547.6 139.8h0M530.3 218.3h0M544.0 213.8h0M523.2 206.4h0M522.2 181.3h0M518.7 229.0h0M530.8 220.9h0M525.9 194.6h0M531.0 196.4h0M525.4 232.9h0M522.1 228.5h0M574.2 132.7h0M522.2 173.8h0M535.1 184.0h0M520.7 193.4h0M517.7 185.2h0M525.8 163.4h0M524.5 221.2h0M524.3 210.8h0M527.5 202.0h0M546.9 153.2h0M519.1 218.9h0M528.1 238.0h0M522.7 214.7h0M548.8 180.8h0M519.1 200.9h0M558.5 160.3h0M525.7 233.1h0M521.5 217.3h0M532.4 135.6h0M524.0 203.1h0M519.5 212.2h0M525.1 238.2h0M530.9 234.9h0M524.7 148.6h0M525.7 117.3h0M549.4 199.6h0M521.9 222.8h0M557.2 170.4h0M531.9 211.2h0M525.5 115.5h0M529.6 181.0h0M540.2 225.1h0M538.0 224.4h0M574.1 179.9h0M539.1 199.5h0M526.8 239.9h0M529.1 223.4h0M540.4 224.2h0M532.0 196.3h0M536.8 219.1h0M525.2 216.8h0M523.8 235.2h0M523.8 193.8h0M527.4 181.4h0M521.9 185.4h0M523.4 208.2h0M555.3 173.6h0M534.1 223.7h0M525.2 160.1h0M532.5 206.4h0M557.6 165.2h0M517.6 176.5h0M519.2 227.0h0M530.3 208.2h0M527.4 181.5h0M525.8 194.7h0M524.0 158.2h0M543.7 231.5h0M563.4 183.4h0M526.7 166.4h0M541.4 202.6h0M538.8 231.9h0M521.4 226.4h0M521.9 199.5h0M535.0 238.4h0M530.5 200.7h0M561.6 233.2h0M520.3 205.8h0M550.3 216.9h0M532.1 160.7h0M524.5 156.1h0M529.3 230.2h0M533.7 233.3h0M530.2 186.6h0M530.7 166.3h0M523.6 178.1h0M536.5 222.0h0M519.8 196.9h0M578.5 156.5h0M524.2 163.9h0M517.9 221.7h0M523.4 214.1h0M524.8 211.4h0M517.9 202.3h0M525.1 193.2h0M557.0 162.1h0M518.9 198.1h0M518.9 199.2h0M524.3 237.1h0M545.4 180.4h0M523.6 236.2h0M565.8 230.0h0M545.8 204.9h0M520.4 198.2h0M526.3 180.1h0M518.4 153.8h0M526.7 189.1h0M533.8 188.7h0M546.1 230.2h0M534.4 179.5h0M526.5 212.1h0M543.0 215.6h0M521.1 181.3h0M534.2 216.2h0M535.4 237.8h0M541.3 206.8h0M520.1 137.8h0M526.7 198.0h0M530.0 158.1h0M522.3 239.0h0M527.3 171.9h0M541.6 196.2h0M522.1 172.3h0M545.0 172.7h0M519.9 229.5h0M519.1 232.1h0M530.3 189.2h0M540.3 210.3h0M518.5 239.9h0M528.0 224.6h0M546.8 222.4h0M523.8 202.3h0M522.6 203.2h0M523.9 206.5h0M541.9 174.6h0M519.8 185.9h0M520.0 232.7h0M522.8 220.7h0M535.9 236.3h0M518.2 220.7h0M535.0 237.5h0M545.0 167.8h0M535.7 212.3h0M521.4 212.7h0M519.2 214.8h0M517.9 238.1h0M532.1 237.9h0M533.8 225.4h0M532.7 207.6h0M528.5 237.5h0M524.1 214.0h0M527.5 209.0h0M528.5 182.1h0M522.4 217.4h0M523.5 234.4h0M520.7 171.8h0M533.4 238.9h0M521.8 212.2h0M530.7 238.8h0M530.1 228.8h0M530.1 185.3h0M533.5 223.5h0M523.7 191.6h0M531.7 225.4h0M532.5 185.9h0M525.2 170.7h0M534.2 189.3h0M541.4 213.1h0M520.3 228.0h0M555.7 231.8h0M540.8 215.3h0M524.8 196.3h0M518.3 201.4h0M524.4 202.0h0M533.5 210.8h0M526.5 214.3h0M519.1 221.2h0M519.8 171.8h0M522.2 239.2h0M524.2 172.7h0M530.0 193.3h0M547.5 152.9h0M532.9 202.6h0M517.8 232.4h0M542.6 174.1h0M560.0 189.8h0M550.2 124.7h0M543.9 204.1h0M518.4 216.9h0M527.8 180.5h0M524.2 211.0h0M536.6 233.2h0M522.6 178.5h0M548.4 199.3h0M526.9 205.0h0M519.6 225.0h0M534.6 218.1h0M546.7 234.3h0M517.9 225.6h0M537.3 152.4h0M529.3 193.4h0M525.9 216.9h0M544.2 239.1h0M543.9 227.7h0M567.1 184.9h0M532.9 211.7h0M534.9 179.3h0M526.9 217.6h0M544.3 228.2h0M528.8 227.7h0M521.0 216.1h0M524.4 235.2h0M522.5 202.4h0M540.1 198.4h0M521.9 184.9h0M529.8 220.1h0M523.6 194.9h0M521.3 205.1h0M534.4 198.9h0M537.2 198.1h0M520.1 181.9h0M556.4 119.5h0M540.8 146.0h0M534.5 222.9h0M518.0 227.7h0M523.5 197.9h0M531.9 189.8h0M519.7 206.2h0M547.5 212.5h0M542.2 217.5h0M525.9 239.0h0M520.4 220.7h0M521.1 200.0h0M522.4 188.8h0M523.1 147.8h0M534.6 215.8h0M539.4 196.3h0M533.2 165.9h0M525.4 172.3h0M576.2 120.3h0M525.2 121.3h0M519.5 214.4h0M531.3 222.7h0M518.7 239.8h0M531.4 240.0h0M536.0 235.3h0M561.3 174.9h0M530.6 240.2h0M537.4 228.6h0M553.8 171.4h0M549.7 184.0h0M517.7 230.4h0M518.5 201.7h0M522.9 178.6h0M524.2 163.4h0M519.7 230.5h0M524.0 166.8h0M547.8 137.6h0M518.3 213.5h0M531.8 218.5h0M529.1 200.7h0M524.4 213.7h0M555.9 215.0h0M548.6 172.3h0M534.0 220.8h0M520.3 198.4h0M518.4 229.3h0M549.1 196.5h0M529.9 212.3h0M536.8 149.5h0M532.2 229.7h0M533.8 196.7h0M521.8 220.4h0M537.7 195.4h0M518.0 227.4h0M531.0 232.0h0M544.8 228.3h0M525.0 166.0h0M521.8 182.7h0"/><path d="M533.0 177.0h0M544.8 166.0h0M523.4 171.5h0M527.1 187.4h0M534.7 235.3h0M524.0 187.3h0M554.8 193.8h0M544.7 221.1h0M526.2 191.5h0M523.5 235.8h0M518.8 216.3h0M526.5 238.4h0M556.9 207.2h0M523.6 235.0h0M523.6 216.2h0M518.3 175.8h0M523.8 238.8h0M524.2 180.4h0M522.9 213.4h0M531.1 187.3h0M521.3 199.5h0M529.2 170.5h0M533.8 206.3h0M525.4 219.8h0M520.8 211.8h0M528.0 235.7h0M519.0 228.5h0M528.8 222.5h0M527.0 206.5h0M517.8 195.2h0M533.5 201.4h0M528.0 204.9h0M519.9 185.1h0M531.3 231.7h0M529.8 206.0h0M519.5 217.1h0M529.4 186.2h0M526.4 188.2h0M526.0 202.5h0M529.0 182.5h0M525.7 174.9h0M527.6 218.7h0M531.1 127.7h0M528.0 199.9h0M518.2 199.3h0M523.1 232.5h0M531.5 203.8h0M531.5 218.3h0M535.7 181.6h0M523.0 225.8h0M524.3 214.9h0M523.9 193.8h0M539.8 193.1h0M551.9 218.2h0M518.9 199.6h0M537.7 227.3h0M518.1 229.3h0M537.4 180.6h0M518.2 231.4h0M518.7 196.8h0M527.9 181.4h0M541.2 197.9h0M529.9 176.3h0M541.6 204.1h0M530.4 213.6h0M532.1 151.5h0M545.1 214.2h0M561.1 137.6h0M518.6 191.6h0M520.2 229.4h0M523.5 231.4h0M539.5 192.3h0M535.7 176.4h0M519.7 229.8h0M561.8 210.4h0M520.0 223.8h0M529.8 189.6h0M531.4 195.0h0M530.3 228.4h0M520.1 192.3h0M556.2 216.3h0M534.7 197.8h0M521.9 233.8h0M525.2 229.4h0M524.5 225.4h0M537.3 190.5h0M522.8 142.2h0M530.3 218.2h0M518.6 194.7h0M539.4 222.6h0M523.5 195.7h0M552.7 197.0h0M567.0 166.5h0M537.7 205.1h0M521.6 225.5h0M520.8 199.0h0M556.1 219.5h0M543.2 232.3h0M534.1 202.4h0M539.8 197.4h0M535.7 231.0h0M532.3 211.3h0M523.0 232.5h0M528.2 199.2h0M538.7 215.9h0M530.6 217.8h0M528.0 230.1h0M542.0 224.3h0M532.4 239.0h0M564.9 194.2h0M534.3 240.4h0M571.3 132.7h0M535.1 223.5h0M568.2 177.6h0M541.0 161.0h0M522.0 219.3h0M520.4 225.7h0M521.7 219.0h0M523.5 202.2h0M518.8 212.5h0M541.4 170.7h0M523.0 231.4h0M545.2 168.4h0M555.1 135.4h0M528.6 206.7h0M520.1 205.9h0M526.5 228.2h0M558.5 228.7h0M537.3 233.2h0M520.1 228.7h0M532.5 207.0h0M525.6 234.7h0M519.3 229.0h0M523.0 212.2h0M561.9 185.4h0M537.1 232.9h0M519.7 223.0h0M549.0 233.0h0M518.4 148.5h0M518.6 192.0h0M538.1 234.6h0M531.6 204.8h0M521.7 220.3h0M534.6 182.3h0M535.1 207.2h0M587.8 155.1h0M530.5 229.4h0M532.4 219.3h0M539.6 236.6h0M518.5 168.1h0M558.5 208.1h0M532.3 195.8h0M550.6 191.8h0M549.4 231.9h0M534.7 149.1h0M534.3 196.1h0M535.8 184.1h0M530.5 191.1h0M538.6 170.5h0M540.9 162.5h0M533.7 205.2h0M528.5 236.7h0M565.1 197.2h0M539.2 205.2h0M534.4 200.8h0M544.2 214.9h0M530.4 237.6h0M540.4 226.8h0M530.8 152.5h0M522.2 204.8h0M522.8 142.4h0M528.1 177.0h0M520.5 232.3h0M543.8 162.7h0M535.9 212.4h0M530.9 132.2h0M526.6 221.1h0M522.9 230.9h0M547.5 113.6h0M533.3 201.2h0M538.9 214.0h0M527.8 221.8h0M532.0 211.6h0M558.5 205.3h0M531.8 216.2h0M539.9 215.2h0M519.4 170.1h0M527.1 172.7h0M543.7 150.9h0M526.0 199.0h0M523.3 235.9h0M531.6 160.4h0M531.4 144.0h0M532.9 206.5h0M521.7 180.3h0M574.9 201.9h0M525.2 238.0h0M534.9 182.8h0M526.1 221.7h0M520.6 199.2h0M527.9 199.7h0M525.7 197.7h0M521.1 175.3h0M530.4 237.2h0M549.9 170.3h0M531.1 207.0h0M525.0 235.3h0M520.0 169.4h0M543.0 161.7h0M535.7 236.2h0M518.8 235.4h0M533.5 235.5h0M569.4 191.7h0M542.3 233.4h0M520.5 164.6h0M518.2 137.4h0M561.8 201.9h0M532.9 190.7h0M525.0 216.5h0M526.7 230.9h0M523.3 231.8h0M535.9 212.2h0M529.3 167.9h0M524.8 204.9h0M537.2 210.2h0M533.5 182.5h0M520.4 219.3h0M535.6 121.7h0M549.2 239.2h0M529.7 222.8h0M521.4 231.7h0M531.4 213.9h0M537.8 205.8h0M523.2 177.6h0M520.1 231.1h0M545.1 184.7h0M546.2 200.4h0M554.0 176.1h0M551.8 181.7h0M518.9 205.5h0M543.8 211.6h0M533.4 237.1h0M546.7 218.5h0M523.9 236.0h0M529.6 218.1h0M518.1 217.0h0M526.5 149.5h0M523.2 170.9h0M519.4 221.3h0M524.6 227.4h0M534.8 240.5h0M537.9 236.6h0M519.8 240.2h0M532.5 238.1h0M524.2 187.9h0M527.1 220.7h0M521.8 174.1h0M518.8 177.5h0M524.5 228.9h0M519.0 206.2h0M562.4 177.2h0M537.9 204.8h0M521.3 223.0h0M523.8 225.7h0M541.7 208.0h0M538.4 224.7h0M526.0 221.0h0M540.9 164.7h0M542.5 198.9h0M527.6 184.8h0M586.9 125.2h0M519.5 216.2h0M522.9 167.4h0M524.8 240.3h0M540.6 154.4h0M519.3 162.4h0M541.6 236.7h0M518.0 222.7h0M549.9 189.8h0M522.6 194.3h0M550.2 152.3h0M523.0 169.6h0M525.8 193.1h0M560.2 197.2h0M530.3 180.5h0M559.4 176.0h0M528.4 231.0h0M535.7 227.1h0M550.0 240.5h0M523.4 193.5h0M540.4 223.2h0M520.5 209.1h0M551.7 209.1h0M563.6 219.9h0M529.5 205.6h0M537.8 172.1h0M549.9 184.6h0M519.7 229.6h0M555.7 212.3h0M528.5 175.9h0M543.3 158.3h0M548.3 176.8h0M518.0 197.4h0M524.5 224.3h0M521.0 228.2h0M538.0 229.9h0M553.6 217.6h0M528.8 180.3h0M530.1 224.5h0M542.5 238.1h0M550.1 135.8h0M553.2 217.1h0M553.7 184.7h0M539.2 192.1h0M529.8 187.2h0M527.6 212.3h0M521.9 212.0h0M517.6 199.6h0M547.6 158.8h0M518.9 215.9h0M526.8 234.2h0M531.0 208.6h0M542.5 197.0h0M518.5 208.8h0M524.7 197.0h0M520.4 212.2h0M556.7 196.9h0M519.5 237.8h0M543.9 199.3h0M525.5 186.0h0M526.0 187.2h0M519.0 213.6h0M530.6 183.5h0M531.2 212.4h0M521.4 157.1h0M536.7 163.0h0M538.0 183.8h0M621.2 159.4h0M520.4 173.9h0M526.4 220.6h0M542.6 139.5h0M573.0 227.6h0M529.3 186.1h0M546.2 129.1h0M524.4 221.1h0M532.2 197.5h0M529.0 228.9h0M520.2 187.7h0M549.4 188.1h0M524.8 240.2h0M519.9 160.1h0M533.2 225.8h0M531.3 202.6h0M519.6 164.0h0M535.6 208.1h0M532.2 216.5h0M529.2 166.6h0M522.6 220.6h0M535.6 189.0h0M534.0 195.4h0M536.2 167.2h0M532.0 216.0h0M549.1 134.9h0M523.1 197.8h0M524.8 214.0h0M550.8 221.9h0M537.0 194.3h0M527.0 162.8h0M531.1 227.3h0M522.7 225.5h0M531.3 196.0h0M538.7 184.0h0M521.6 169.1h0M531.5 238.7h0M522.6 207.4h0M530.6 162.9h0M549.0 155.2h0M542.3 190.9h0M523.7 236.2h0M555.7 177.1h0M520.2 146.6h0M554.8 189.0h0M531.2 218.6h0M537.5 226.7h0M521.3 232.6h0M539.0 203.6h0M522.9 180.9h0M536.8 180.0h0M518.6 178.1h0M532.6 232.0h0M518.4 223.1h0M518.2 215.2h0M518.3 222.3h0M519.9 227.5h0M518.7 203.8h0M545.2 126.6h0M526.2 162.4h0M548.3 182.6h0M524.9 226.1h0M548.3 224.3h0M525.1 197.4h0M532.2 224.4h0M574.0 180.8h0M523.6 232.7h0M541.6 217.4h0M523.9 223.6h0M539.5 161.2h0M533.4 200.4h0M533.9 195.6h0M544.6 148.1h0M537.5 201.8h0M550.4 208.9h0M518.4 238.8h0M518.1 201.4h0M517.9 223.6h0M524.2 186.9h0M540.5 174.4h0M538.1 223.8h0M540.2 146.2h0M543.0 231.0h0M538.2 239.0h0M521.3 146.3h0M546.7 225.1h0M537.7 222.0h0M522.3 239.4h0M532.9 209.7h0M530.6 172.8h0M524.2 221.8h0M553.7 199.3h0M569.4 180.4h0M530.5 223.0h0M521.7 161.4h0M523.7 216.8h0M539.1 229.8h0M518.2 232.7h0M520.5 226.3h0M534.0 227.3h0M528.0 222.6h0M543.1 217.3h0M546.5 226.3h0M534.8 222.7h0M524.7 239.1h0M534.5 223.6h0M533.9 228.1h0M534.2 219.4h0M521.6 157.0h0M528.4 231.3h0M522.3 220.1h0M518.9 177.3h0M563.0 192.1h0M539.3 212.5h0M532.2 146.5h0M525.5 186.3h0M522.5 192.0h0M518.0 224.8h0M542.1 222.8h0M533.5 183.7h0M531.8 202.5h0M557.0 183.8h0M552.2 208.9h0M525.8 227.4h0M544.8 171.0h0M523.4 223.1h0M523.7 187.9h0M522.5 205.2h0M570.9 235.2h0M533.1 221.0h0M523.3 217.4h0M532.9 148.9h0M530.4 239.0h0M540.4 213.1h0M531.6 180.2h0M526.6 207.1h0M532.9 220.7h0M546.5 219.9h0M545.7 179.4h0M518.5 211.1h0M526.3 203.6h0M522.2 216.2h0M533.7 210.6h0M531.9 231.8h0M526.9 164.9h0M525.6 113.9h0M524.4 124.4h0M522.2 231.8h0M523.3 214.0h0M522.1 201.8h0M559.4 194.6h0M517.9 191.4h0M534.8 160.5h0M539.9 179.5h0M543.3 231.7h0M532.8 148.9h0M528.1 218.3h0M528.9 224.8h0M520.8 202.2h0M522.2 235.2h0M530.5 235.2h0M541.1 151.0h0M535.9 233.5h0M524.9 193.0h0M555.2 213.8h0M537.9 224.2h0M531.9 237.0h0M542.6 221.6h0M542.0 228.9h0M520.6 197.3h0M518.1 191.6h0M559.6 150.4h0M566.6 211.3h0M535.5 209.1h0M569.0 198.6h0M524.7 209.2h0M522.7 191.8h0M517.9 204.8h0M518.9 206.1h0M566.8 225.3h0M577.0 225.0h0M538.6 228.4h0M550.3 233.9h0M532.5 178.5h0M526.6 220.6h0M533.3 216.0h0M524.3 180.8h0M546.1 156.9h0M523.3 227.7h0M535.6 141.7h0M520.8 229.7h0M532.3 208.6h0M531.5 207.6h0M585.7 151.5h0M526.1 230.0h0M538.9 194.9h0M531.8 192.3h0M538.3 223.8h0M523.8 210.6h0M518.1 193.6h0M541.0 146.4h0M535.0 163.4h0M518.5 220.2h0M527.3 221.1h0M521.8 231.6h0M521.4 221.6h0M520.7 223.8h0M524.5 150.9h0M520.7 189.3h0M533.6 157.5h0M525.8 203.2h0M542.7 142.7h0M518.4 210.9h0M522.3 153.5h0M536.9 218.6h0M521.0 228.0h0M539.1 235.3h0M539.2 166.7h0M552.1 218.9h0M551.0 218.0h0M545.4 152.0h0M540.9 188.7h0M520.5 218.7h0M537.0 225.4h0M520.7 236.4h0M519.8 213.8h0M535.6 148.2h0M524.4 156.1h0M522.0 170.3h0M520.9 217.0h0M521.6 220.7h0M530.7 194.9h0M554.0 141.4h0M526.8 210.1h0M530.5 226.5h0M586.4 240.2h0M546.3 197.7h0M544.9 215.0h0M536.9 195.0h0M526.8 198.7h0M530.5 200.9h0M545.8 194.0h0M525.0 232.5h0M525.0 214.5h0M528.3 203.9h0M520.2 216.2h0M540.7 157.0h0M534.3 198.3h0M522.4 226.4h0M522.8 230.8h0M527.0 220.6h0M553.1 237.1h0M531.5 234.9h0M544.3 208.7h0M537.2 206.3h0M539.0 182.3h0M519.3 219.2h0M538.2 236.9h0M535.8 224.8h0M543.9 147.2h0M523.6 231.4h0M526.8 213.0h0M527.4 149.6h0M551.9 225.4h0M521.0 197.0h0M551.0 192.2h0M549.0 129.5h0M525.6 226.6h0M533.2 233.6h0M525.8 214.0h0M532.8 145.5h0M534.3 157.3h0M526.6 200.9h0M524.9 183.3h0M526.4 223.6h0M546.3 214.9h0M525.7 214.1h0M523.9 225.5h0M548.6 148.7h0M537.5 180.3h0M549.0 217.2h0M528.6 160.3h0M532.2 211.6h0M517.6 199.5h0M541.1 189.7h0M518.9 211.7h0M535.6 222.8h0M529.7 176.5h0M527.6 167.6h0M528.6 161.6h0M526.9 148.0h0M524.4 174.7h0M524.1 186.5h0M521.2 187.1h0M524.8 224.9h0M565.4 157.5h0M539.7 202.4h0M522.2 209.1h0M538.6 236.9h0M523.4 233.9h0M569.6 221.6h0M539.6 210.0h0M535.6 210.5h0M526.8 231.8h0M531.7 210.8h0M539.4 202.8h0M535.3 187.6h0M535.6 195.5h0M539.0 225.0h0M524.0 180.5h0M528.5 217.8h0M532.7 232.5h0M519.3 207.6h0M544.2 173.1h0M539.8 221.1h0M520.3 202.0h0M537.4 218.7h0M539.5 186.4h0M540.6 213.7h0M523.7 221.4h0M565.1 175.8h0M520.7 225.5h0M530.7 238.2h0M519.8 236.9h0M533.6 132.4h0M547.4 158.3h0M533.5 233.7h0M538.9 239.1h0M532.8 184.0h0M528.7 208.7h0M611.4 150.7h0M533.8 233.1h0M524.6 150.4h0M533.9 203.1h0M536.2 202.4h0M518.1 238.9h0M532.4 223.0h0M524.9 220.9h0M533.8 225.1h0M556.1 151.2h0M538.1 175.6h0M531.3 202.1h0M535.6 230.5h0M529.6 228.4h0M562.7 174.6h0M523.2 226.4h0M530.1 165.8h0M532.1 184.0h0M530.2 173.1h0M534.2 179.1h0M520.7 222.9h0M532.4 158.2h0M535.3 234.0h0M577.0 160.5h0M523.4 196.3h0M523.1 199.8h0M525.8 220.7h0M520.3 219.0h0M615.1 147.1h0M522.1 220.7h0M540.2 185.3h0M547.9 213.6h0M532.3 234.4h0M539.3 158.9h0M522.2 183.3h0M527.8 216.8h0M543.2 147.1h0M528.2 215.2h0M533.2 212.9h0M593.1 187.0h0M521.9 227.5h0M542.3 221.8h0M551.8 144.6h0M525.1 236.3h0M538.0 196.3h0M607.3 113.5h0M561.5 225.2h0M521.2 183.6h0M537.7 168.1h0M528.2 227.6h0M518.1 176.2h0M523.7 179.0h0M528.6 224.7h0M527.4 220.2h0M526.4 222.8h0M519.3 228.7h0M521.2 202.4h0M530.6 200.1h0M533.1 237.7h0M568.7 220.3h0M552.4 228.2h0M536.3 231.3h0M521.6 153.0h0M527.0 236.7h0M527.5 229.2h0M522.1 212.7h0M518.4 207.3h0M529.4 234.7h0M520.9 161.3h0M539.4 226.5h0M522.1 229.7h0M544.0 230.1h0M527.2 209.4h0M520.1 196.2h0M542.4 226.5h0M532.1 209.6h0M542.1 191.3h0M529.9 219.5h0M544.9 226.8h0M535.1 217.0h0M533.9 192.2h0M540.7 134.6h0M531.2 211.0h0M529.1 204.0h0M527.1 195.5h0M518.0 219.8h0M539.8 187.4h0M523.0 197.4h0M525.1 214.5h0M519.6 194.3h0M541.1 192.5h0M529.2 192.2h0M520.5 192.5h0M518.5 222.7h0M521.2 179.7h0M532.4 218.7h0M537.7 221.2h0M540.5 237.6h0M520.9 227.9h0M526.0 224.1h0M535.4 191.0h0M588.7 155.4h0M521.9 204.5h0M533.5 183.1h0M535.6 206.0h0M534.6 240.1h0M590.9 148.6h0M523.9 238.9h0M527.4 212.0h0M554.9 233.2h0M518.6 223.2h0M527.6 209.5h0M536.0 213.6h0M520.5 195.3h0M525.3 237.9h0M534.2 204.8h0M540.3 213.8h0M522.6 228.2h0M547.5 191.7h0M522.5 185.9h0M522.8 164.0h0M518.6 240.1h0M527.3 210.2h0M522.6 237.3h0M568.3 187.9h0M522.2 179.9h0M527.1 214.8h0M530.2 218.2h0M530.7 216.3h0M545.4 215.3h0M530.1 224.7h0M521.3 207.1h0M541.2 226.8h0M518.8 232.1h0M523.8 137.2h0M520.6 225.2h0M537.6 176.0h0M521.8 213.1h0M547.7 191.1h0M522.5 151.1h0M614.1 116.8h0M517.6 212.6h0M529.3 237.3h0M535.2 215.8h0M519.2 210.5h0M551.2 197.3h0M529.1 216.2h0M521.1 186.9h0M524.3 239.7h0M566.8 185.9h0M534.5 230.9h0M529.9 194.8h0M547.0 132.9h0M525.7 203.8h0M548.8 124.4h0M519.3 203.9h0M527.9 220.3h0M536.2 231.4h0M529.0 214.2h0M521.8 222.0h0M518.8 218.6h0M536.5 221.3h0M549.7 226.6h0M539.8 185.3h0M540.0 212.5h0M521.6 225.6h0M530.0 191.8h0M533.5 151.1h0M523.4 224.1h0M537.9 222.5h0M526.6 212.7h0M531.2 220.8h0M531.5 172.4h0M519.4 217.2h0M544.0 207.4h0M543.6 148.2h0M530.0 218.1h0M536.2 159.4h0M541.3 124.3h0M537.9 206.9h0M522.6 194.8h0M532.0 221.2h0M523.1 219.5h0M547.8 218.1h0M536.7 196.9h0M526.4 234.7h0M522.8 210.8h0M533.4 232.5h0M522.8 221.7h0M523.7 192.3h0M518.5 240.2h0M522.4 223.2h0M526.0 227.6h0M545.4 175.1h0M532.4 210.6h0M518.8 201.5h0M517.9 229.6h0M530.5 194.2h0M530.6 212.7h0M525.6 197.5h0M562.8 191.0h0M532.6 223.2h0"/></g></g><line x1="517.40" y1="239.40" x2="548.00" y2="239.40" stroke="#111" stroke-width="2.2"/><line x1="495.00" y1="222.90" x2="636.60" y2="150.20" stroke="#d8202a" stroke-width="1.6"/><rect x="495.00" y="105.20" width="141.60" height="140.80" fill="none" stroke="#3a3a3a" stroke-width="1"/><line x1="490.50" y1="241.20" x2="495.00" y2="241.20" stroke="#3a3a3a" stroke-width="0.9"/><line x1="500.20" y1="246.00" x2="500.20" y2="250.30" stroke="#3a3a3a" stroke-width="0.9"/><line x1="500.20" y1="105.20" x2="500.20" y2="107.60" stroke="#3a3a3a" stroke-width="0.9"/><line x1="490.50" y1="219.60" x2="495.00" y2="219.60" stroke="#3a3a3a" stroke-width="0.9"/><line x1="521.80" y1="246.00" x2="521.80" y2="250.30" stroke="#3a3a3a" stroke-width="0.9"/><line x1="521.80" y1="105.20" x2="521.80" y2="107.60" stroke="#3a3a3a" stroke-width="0.9"/><line x1="490.50" y1="198.00" x2="495.00" y2="198.00" stroke="#3a3a3a" stroke-width="0.9"/><line x1="543.40" y1="246.00" x2="543.40" y2="250.30" stroke="#3a3a3a" stroke-width="0.9"/><line x1="543.40" y1="105.20" x2="543.40" y2="107.60" stroke="#3a3a3a" stroke-width="0.9"/><line x1="490.50" y1="176.40" x2="495.00" y2="176.40" stroke="#3a3a3a" stroke-width="0.9"/><line x1="565.00" y1="246.00" x2="565.00" y2="250.30" stroke="#3a3a3a" stroke-width="0.9"/><line x1="565.00" y1="105.20" x2="565.00" y2="107.60" stroke="#3a3a3a" stroke-width="0.9"/><line x1="490.50" y1="154.80" x2="495.00" y2="154.80" stroke="#3a3a3a" stroke-width="0.9"/><line x1="586.60" y1="246.00" x2="586.60" y2="250.30" stroke="#3a3a3a" stroke-width="0.9"/><line x1="586.60" y1="105.20" x2="586.60" y2="107.60" stroke="#3a3a3a" stroke-width="0.9"/><line x1="490.50" y1="133.20" x2="495.00" y2="133.20" stroke="#3a3a3a" stroke-width="0.9"/><line x1="608.20" y1="246.00" x2="608.20" y2="250.30" stroke="#3a3a3a" stroke-width="0.9"/><line x1="608.20" y1="105.20" x2="608.20" y2="107.60" stroke="#3a3a3a" stroke-width="0.9"/><line x1="490.50" y1="111.60" x2="495.00" y2="111.60" stroke="#3a3a3a" stroke-width="0.9"/><line x1="629.80" y1="246.00" x2="629.80" y2="250.30" stroke="#3a3a3a" stroke-width="0.9"/><line x1="629.80" y1="105.20" x2="629.80" y2="107.60" stroke="#3a3a3a" stroke-width="0.9"/><text x="483.00" y="243.00" font-size="12.2" text-anchor="middle" font-family='"Liberation Sans", sans-serif' fill="#111" transform="rotate(-90 483.00 243.00)">-2</text><text x="499.40" y="266.60" font-size="12.2" text-anchor="middle" font-family='"Liberation Sans", sans-serif' fill="#111">-2</text><text x="483.00" y="199.80" font-size="12.2" text-anchor="middle" font-family='"Liberation Sans", sans-serif' fill="#111" transform="rotate(-90 483.00 199.80)">0</text><text x="543.60" y="266.60" font-size="12.2" text-anchor="middle" font-family='"Liberation Sans", sans-serif' fill="#111">0</text><text x="483.00" y="156.60" font-size="12.2" text-anchor="middle" font-family='"Liberation Sans", sans-serif' fill="#111" transform="rotate(-90 483.00 156.60)">2</text><text x="587.20" y="266.60" font-size="12.2" text-anchor="middle" font-family='"Liberation Sans", sans-serif' fill="#111">2</text><text x="483.00" y="113.40" font-size="12.2" text-anchor="middle" font-family='"Liberation Sans", sans-serif' fill="#111" transform="rotate(-90 483.00 113.40)">4</text><text x="628.60" y="266.60" font-size="12.2" text-anchor="middle" font-family='"Liberation Sans", sans-serif' fill="#111">4</text><text x="575.30" y="229.30" font-size="11.2" fill="#111"><tspan font-family='"Liberation Serif", serif' font-style="italic">CV R</tspan><tspan font-family='"Liberation Sans", sans-serif'> = 0.53</tspan></text><text x="19.90" y="321.60" font-size="15.75" text-anchor="start" font-family='"Liberation Sans", sans-serif' fill="#111">(D) Comparision of CV-</text><text x="182.40" y="321.70" font-size="17" text-anchor="start" font-family='"Liberation Serif", serif' font-style="italic" fill="#111">R</text><text x="0" y="0" font-size="12" font-family='"Liberation Serif", serif' fill="#111" transform="translate(194.0 319.6) scale(1.22 1)">2</text><text x="205.90" y="321.60" font-size="15.75" text-anchor="start" font-family='"Liberation Sans", sans-serif' fill="#111">values</text><clipPath id="cd"><rect x="103.5" y="337.6" width="144.3" height="141.2"/></clipPath><line x1="103.50" y1="476.01" x2="247.80" y2="350.50" stroke="#333" stroke-width="0.8"/><line x1="98.50" y1="454.40" x2="103.50" y2="454.40" stroke="#3a3a3a" stroke-width="0.9"/><line x1="128.35" y1="478.80" x2="128.35" y2="484.30" stroke="#3a3a3a" stroke-width="0.9"/><text x="89.30" y="454.40" font-size="9.4" text-anchor="middle" font-family='"Liberation Sans", sans-serif' fill="#111" transform="rotate(-90 89.30 454.40)">0.25</text><text x="128.35" y="500.90" font-size="10" text-anchor="middle" font-family='"Liberation Sans", sans-serif' fill="#111">0.25</text><line x1="98.50" y1="422.00" x2="103.50" y2="422.00" stroke="#3a3a3a" stroke-width="0.9"/><line x1="165.60" y1="478.80" x2="165.60" y2="484.30" stroke="#3a3a3a" stroke-width="0.9"/><text x="89.30" y="422.00" font-size="9.4" text-anchor="middle" font-family='"Liberation Sans", sans-serif' fill="#111" transform="rotate(-90 89.30 422.00)">0.30</text><text x="165.60" y="500.90" font-size="10" text-anchor="middle" font-family='"Liberation Sans", sans-serif' fill="#111">0.30</text><line x1="98.50" y1="389.60" x2="103.50" y2="389.60" stroke="#3a3a3a" stroke-width="0.9"/><line x1="202.85" y1="478.80" x2="202.85" y2="484.30" stroke="#3a3a3a" stroke-width="0.9"/><text x="89.30" y="389.60" font-size="9.4" text-anchor="middle" font-family='"Liberation Sans", sans-serif' fill="#111" transform="rotate(-90 89.30 389.60)">0.35</text><text x="202.85" y="500.90" font-size="10" text-anchor="middle" font-family='"Liberation Sans", sans-serif' fill="#111">0.35</text><line x1="98.50" y1="357.20" x2="103.50" y2="357.20" stroke="#3a3a3a" stroke-width="0.9"/><line x1="240.10" y1="478.80" x2="240.10" y2="484.30" stroke="#3a3a3a" stroke-width="0.9"/><text x="89.30" y="357.20" font-size="9.4" text-anchor="middle" font-family='"Liberation Sans", sans-serif' fill="#111" transform="rotate(-90 89.30 357.20)">0.40</text><text x="240.10" y="500.90" font-size="10" text-anchor="middle" font-family='"Liberation Sans", sans-serif' fill="#111">0.40</text><text x="67.80" y="406.70" font-size="12" text-anchor="middle" font-family='"Liberation Sans", sans-serif' fill="#111" transform="rotate(-90 67.80 406.70)">Density-based Model</text><text x="109.40" y="520.50" font-size="12.55" text-anchor="start" font-family='"Liberation Sans", sans-serif' fill="#111">Exponential-based Model</text><g fill="none" stroke="#1a1a1a" stroke-width="0.75" stroke-opacity="0.85"><circle cx="183.2" cy="360.8" r="1.9"/><circle cx="187.2" cy="378.4" r="1.9"/><circle cx="190.2" cy="379.2" r="1.9"/><circle cx="178.4" cy="378.4" r="1.9"/><circle cx="181.5" cy="382.7" r="1.9"/><circle cx="181.0" cy="386.5" r="1.9"/><circle cx="179.9" cy="392.4" r="1.9"/><circle cx="187.6" cy="395.9" r="1.9"/><circle cx="188.0" cy="400.3" r="1.9"/><circle cx="141.6" cy="412.1" r="1.9"/><circle cx="138.3" cy="425.2" r="1.9"/><circle cx="146.0" cy="422.2" r="1.9"/><circle cx="145.5" cy="430.3" r="1.9"/><circle cx="134.6" cy="437.9" r="1.9"/><circle cx="139.9" cy="437.9" r="1.9"/><circle cx="142.7" cy="437.9" r="1.9"/><circle cx="137.7" cy="442.3" r="1.9"/><circle cx="135.0" cy="445.6" r="1.9"/><circle cx="141.2" cy="445.6" r="1.9"/><circle cx="149.3" cy="440.1" r="1.9"/><circle cx="153.0" cy="446.7" r="1.9"/><circle cx="129.6" cy="450.0" r="1.9"/><circle cx="128.5" cy="453.2" r="1.9"/><circle cx="132.8" cy="456.5" r="1.9"/><circle cx="131.8" cy="466.4" r="1.9"/><circle cx="125.8" cy="471.2" r="1.9"/><circle cx="120.1" cy="474.1" r="1.9"/><circle cx="234.0" cy="358.0" r="1.9"/><circle cx="222.6" cy="368.3" r="1.9"/><circle cx="158.0" cy="434.0" r="1.9"/><circle cx="161.3" cy="429.6" r="1.9"/><circle cx="165.7" cy="427.0" r="1.9"/><circle cx="151.5" cy="403.3" r="1.9"/><circle cx="152.6" cy="404.6" r="1.9"/><circle cx="171.0" cy="402.6" r="1.9"/><circle cx="176.0" cy="388.0" r="1.9"/><circle cx="177.4" cy="386.1" r="1.9"/><circle cx="175.6" cy="397.8" r="1.9"/><circle cx="148.8" cy="423.0" r="1.9"/><circle cx="166.3" cy="414.5" r="1.9"/><circle cx="158.6" cy="412.1" r="1.9"/><circle cx="170.1" cy="403.6" r="1.9"/><circle cx="151.8" cy="416.2" r="1.9"/><circle cx="155.9" cy="414.5" r="1.9"/><circle cx="162.3" cy="410.3" r="1.9"/><circle cx="181.4" cy="395.3" r="1.9"/><circle cx="165.3" cy="404.1" r="1.9"/><circle cx="167.7" cy="407.8" r="1.9"/><circle cx="160.8" cy="410.0" r="1.9"/><circle cx="167.0" cy="401.6" r="1.9"/><circle cx="172.2" cy="399.3" r="1.9"/><circle cx="162.2" cy="401.0" r="1.9"/><circle cx="158.5" cy="413.5" r="1.9"/><circle cx="172.0" cy="406.7" r="1.9"/><circle cx="173.7" cy="396.4" r="1.9"/><circle cx="151.9" cy="433.4" r="1.9"/><circle cx="169.3" cy="399.8" r="1.9"/><circle cx="163.3" cy="412.8" r="1.9"/><circle cx="162.8" cy="414.9" r="1.9"/><circle cx="148.3" cy="425.8" r="1.9"/><circle cx="156.4" cy="421.7" r="1.9"/><circle cx="168.9" cy="408.7" r="1.9"/><circle cx="181.0" cy="394.2" r="1.9"/><circle cx="165.6" cy="418.6" r="1.9"/><circle cx="161.0" cy="412.8" r="1.9"/><circle cx="159.9" cy="421.9" r="1.9"/><circle cx="154.2" cy="421.3" r="1.9"/><circle cx="172.2" cy="393.0" r="1.9"/><circle cx="166.2" cy="411.0" r="1.9"/><circle cx="158.2" cy="416.7" r="1.9"/><circle cx="176.8" cy="396.2" r="1.9"/><circle cx="165.4" cy="402.2" r="1.9"/><circle cx="168.7" cy="404.7" r="1.9"/><circle cx="155.2" cy="422.9" r="1.9"/><circle cx="160.3" cy="411.5" r="1.9"/><circle cx="154.8" cy="422.2" r="1.9"/><circle cx="178.2" cy="397.1" r="1.9"/><circle cx="160.9" cy="407.1" r="1.9"/><circle cx="154.0" cy="426.3" r="1.9"/><circle cx="153.8" cy="425.8" r="1.9"/><circle cx="152.1" cy="417.4" r="1.9"/><circle cx="160.4" cy="414.2" r="1.9"/><circle cx="174.6" cy="391.9" r="1.9"/><circle cx="165.3" cy="410.3" r="1.9"/><circle cx="157.8" cy="419.7" r="1.9"/><circle cx="155.8" cy="413.8" r="1.9"/><circle cx="152.5" cy="420.0" r="1.9"/><circle cx="168.7" cy="401.2" r="1.9"/><circle cx="169.6" cy="398.7" r="1.9"/><circle cx="171.7" cy="395.9" r="1.9"/><circle cx="154.3" cy="422.7" r="1.9"/><circle cx="157.4" cy="414.9" r="1.9"/><circle cx="155.5" cy="411.4" r="1.9"/><circle cx="177.8" cy="387.5" r="1.9"/><circle cx="171.2" cy="401.3" r="1.9"/><circle cx="173.5" cy="400.7" r="1.9"/><circle cx="151.1" cy="422.1" r="1.9"/><circle cx="171.7" cy="400.0" r="1.9"/><circle cx="164.1" cy="404.3" r="1.9"/><circle cx="158.8" cy="419.7" r="1.9"/><circle cx="176.9" cy="397.0" r="1.9"/><circle cx="167.0" cy="411.5" r="1.9"/><circle cx="166.5" cy="400.9" r="1.9"/><circle cx="165.0" cy="408.2" r="1.9"/><circle cx="170.3" cy="401.8" r="1.9"/><circle cx="173.4" cy="399.3" r="1.9"/><circle cx="157.5" cy="413.2" r="1.9"/><circle cx="163.1" cy="405.6" r="1.9"/><circle cx="158.9" cy="411.7" r="1.9"/><circle cx="171.2" cy="409.8" r="1.9"/><circle cx="153.5" cy="420.2" r="1.9"/><circle cx="169.7" cy="400.3" r="1.9"/><circle cx="157.8" cy="420.3" r="1.9"/><circle cx="154.8" cy="412.0" r="1.9"/><circle cx="168.9" cy="409.1" r="1.9"/><circle cx="172.3" cy="394.8" r="1.9"/><circle cx="160.9" cy="411.6" r="1.9"/><circle cx="168.2" cy="404.9" r="1.9"/><circle cx="146.7" cy="427.3" r="1.9"/><circle cx="171.7" cy="399.4" r="1.9"/><circle cx="170.9" cy="395.6" r="1.9"/><circle cx="152.5" cy="422.9" r="1.9"/><circle cx="148.8" cy="434.2" r="1.9"/><circle cx="162.1" cy="404.5" r="1.9"/><circle cx="180.5" cy="394.9" r="1.9"/><circle cx="158.4" cy="421.9" r="1.9"/><circle cx="160.0" cy="419.4" r="1.9"/><circle cx="174.2" cy="408.2" r="1.9"/><circle cx="161.9" cy="419.3" r="1.9"/></g><g fill="#e01010"><circle cx="108.8" cy="465.9" r="2.0"/><circle cx="114.9" cy="450.6" r="2.0"/><circle cx="116.4" cy="455.9" r="2.0"/><circle cx="120.8" cy="458.7" r="2.0"/><circle cx="123.6" cy="451.1" r="2.0"/><circle cx="127.4" cy="462.0" r="2.0"/><circle cx="132.4" cy="462.0" r="2.0"/><circle cx="135.5" cy="448.9" r="2.0"/><circle cx="139.0" cy="429.2" r="2.0"/><circle cx="146.4" cy="434.6" r="2.0"/><circle cx="153.0" cy="409.0" r="2.0"/><circle cx="150.8" cy="424.8" r="2.0"/><circle cx="155.8" cy="427.0" r="2.0"/><circle cx="157.4" cy="410.5" r="2.0"/><circle cx="158.7" cy="413.8" r="2.0"/><circle cx="160.2" cy="412.7" r="2.0"/><circle cx="162.4" cy="410.5" r="2.0"/><circle cx="163.9" cy="395.2" r="2.0"/><circle cx="165.3" cy="410.5" r="2.0"/><circle cx="165.7" cy="405.1" r="2.0"/><circle cx="167.9" cy="408.4" r="2.0"/><circle cx="169.6" cy="420.4" r="2.0"/><circle cx="171.2" cy="400.7" r="2.0"/><circle cx="172.3" cy="401.8" r="2.0"/><circle cx="173.4" cy="378.8" r="2.0"/><circle cx="176.6" cy="379.9" r="2.0"/><circle cx="178.8" cy="429.6" r="2.0"/><circle cx="199.0" cy="368.3" r="2.0"/><circle cx="202.5" cy="378.4" r="2.0"/><circle cx="206.9" cy="379.9" r="2.0"/><circle cx="208.4" cy="378.8" r="2.0"/><circle cx="208.4" cy="401.8" r="2.0"/><circle cx="210.6" cy="374.9" r="2.0"/><circle cx="211.7" cy="366.1" r="2.0"/><circle cx="212.8" cy="353.6" r="2.0"/><circle cx="213.9" cy="353.0" r="2.0"/><circle cx="216.1" cy="351.4" r="2.0"/><circle cx="218.2" cy="350.8" r="2.0"/><circle cx="218.2" cy="359.1" r="2.0"/><circle cx="219.3" cy="355.8" r="2.0"/><circle cx="215.6" cy="372.2" r="2.0"/><circle cx="215.0" cy="364.6" r="2.0"/><circle cx="217.2" cy="363.9" r="2.0"/><circle cx="220.0" cy="365.7" r="2.0"/><circle cx="221.5" cy="384.9" r="2.0"/><circle cx="223.7" cy="370.0" r="2.0"/><circle cx="226.6" cy="351.4" r="2.0"/><circle cx="228.1" cy="350.3" r="2.0"/><circle cx="229.2" cy="341.6" r="2.0"/><circle cx="229.6" cy="344.9" r="2.0"/><circle cx="228.1" cy="358.0" r="2.0"/><circle cx="227.4" cy="364.6" r="2.0"/><circle cx="231.4" cy="361.3" r="2.0"/><circle cx="238.0" cy="361.3" r="2.0"/><circle cx="242.8" cy="362.4" r="2.0"/><circle cx="229.2" cy="350.8" r="2.0"/><circle cx="154.7" cy="422.6" r="2.0"/><circle cx="157.4" cy="420.0" r="2.0"/><circle cx="153.6" cy="421.5" r="2.0"/><circle cx="161.3" cy="407.3" r="2.0"/><circle cx="156.5" cy="424.8" r="2.0"/></g><rect x="103.50" y="337.60" width="144.30" height="141.20" fill="none" stroke="#555" stroke-width="0.9"/><text x="338.80" y="324.10" font-size="18.45" text-anchor="start" font-family='"Liberation Sans", sans-serif' fill="#111">(E) TF-binding density in two gene classes</text><text x="322.00" y="515.50" font-size="15.7" text-anchor="middle" font-family='"Liberation Sans", sans-serif' fill="#111" transform="rotate(-90 322.00 515.50)">Density</text><text x="530.40" y="707.60" font-size="16.8" text-anchor="middle" font-family='"Liberation Sans", sans-serif' fill="#111">Distance from TSS</text><text x="366.40" y="363.40" font-size="16.2" text-anchor="start" font-family='"Liberation Sans", sans-serif' fill="#111">Nanog</text><line x1="362.50" y1="372.20" x2="362.50" y2="484.30" stroke="#555" stroke-width="0.9"/><line x1="358.50" y1="372.20" x2="362.50" y2="372.20" stroke="#555" stroke-width="0.9"/><line x1="358.50" y1="394.62" x2="362.50" y2="394.62" stroke="#555" stroke-width="0.9"/><line x1="358.50" y1="417.04" x2="362.50" y2="417.04" stroke="#555" stroke-width="0.9"/><line x1="358.50" y1="439.46" x2="362.50" y2="439.46" stroke="#555" stroke-width="0.9"/><line x1="358.50" y1="461.88" x2="362.50" y2="461.88" stroke="#555" stroke-width="0.9"/><line x1="358.50" y1="484.30" x2="362.50" y2="484.30" stroke="#555" stroke-width="0.9"/><text x="354.40" y="376.80" font-size="10.4" text-anchor="middle" font-family='"Liberation Sans", sans-serif' fill="#111" transform="rotate(-90 354.40 376.80)">1.0</text><text x="354.40" y="462.00" font-size="10.4" text-anchor="middle" font-family='"Liberation Sans", sans-serif' fill="#111" transform="rotate(-90 354.40 462.00)">0.2</text><line x1="385.20" y1="489.60" x2="478.80" y2="489.60" stroke="#555" stroke-width="0.9"/><line x1="385.20" y1="489.60" x2="385.20" y2="493.10" stroke="#555" stroke-width="0.9"/><line x1="408.60" y1="489.60" x2="408.60" y2="493.10" stroke="#555" stroke-width="0.9"/><line x1="432.00" y1="489.60" x2="432.00" y2="493.10" stroke="#555" stroke-width="0.9"/><line x1="455.40" y1="489.60" x2="455.40" y2="493.10" stroke="#555" stroke-width="0.9"/><line x1="478.80" y1="489.60" x2="478.80" y2="493.10" stroke="#555" stroke-width="0.9"/><text x="382.70" y="505.20" font-size="10.8" text-anchor="middle" font-family='"Liberation Sans", sans-serif' fill="#111">-40K</text><text x="431.50" y="505.20" font-size="10.8" text-anchor="middle" font-family='"Liberation Sans", sans-serif' fill="#111">0</text><text x="478.20" y="505.20" font-size="10.8" text-anchor="middle" font-family='"Liberation Sans", sans-serif' fill="#111">40K</text><path d="M372.7 482.5 C373.5 482.5 375.6 482.3 377.4 482.5 C379.1 482.7 381.7 484.0 383.2 483.7 C384.8 483.3 384.6 482.5 386.7 480.2 C388.9 477.8 393.3 472.0 396.1 469.6 C398.8 467.3 400.7 468.3 403.1 466.1 C405.4 464.0 407.7 462.2 410.1 456.8 C412.4 451.3 414.7 444.3 417.1 433.4 C419.4 422.5 421.8 401.6 424.1 391.4 C426.4 381.2 428.7 373.8 430.6 372.2 C432.6 370.7 433.7 374.6 435.8 382.0 C437.8 389.5 440.4 405.4 442.8 417.1 C445.1 428.8 447.8 443.2 449.8 452.1 C451.7 461.1 452.9 467.3 454.5 470.8 C456.0 474.3 457.6 472.8 459.1 473.1 C460.7 473.5 461.9 472.6 463.8 473.1 C465.7 473.7 469.1 475.9 470.8 476.7 C472.6 477.4 472.8 478.5 474.3 477.8 C475.9 477.2 478.6 473.3 480.2 472.7 C481.7 472.1 481.9 472.9 483.7 474.3 C485.4 475.8 489.5 480.2 490.7 481.3" fill="none" stroke="#d8202a" stroke-width="1.1"/><path d="M372.7 424.1 C373.7 424.9 376.8 429.0 378.5 428.8 C380.3 428.6 381.5 424.9 383.2 422.9 C385.0 421.0 387.1 417.5 389.1 417.1 C391.0 416.7 392.8 417.9 394.9 420.6 C397.0 423.3 399.8 429.3 401.9 433.4 C404.0 437.5 405.6 439.7 407.7 445.1 C409.9 450.6 412.6 461.1 414.7 466.1 C416.9 471.2 418.6 474.3 420.6 475.5 C422.5 476.7 424.7 474.1 426.4 473.1 C428.2 472.2 429.7 469.6 431.1 469.6 C432.5 469.6 433.4 471.4 434.6 473.1 C435.8 474.9 436.9 478.4 438.1 480.2 C439.3 481.9 440.4 483.9 441.6 483.7 C442.8 483.5 443.8 482.7 445.1 479.0 C446.5 475.3 448.2 467.1 449.8 461.5 C451.3 455.8 452.9 450.0 454.5 445.1 C456.0 440.2 457.2 435.4 459.1 432.3 C461.1 429.2 464.4 429.3 466.1 426.4 C467.9 423.5 468.5 419.8 469.6 414.7 C470.8 409.7 471.8 402.3 473.1 396.1 C474.5 389.8 476.5 381.3 477.8 377.4 C479.2 373.4 480.2 372.2 481.3 372.2 C482.5 372.2 483.7 375.0 484.8 377.4 C486.0 379.8 487.4 384.2 488.3 386.7 C489.3 389.2 490.3 391.6 490.7 392.6" fill="none" stroke="#d8202a" stroke-width="2.3" stroke-dasharray="7 3"/><text x="474.50" y="469.60" font-size="10.8" text-anchor="start" font-family='"Liberation Sans", sans-serif' fill="#111">C1</text><text x="479.20" y="406.60" font-size="10.8" text-anchor="start" font-family='"Liberation Sans", sans-serif' fill="#111">C2</text><text x="543.60" y="361.40" font-size="16.2" text-anchor="start" font-family='"Liberation Sans", sans-serif' fill="#111">Oct4</text><line x1="541.40" y1="372.30" x2="541.40" y2="484.10" stroke="#555" stroke-width="0.9"/><line x1="537.40" y1="372.30" x2="541.40" y2="372.30" stroke="#555" stroke-width="0.9"/><line x1="537.40" y1="394.66" x2="541.40" y2="394.66" stroke="#555" stroke-width="0.9"/><line x1="537.40" y1="417.02" x2="541.40" y2="417.02" stroke="#555" stroke-width="0.9"/><line x1="537.40" y1="439.38" x2="541.40" y2="439.38" stroke="#555" stroke-width="0.9"/><line x1="537.40" y1="461.74" x2="541.40" y2="461.74" stroke="#555" stroke-width="0.9"/><line x1="537.40" y1="484.10" x2="541.40" y2="484.10" stroke="#555" stroke-width="0.9"/><text x="531.30" y="374.20" font-size="10.4" text-anchor="middle" font-family='"Liberation Sans", sans-serif' fill="#111" transform="rotate(-90 531.30 374.20)">1.0</text><text x="531.30" y="464.10" font-size="10.4" text-anchor="middle" font-family='"Liberation Sans", sans-serif' fill="#111" transform="rotate(-90 531.30 464.10)">0.2</text><line x1="563.20" y1="488.90" x2="656.20" y2="488.90" stroke="#555" stroke-width="0.9"/><line x1="563.20" y1="488.90" x2="563.20" y2="492.40" stroke="#555" stroke-width="0.9"/><line x1="586.40" y1="488.90" x2="586.40" y2="492.40" stroke="#555" stroke-width="0.9"/><line x1="609.50" y1="488.90" x2="609.50" y2="492.40" stroke="#555" stroke-width="0.9"/><line x1="632.60" y1="488.90" x2="632.60" y2="492.40" stroke="#555" stroke-width="0.9"/><line x1="656.20" y1="488.90" x2="656.20" y2="492.40" stroke="#555" stroke-width="0.9"/><text x="560.70" y="505.80" font-size="10.8" text-anchor="middle" font-family='"Liberation Sans", sans-serif' fill="#111">-40K</text><text x="609.00" y="505.80" font-size="10.8" text-anchor="middle" font-family='"Liberation Sans", sans-serif' fill="#111">0</text><text x="655.60" y="505.80" font-size="10.8" text-anchor="middle" font-family='"Liberation Sans", sans-serif' fill="#111">40K</text><path d="M551.7 470.3 C552.9 469.9 556.3 469.3 558.4 467.8 C560.6 466.4 562.4 464.0 564.6 461.6 C566.9 459.3 570.0 454.8 572.1 453.7 C574.2 452.5 575.4 454.1 577.1 454.7 C578.7 455.2 580.6 456.8 582.0 457.2 C583.5 457.5 584.1 458.0 585.7 456.7 C587.4 455.3 590.1 452.5 591.9 449.2 C593.8 445.9 595.3 444.7 596.9 436.8 C598.6 428.9 600.4 411.6 601.9 402.1 C603.3 392.5 604.6 384.7 605.6 379.7 C606.6 374.7 607.2 372.9 608.1 372.3 C608.9 371.6 609.5 371.0 610.6 376.0 C611.6 381.0 612.8 392.3 614.3 402.1 C615.7 411.8 617.6 425.2 619.2 434.3 C620.9 443.4 622.6 450.0 624.2 456.7 C625.9 463.3 627.5 469.9 629.2 474.0 C630.8 478.2 632.1 480.1 634.1 481.5 C636.2 482.8 639.1 482.8 641.6 482.2 C644.1 481.6 646.5 478.9 649.0 477.8 C651.5 476.6 654.4 475.3 656.5 475.3 C658.5 475.3 659.6 476.3 661.4 477.8 C663.3 479.2 666.6 482.9 667.6 484.0" fill="none" stroke="#d8202a" stroke-width="1.1"/><path d="M551.7 410.7 C552.2 412.4 553.8 418.4 554.7 420.7 C555.6 422.9 556.2 425.4 557.2 424.4 C558.2 423.4 559.7 419.0 560.9 414.5 C562.2 409.9 563.4 401.2 564.6 397.1 C565.9 392.9 567.3 390.5 568.4 389.6 C569.4 388.8 569.8 388.0 570.8 392.1 C571.9 396.3 573.1 405.8 574.6 414.5 C576.0 423.1 578.1 437.6 579.5 444.2 C581.0 450.9 581.8 451.7 583.3 454.2 C584.7 456.7 586.4 456.2 588.2 459.1 C590.1 462.0 592.6 467.4 594.4 471.5 C596.3 475.7 598.1 482.3 599.4 484.0 C600.6 485.6 600.8 486.9 601.9 481.5 C602.9 476.1 604.4 461.6 605.6 451.7 C606.8 441.8 608.3 427.1 609.3 421.9 C610.4 416.7 611.0 419.4 611.8 420.7 C612.6 421.9 613.2 424.2 614.3 429.4 C615.3 434.5 616.8 445.1 618.0 451.7 C619.2 458.3 620.5 466.6 621.7 469.1 C623.0 471.5 624.2 469.9 625.4 466.6 C626.7 463.3 628.1 454.2 629.2 449.2 C630.2 444.2 630.6 440.1 631.7 436.8 C632.7 433.5 634.1 430.4 635.4 429.4 C636.6 428.3 637.7 430.0 639.1 430.6 C640.5 431.2 642.4 433.3 644.1 433.1 C645.7 432.9 647.4 432.5 649.0 429.4 C650.7 426.2 652.5 421.1 654.0 414.5 C655.4 407.8 656.5 396.1 657.7 389.6 C659.0 383.2 660.4 378.9 661.4 376.0 C662.5 373.1 663.1 372.1 663.9 372.3 C664.7 372.5 665.7 374.7 666.4 377.2 C667.1 379.7 668.1 385.5 668.4 387.2" fill="none" stroke="#d8202a" stroke-width="2.3" stroke-dasharray="7 3"/><text x="652.20" y="471.50" font-size="10.8" text-anchor="start" font-family='"Liberation Sans", sans-serif' fill="#111">C1</text><text x="639.80" y="400.80" font-size="10.8" text-anchor="start" font-family='"Liberation Sans", sans-serif' fill="#111">C2</text><text x="367.30" y="532.80" font-size="16.2" text-anchor="start" font-family='"Liberation Sans", sans-serif' fill="#111">Sox2</text><line x1="361.80" y1="542.50" x2="361.80" y2="654.50" stroke="#555" stroke-width="0.9"/><line x1="357.80" y1="542.50" x2="361.80" y2="542.50" stroke="#555" stroke-width="0.9"/><line x1="357.80" y1="564.90" x2="361.80" y2="564.90" stroke="#555" stroke-width="0.9"/><line x1="357.80" y1="587.30" x2="361.80" y2="587.30" stroke="#555" stroke-width="0.9"/><line x1="357.80" y1="609.70" x2="361.80" y2="609.70" stroke="#555" stroke-width="0.9"/><line x1="357.80" y1="632.10" x2="361.80" y2="632.10" stroke="#555" stroke-width="0.9"/><line x1="357.80" y1="654.50" x2="361.80" y2="654.50" stroke="#555" stroke-width="0.9"/><text x="353.20" y="545.10" font-size="10.4" text-anchor="middle" font-family='"Liberation Sans", sans-serif' fill="#111" transform="rotate(-90 353.20 545.10)">1.0</text><text x="353.20" y="634.10" font-size="10.4" text-anchor="middle" font-family='"Liberation Sans", sans-serif' fill="#111" transform="rotate(-90 353.20 634.10)">0.2</text><line x1="384.40" y1="659.00" x2="477.40" y2="659.00" stroke="#555" stroke-width="0.9"/><line x1="384.40" y1="659.00" x2="384.40" y2="662.50" stroke="#555" stroke-width="0.9"/><line x1="407.60" y1="659.00" x2="407.60" y2="662.50" stroke="#555" stroke-width="0.9"/><line x1="430.80" y1="659.00" x2="430.80" y2="662.50" stroke="#555" stroke-width="0.9"/><line x1="454.10" y1="659.00" x2="454.10" y2="662.50" stroke="#555" stroke-width="0.9"/><line x1="477.40" y1="659.00" x2="477.40" y2="662.50" stroke="#555" stroke-width="0.9"/><text x="381.90" y="675.80" font-size="10.8" text-anchor="middle" font-family='"Liberation Sans", sans-serif' fill="#111">-40K</text><text x="430.30" y="675.80" font-size="10.8" text-anchor="middle" font-family='"Liberation Sans", sans-serif' fill="#111">0</text><text x="476.80" y="675.80" font-size="10.8" text-anchor="middle" font-family='"Liberation Sans", sans-serif' fill="#111">40K</text><path d="M371.8 639.1 C372.5 639.1 374.7 639.1 376.0 639.6 C377.3 640.0 378.3 640.0 379.7 641.5 C381.2 643.1 383.0 646.9 384.7 649.0 C386.3 651.1 388.2 654.0 389.6 654.0 C391.1 654.0 392.1 653.1 393.4 649.0 C394.6 644.9 395.6 636.6 397.1 629.1 C398.5 621.7 400.4 611.8 402.1 604.3 C403.7 596.9 405.4 589.8 407.0 584.5 C408.7 579.1 410.3 576.2 412.0 572.1 C413.6 567.9 415.3 563.8 416.9 559.6 C418.6 555.5 420.6 550.1 421.9 547.2 C423.2 544.3 423.9 542.7 424.9 542.3 C425.9 541.9 427.0 541.9 428.1 544.7 C429.3 547.6 430.6 555.1 431.8 559.6 C433.1 564.2 433.9 567.9 435.6 572.1 C437.2 576.2 440.1 580.7 441.8 584.5 C443.4 588.2 444.2 590.3 445.5 594.4 C446.7 598.5 447.8 603.9 449.2 609.3 C450.7 614.7 452.5 621.7 454.2 626.7 C455.8 631.6 457.7 636.2 459.1 639.1 C460.6 642.0 461.6 643.2 462.9 644.0 C464.1 644.9 465.1 644.9 466.6 644.0 C468.0 643.2 469.9 642.8 471.5 639.1 C473.2 635.3 475.1 626.2 476.5 621.7 C478.0 617.1 479.2 613.8 480.2 611.8 C481.3 609.7 481.7 608.9 482.7 609.3 C483.7 609.7 485.4 612.6 486.4 614.2 C487.5 615.9 488.5 618.4 488.9 619.2" fill="none" stroke="#d8202a" stroke-width="1.1"/><path d="M371.8 568.3 C372.5 568.9 374.7 571.3 376.0 571.6 C377.3 571.8 378.3 570.0 379.7 569.6 C381.2 569.2 383.2 568.2 384.7 569.1 C386.1 569.9 387.2 572.0 388.4 574.5 C389.6 577.1 390.9 580.3 392.1 584.5 C393.4 588.6 394.6 595.6 395.8 599.4 C397.1 603.1 398.3 605.4 399.6 606.8 C400.8 608.2 402.1 607.6 403.3 608.0 C404.5 608.5 405.8 608.2 407.0 609.3 C408.3 610.3 409.5 611.3 410.7 614.2 C412.0 617.1 413.0 621.7 414.5 626.7 C415.9 631.6 417.8 639.4 419.4 644.0 C421.1 648.7 422.9 653.5 424.4 654.7 C425.8 655.9 426.9 653.7 428.1 651.5 C429.4 649.3 430.4 645.7 431.8 641.5 C433.3 637.4 435.1 630.8 436.8 626.7 C438.5 622.5 440.3 619.6 441.8 616.7 C443.2 613.8 444.2 612.6 445.5 609.3 C446.7 606.0 448.0 603.1 449.2 596.9 C450.4 590.7 451.7 579.1 452.9 572.1 C454.2 565.0 455.4 558.6 456.7 554.7 C457.9 550.7 459.1 549.1 460.4 548.5 C461.6 547.9 462.7 549.3 464.1 551.0 C465.5 552.6 467.6 556.5 469.1 558.4 C470.5 560.3 471.5 562.3 472.8 562.1 C474.0 561.9 475.3 559.4 476.5 557.2 C477.8 554.9 479.0 550.7 480.2 548.5 C481.5 546.2 482.5 544.1 484.0 543.5 C485.4 542.9 488.1 544.5 488.9 544.7" fill="none" stroke="#d8202a" stroke-width="2.3" stroke-dasharray="7 3"/><text x="475.50" y="635.30" font-size="10.8" text-anchor="start" font-family='"Liberation Sans", sans-serif' fill="#111">C1</text><text x="474.80" y="574.50" font-size="10.8" text-anchor="start" font-family='"Liberation Sans", sans-serif' fill="#111">C2</text><text x="542.40" y="532.80" font-size="16.2" text-anchor="start" font-family='"Liberation Sans", sans-serif' fill="#111">Smad1</text><line x1="539.90" y1="542.80" x2="539.90" y2="654.50" stroke="#555" stroke-width="0.9"/><line x1="535.90" y1="542.80" x2="539.90" y2="542.80" stroke="#555" stroke-width="0.9"/><line x1="535.90" y1="565.14" x2="539.90" y2="565.14" stroke="#555" stroke-width="0.9"/><line x1="535.90" y1="587.48" x2="539.90" y2="587.48" stroke="#555" stroke-width="0.9"/><line x1="535.90" y1="609.82" x2="539.90" y2="609.82" stroke="#555" stroke-width="0.9"/><line x1="535.90" y1="632.16" x2="539.90" y2="632.16" stroke="#555" stroke-width="0.9"/><line x1="535.90" y1="654.50" x2="539.90" y2="654.50" stroke="#555" stroke-width="0.9"/><text x="529.40" y="545.50" font-size="10.4" text-anchor="middle" font-family='"Liberation Sans", sans-serif' fill="#111" transform="rotate(-90 529.40 545.50)">1.0</text><text x="529.40" y="634.10" font-size="10.4" text-anchor="middle" font-family='"Liberation Sans", sans-serif' fill="#111" transform="rotate(-90 529.40 634.10)">0.2</text><line x1="562.40" y1="659.00" x2="656.00" y2="659.00" stroke="#555" stroke-width="0.9"/><line x1="562.40" y1="659.00" x2="562.40" y2="662.50" stroke="#555" stroke-width="0.9"/><line x1="585.80" y1="659.00" x2="585.80" y2="662.50" stroke="#555" stroke-width="0.9"/><line x1="609.30" y1="659.00" x2="609.30" y2="662.50" stroke="#555" stroke-width="0.9"/><line x1="632.60" y1="659.00" x2="632.60" y2="662.50" stroke="#555" stroke-width="0.9"/><line x1="656.00" y1="659.00" x2="656.00" y2="662.50" stroke="#555" stroke-width="0.9"/><text x="559.90" y="675.80" font-size="10.8" text-anchor="middle" font-family='"Liberation Sans", sans-serif' fill="#111">-40K</text><text x="608.80" y="675.80" font-size="10.8" text-anchor="middle" font-family='"Liberation Sans", sans-serif' fill="#111">0</text><text x="655.40" y="675.80" font-size="10.8" text-anchor="middle" font-family='"Liberation Sans", sans-serif' fill="#111">40K</text><path d="M550.5 646.5 C551.0 647.3 552.4 650.2 553.5 651.5 C554.6 652.7 556.0 653.7 557.2 654.0 C558.4 654.2 559.7 654.2 560.9 652.7 C562.2 651.3 563.4 648.0 564.6 645.3 C565.9 642.6 567.1 639.3 568.4 636.6 C569.6 633.9 570.6 631.2 572.1 629.1 C573.5 627.1 575.6 626.7 577.1 624.2 C578.5 621.7 579.5 619.2 580.8 614.2 C582.0 609.3 583.3 600.0 584.5 594.4 C585.7 588.8 586.8 584.7 588.2 580.7 C589.7 576.8 591.7 573.5 593.2 570.8 C594.6 568.1 595.7 567.7 596.9 564.6 C598.1 561.5 599.6 555.7 600.6 552.2 C601.7 548.7 602.2 544.7 603.1 543.5 C604.1 542.3 605.3 542.1 606.3 544.7 C607.4 547.4 608.2 553.0 609.3 559.6 C610.4 566.3 611.8 576.6 613.0 584.5 C614.3 592.3 615.5 601.4 616.8 606.8 C618.0 612.2 619.2 614.7 620.5 616.7 C621.7 618.8 622.8 619.0 624.2 619.2 C625.7 619.4 627.5 619.2 629.2 618.0 C630.8 616.7 632.5 614.5 634.1 611.8 C635.8 609.1 637.7 603.1 639.1 601.8 C640.5 600.6 641.6 602.2 642.8 604.3 C644.1 606.4 645.3 612.0 646.5 614.2 C647.8 616.5 649.0 618.0 650.3 618.0 C651.5 618.0 652.8 615.5 654.0 614.2 C655.2 613.0 656.7 610.5 657.7 610.5 C658.7 610.5 659.2 611.6 660.2 614.2 C661.2 616.9 662.7 622.5 663.9 626.7 C665.2 630.8 667.0 637.0 667.6 639.1" fill="none" stroke="#d8202a" stroke-width="1.1"/><path d="M550.5 580.7 C551.0 578.9 552.4 573.7 553.5 569.6 C554.6 565.4 556.0 559.2 557.2 555.9 C558.4 552.6 559.7 549.9 560.9 549.7 C562.2 549.5 563.4 551.0 564.6 554.7 C565.9 558.4 567.1 565.4 568.4 572.1 C569.6 578.7 570.8 586.5 572.1 594.4 C573.3 602.2 574.6 612.2 575.8 619.2 C577.1 626.2 578.1 631.6 579.5 636.6 C581.0 641.5 582.8 646.2 584.5 649.0 C586.2 651.8 587.4 652.5 589.5 653.5 C591.5 654.4 594.0 654.5 596.9 654.7 C599.8 654.9 604.1 655.0 606.8 654.7 C609.5 654.4 611.4 653.9 613.0 652.7 C614.7 651.6 615.5 650.4 616.8 647.8 C618.0 645.1 619.2 640.5 620.5 636.6 C621.7 632.7 623.0 627.1 624.2 624.2 C625.4 621.3 626.3 620.0 627.9 619.2 C629.6 618.4 632.3 619.8 634.1 619.2 C636.0 618.6 637.7 617.6 639.1 615.5 C640.5 613.4 641.6 611.1 642.8 606.8 C644.1 602.5 645.3 596.0 646.5 589.4 C647.8 582.8 649.0 573.3 650.3 567.1 C651.5 560.9 652.8 556.1 654.0 552.2 C655.2 548.3 656.5 544.5 657.7 543.5 C659.0 542.5 660.2 543.3 661.4 546.0 C662.7 548.7 664.1 554.7 665.2 559.6 C666.2 564.6 667.2 573.1 667.6 575.8" fill="none" stroke="#d8202a" stroke-width="2.3" stroke-dasharray="7 3"/><text x="546.30" y="635.30" font-size="10.8" text-anchor="start" font-family='"Liberation Sans", sans-serif' fill="#111">C1</text><text x="548.80" y="591.90" font-size="10.8" text-anchor="start" font-family='"Liberation Sans", sans-serif' fill="#111">C2</text><text x="12.10" y="562.80" font-size="15.8" text-anchor="start" font-family='"Liberation Sans", sans-serif' fill="#111">(F) Regression Coefficients</text><rect x="55.00" y="580.50" width="268.60" height="138.20" fill="none" stroke="#333" stroke-width="1"/><line x1="50.00" y1="694.50" x2="55.00" y2="694.50" stroke="#333" stroke-width="0.9"/><line x1="50.00" y1="668.35" x2="55.00" y2="668.35" stroke="#333" stroke-width="0.9"/><line x1="50.00" y1="642.20" x2="55.00" y2="642.20" stroke="#333" stroke-width="0.9"/><line x1="50.00" y1="616.05" x2="55.00" y2="616.05" stroke="#333" stroke-width="0.9"/><line x1="50.00" y1="589.90" x2="55.00" y2="589.90" stroke="#333" stroke-width="0.9"/><line x1="50.00" y1="694.50" x2="323.60" y2="694.50" stroke="#333" stroke-width="0.9"/><text x="44.60" y="587.80" font-size="13.5" text-anchor="middle" font-family='"Liberation Sans", sans-serif' fill="#111" transform="rotate(-90 44.60 587.80)">0.2</text><text x="44.60" y="641.50" font-size="13.5" text-anchor="middle" font-family='"Liberation Sans", sans-serif' fill="#111" transform="rotate(-90 44.60 641.50)">0.1</text><text x="44.60" y="694.50" font-size="13.5" text-anchor="middle" font-family='"Liberation Sans", sans-serif' fill="#111" transform="rotate(-90 44.60 694.50)">0</text><line x1="73.10" y1="718.70" x2="73.10" y2="724.00" stroke="#333" stroke-width="0.9"/><text x="77.10" y="729.80" font-size="11.5" text-anchor="end" font-family='"Liberation Sans", sans-serif' fill="#111" transform="rotate(-90 77.10 729.80)">Zfx</text><line x1="90.90" y1="718.70" x2="90.90" y2="724.00" stroke="#333" stroke-width="0.9"/><text x="94.90" y="729.80" font-size="11.5" text-anchor="end" font-family='"Liberation Sans", sans-serif' fill="#111" transform="rotate(-90 94.90 729.80)">Methy</text><line x1="108.70" y1="718.70" x2="108.70" y2="724.00" stroke="#333" stroke-width="0.9"/><text x="112.70" y="729.80" font-size="11.5" text-anchor="end" font-family='"Liberation Sans", sans-serif' fill="#111" transform="rotate(-90 112.70 729.80)">HistM</text><line x1="126.50" y1="718.70" x2="126.50" y2="724.00" stroke="#333" stroke-width="0.9"/><text x="130.50" y="729.80" font-size="11.5" text-anchor="end" font-family='"Liberation Sans", sans-serif' fill="#111" transform="rotate(-90 130.50 729.80)">n-Myc</text><line x1="144.30" y1="718.70" x2="144.30" y2="724.00" stroke="#333" stroke-width="0.9"/><text x="148.30" y="729.80" font-size="11.5" text-anchor="end" font-family='"Liberation Sans", sans-serif' fill="#111" transform="rotate(-90 148.30 729.80)">Klf4</text><line x1="162.10" y1="718.70" x2="162.10" y2="724.00" stroke="#333" stroke-width="0.9"/><text x="166.10" y="729.80" font-size="11.5" text-anchor="end" font-family='"Liberation Sans", sans-serif' fill="#111" transform="rotate(-90 166.10 729.80)">Tcfcp2l1</text><line x1="179.90" y1="718.70" x2="179.90" y2="724.00" stroke="#333" stroke-width="0.9"/><text x="183.90" y="729.80" font-size="11.5" text-anchor="end" font-family='"Liberation Sans", sans-serif' fill="#111" transform="rotate(-90 183.90 729.80)">Smad1</text><line x1="197.70" y1="718.70" x2="197.70" y2="724.00" stroke="#333" stroke-width="0.9"/><text x="201.70" y="729.80" font-size="11.5" text-anchor="end" font-family='"Liberation Sans", sans-serif' fill="#111" transform="rotate(-90 201.70 729.80)">Esrrb</text><line x1="215.50" y1="718.70" x2="215.50" y2="724.00" stroke="#333" stroke-width="0.9"/><text x="219.50" y="729.80" font-size="11.5" text-anchor="end" font-family='"Liberation Sans", sans-serif' fill="#111" transform="rotate(-90 219.50 729.80)">Nanog</text><line x1="233.30" y1="718.70" x2="233.30" y2="724.00" stroke="#333" stroke-width="0.9"/><text x="237.30" y="729.80" font-size="11.5" text-anchor="end" font-family='"Liberation Sans", sans-serif' fill="#111" transform="rotate(-90 237.30 729.80)">Sox2</text><line x1="251.10" y1="718.70" x2="251.10" y2="724.00" stroke="#333" stroke-width="0.9"/><text x="255.10" y="729.80" font-size="11.5" text-anchor="end" font-family='"Liberation Sans", sans-serif' fill="#111" transform="rotate(-90 255.10 729.80)">Stat3</text><line x1="268.90" y1="718.70" x2="268.90" y2="724.00" stroke="#333" stroke-width="0.9"/><text x="272.90" y="729.80" font-size="11.5" text-anchor="end" font-family='"Liberation Sans", sans-serif' fill="#111" transform="rotate(-90 272.90 729.80)">Oct4</text><line x1="286.70" y1="718.70" x2="286.70" y2="724.00" stroke="#333" stroke-width="0.9"/><text x="290.70" y="729.80" font-size="11.5" text-anchor="end" font-family='"Liberation Sans", sans-serif' fill="#111" transform="rotate(-90 290.70 729.80)">CpGI</text><line x1="304.50" y1="718.70" x2="304.50" y2="724.00" stroke="#333" stroke-width="0.9"/><text x="308.50" y="729.80" font-size="11.5" text-anchor="end" font-family='"Liberation Sans", sans-serif' fill="#111" transform="rotate(-90 308.50 729.80)">c-Myc</text><line x1="72.90" y1="585.70" x2="72.90" y2="587.50" stroke="#222" stroke-width="0.9"/><line x1="69.70" y1="585.70" x2="76.10" y2="585.70" stroke="#222" stroke-width="0.9"/><rect x="65.50" y="587.50" width="14.80" height="18.00" fill="#fff" stroke="#222" stroke-width="1"/><line x1="65.50" y1="589.00" x2="80.30" y2="589.00" stroke="#111" stroke-width="1.6"/><line x1="90.65" y1="607.40" x2="90.65" y2="607.90" stroke="#222" stroke-width="0.9"/><line x1="87.45" y1="607.90" x2="93.85" y2="607.90" stroke="#222" stroke-width="0.9"/><rect x="83.50" y="602.20" width="14.30" height="5.20" fill="#fff" stroke="#222" stroke-width="1"/><line x1="83.50" y1="603.90" x2="97.80" y2="603.90" stroke="#111" stroke-width="1.6"/><line x1="108.55" y1="629.60" x2="108.55" y2="633.10" stroke="#222" stroke-width="0.9"/><line x1="105.35" y1="633.10" x2="111.75" y2="633.10" stroke="#222" stroke-width="0.9"/><rect x="101.30" y="614.40" width="14.50" height="15.20" fill="#fff" stroke="#222" stroke-width="1"/><line x1="101.30" y1="624.40" x2="115.80" y2="624.40" stroke="#111" stroke-width="1.6"/><line x1="126.25" y1="619.80" x2="126.25" y2="623.30" stroke="#222" stroke-width="0.9"/><line x1="123.05" y1="619.80" x2="129.45" y2="619.80" stroke="#222" stroke-width="0.9"/><line x1="126.25" y1="627.20" x2="126.25" y2="631.20" stroke="#222" stroke-width="0.9"/><line x1="123.05" y1="631.20" x2="129.45" y2="631.20" stroke="#222" stroke-width="0.9"/><rect x="119.00" y="623.30" width="14.50" height="3.90" fill="#fff" stroke="#222" stroke-width="1"/><line x1="119.00" y1="624.90" x2="133.50" y2="624.90" stroke="#111" stroke-width="1.6"/><line x1="144.05" y1="622.80" x2="144.05" y2="625.60" stroke="#222" stroke-width="0.9"/><line x1="140.85" y1="622.80" x2="147.25" y2="622.80" stroke="#222" stroke-width="0.9"/><rect x="136.80" y="625.60" width="14.50" height="3.50" fill="#fff" stroke="#222" stroke-width="1"/><line x1="136.80" y1="626.80" x2="151.30" y2="626.80" stroke="#111" stroke-width="1.6"/><line x1="161.75" y1="658.30" x2="161.75" y2="662.30" stroke="#222" stroke-width="0.9"/><line x1="158.55" y1="662.30" x2="164.95" y2="662.30" stroke="#222" stroke-width="0.9"/><rect x="154.50" y="653.60" width="14.50" height="4.70" fill="#fff" stroke="#222" stroke-width="1"/><line x1="154.50" y1="655.30" x2="169.00" y2="655.30" stroke="#111" stroke-width="1.6"/><line x1="179.60" y1="646.60" x2="179.60" y2="652.20" stroke="#222" stroke-width="0.9"/><line x1="176.40" y1="646.60" x2="182.80" y2="646.60" stroke="#222" stroke-width="0.9"/><line x1="179.60" y1="666.20" x2="179.60" y2="669.30" stroke="#222" stroke-width="0.9"/><line x1="176.40" y1="669.30" x2="182.80" y2="669.30" stroke="#222" stroke-width="0.9"/><rect x="172.80" y="652.20" width="13.60" height="14.00" fill="#fff" stroke="#222" stroke-width="1"/><line x1="172.80" y1="652.90" x2="186.40" y2="652.90" stroke="#111" stroke-width="1.6"/><line x1="197.40" y1="653.40" x2="197.40" y2="656.40" stroke="#222" stroke-width="0.9"/><line x1="194.20" y1="653.40" x2="200.60" y2="653.40" stroke="#222" stroke-width="0.9"/><rect x="190.40" y="656.40" width="14.00" height="11.70" fill="#fff" stroke="#222" stroke-width="1"/><line x1="190.40" y1="666.90" x2="204.40" y2="666.90" stroke="#111" stroke-width="1.6"/><rect x="207.90" y="666.50" width="14.50" height="3.90" fill="#fff" stroke="#222" stroke-width="1"/><line x1="207.90" y1="669.30" x2="222.40" y2="669.30" stroke="#111" stroke-width="1.6"/><line x1="232.75" y1="664.60" x2="232.75" y2="671.10" stroke="#222" stroke-width="0.9"/><line x1="229.55" y1="664.60" x2="235.95" y2="664.60" stroke="#222" stroke-width="0.9"/><rect x="225.40" y="671.10" width="14.70" height="9.90" fill="#fff" stroke="#222" stroke-width="1"/><line x1="225.40" y1="676.30" x2="240.10" y2="676.30" stroke="#111" stroke-width="1.6"/><rect x="243.40" y="674.40" width="14.20" height="20.10" fill="#fff" stroke="#222" stroke-width="1"/><line x1="243.40" y1="674.60" x2="257.60" y2="674.60" stroke="#111" stroke-width="1.6"/><line x1="304.05" y1="711.30" x2="304.05" y2="713.20" stroke="#222" stroke-width="0.9"/><line x1="300.85" y1="713.20" x2="307.25" y2="713.20" stroke="#222" stroke-width="0.9"/><rect x="296.70" y="694.50" width="14.70" height="16.80" fill="#fff" stroke="#222" stroke-width="1"/><line x1="296.70" y1="694.50" x2="311.40" y2="694.50" stroke="#111" stroke-width="1.6"/><line x1="232.75" y1="681.00" x2="232.75" y2="694.50" stroke="#333" stroke-width="1" stroke-dasharray="1.5 1.2"/><circle cx="72.60" cy="636.10" r="2.3" fill="none" stroke="#222" stroke-width="0.9"/><circle cx="90.50" cy="593.40" r="2.3" fill="none" stroke="#222" stroke-width="0.9"/><circle cx="108.30" cy="590.10" r="2.3" fill="none" stroke="#222" stroke-width="0.9"/><circle cx="143.80" cy="633.50" r="2.3" fill="none" stroke="#222" stroke-width="0.9"/><circle cx="161.30" cy="641.90" r="2.3" fill="none" stroke="#222" stroke-width="0.9"/><circle cx="214.90" cy="660.40" r="2.3" fill="none" stroke="#222" stroke-width="0.9"/><circle cx="268.20" cy="682.10" r="2.3" fill="none" stroke="#222" stroke-width="0.9"/><circle cx="286.10" cy="710.20" r="2.3" fill="none" stroke="#222" stroke-width="0.9"/></svg></body></html>
